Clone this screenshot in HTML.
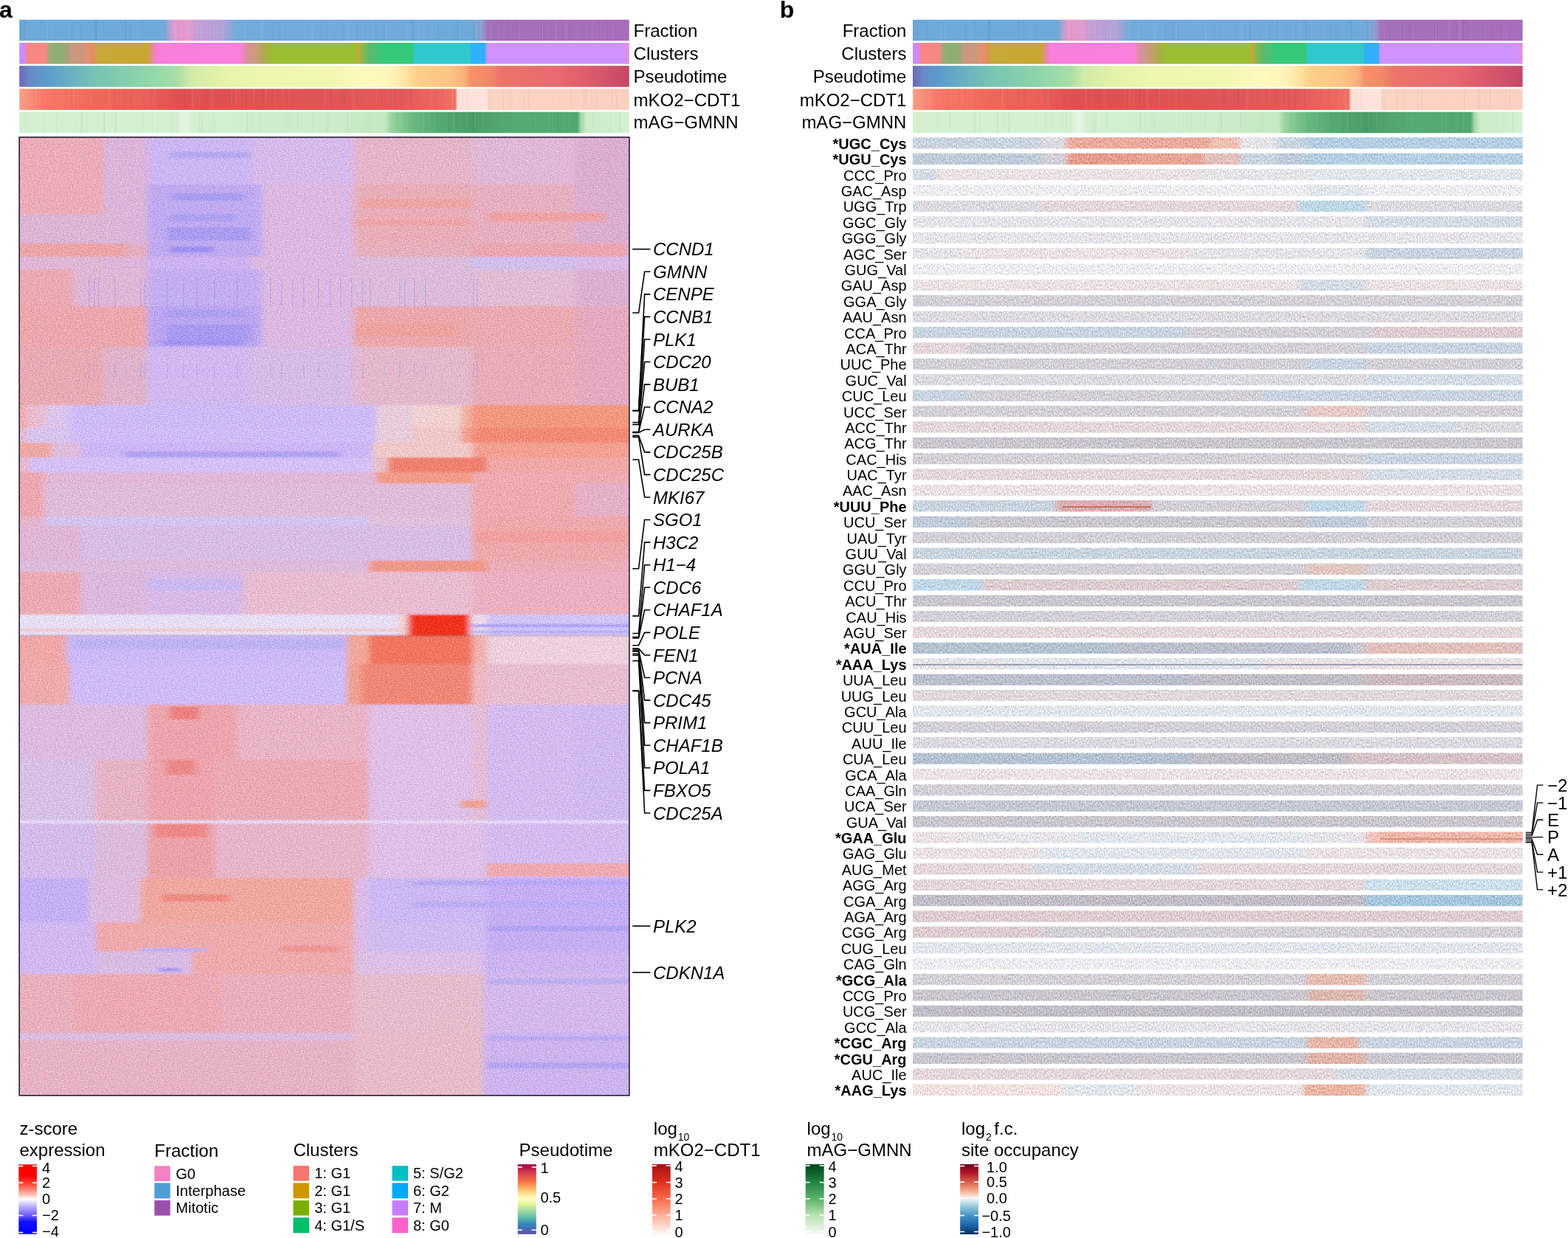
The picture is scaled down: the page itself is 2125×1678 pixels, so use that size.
<!DOCTYPE html><html><head><meta charset="utf-8"><title>Figure</title><style>html,body{margin:0;padding:0;background:#fff;}body{width:2125px;height:1678px;overflow:hidden;}svg{display:block;}</style></head><body><svg width="2125" height="1678" viewBox="0 0 2125 1678" font-family="'Liberation Sans', Arial, Helvetica, sans-serif" fill="#000"><defs><linearGradient id="g1" gradientUnits="userSpaceOnUse" x1="26.20" y1="0" x2="852.70" y2="0"><stop offset="0.0000" stop-color="#6aa2d4"/><stop offset="0.0046" stop-color="#6fa9d9"/><stop offset="0.2393" stop-color="#70aad9"/><stop offset="0.2466" stop-color="#b8a0d6"/><stop offset="0.2538" stop-color="#e29bcc"/><stop offset="0.2805" stop-color="#df9ccd"/><stop offset="0.2901" stop-color="#c4a0d6"/><stop offset="0.3313" stop-color="#b4a2d8"/><stop offset="0.3458" stop-color="#92a6d8"/><stop offset="0.3531" stop-color="#74aada"/><stop offset="0.7426" stop-color="#70aad9"/><stop offset="0.7572" stop-color="#8ea0d2"/><stop offset="0.7693" stop-color="#a470b8"/><stop offset="1.0000" stop-color="#a66db8"/></linearGradient><linearGradient id="g2" gradientUnits="userSpaceOnUse" x1="26.20" y1="0" x2="852.70" y2="0"><stop offset="0.0000" stop-color="#c98cff"/><stop offset="0.0070" stop-color="#c98cff"/><stop offset="0.0143" stop-color="#f98484"/><stop offset="0.0445" stop-color="#f48a80"/><stop offset="0.0482" stop-color="#a0a878"/><stop offset="0.0651" stop-color="#88b070"/><stop offset="0.0796" stop-color="#a8a078"/><stop offset="0.0845" stop-color="#c89880"/><stop offset="0.1074" stop-color="#d09878"/><stop offset="0.1111" stop-color="#e89070"/><stop offset="0.1220" stop-color="#e09060"/><stop offset="0.1280" stop-color="#c8a838"/><stop offset="0.2103" stop-color="#c8a830"/><stop offset="0.2175" stop-color="#e08c98"/><stop offset="0.2272" stop-color="#fa7edc"/><stop offset="0.3627" stop-color="#fa80dc"/><stop offset="0.3724" stop-color="#d8909c"/><stop offset="0.3894" stop-color="#c89c78"/><stop offset="0.4063" stop-color="#a8b040"/><stop offset="0.4184" stop-color="#98c030"/><stop offset="0.5515" stop-color="#98c030"/><stop offset="0.5551" stop-color="#d8a040"/><stop offset="0.5600" stop-color="#98b840"/><stop offset="0.5733" stop-color="#60b868"/><stop offset="0.5902" stop-color="#40c478"/><stop offset="0.5950" stop-color="#34c878"/><stop offset="0.6446" stop-color="#34c878"/><stop offset="0.6471" stop-color="#30c8cc"/><stop offset="0.7390" stop-color="#30c8cc"/><stop offset="0.7414" stop-color="#30b0ff"/><stop offset="0.7632" stop-color="#30b0ff"/><stop offset="0.7668" stop-color="#d092ff"/><stop offset="0.9919" stop-color="#d092ff"/><stop offset="0.9967" stop-color="#e090e0"/><stop offset="1.0000" stop-color="#e090e0"/></linearGradient><linearGradient id="g3" gradientUnits="userSpaceOnUse" x1="26.20" y1="0" x2="852.70" y2="0"><stop offset="0.0000" stop-color="#6e68b8"/><stop offset="0.0167" stop-color="#6a88c8"/><stop offset="0.0433" stop-color="#5a9ccc"/><stop offset="0.0772" stop-color="#68acc4"/><stop offset="0.1256" stop-color="#78c4b4"/><stop offset="0.1800" stop-color="#84d0ac"/><stop offset="0.2284" stop-color="#98daaa"/><stop offset="0.2587" stop-color="#a8dea8"/><stop offset="0.2805" stop-color="#d0eba8"/><stop offset="0.3313" stop-color="#e4f3a8"/><stop offset="0.3918" stop-color="#eef6b0"/><stop offset="0.5007" stop-color="#f2f6b0"/><stop offset="0.5733" stop-color="#fdfac0"/><stop offset="0.6096" stop-color="#fef4b8"/><stop offset="0.6338" stop-color="#fde4a0"/><stop offset="0.6519" stop-color="#fcd088"/><stop offset="0.7064" stop-color="#fcc482"/><stop offset="0.7306" stop-color="#fbb078"/><stop offset="0.7402" stop-color="#f89068"/><stop offset="0.7668" stop-color="#f58a68"/><stop offset="0.7910" stop-color="#ec7468"/><stop offset="0.8878" stop-color="#e86870"/><stop offset="0.9362" stop-color="#dc5a6c"/><stop offset="1.0000" stop-color="#c44868"/></linearGradient><linearGradient id="g4" gradientUnits="userSpaceOnUse" x1="26.20" y1="0" x2="852.70" y2="0"><stop offset="0.0000" stop-color="#fca088"/><stop offset="0.0167" stop-color="#fa8e78"/><stop offset="0.0409" stop-color="#f87868"/><stop offset="0.0893" stop-color="#f47060"/><stop offset="0.1256" stop-color="#f06858"/><stop offset="0.2103" stop-color="#e86058"/><stop offset="0.2587" stop-color="#e05050"/><stop offset="0.3313" stop-color="#e05050"/><stop offset="0.5007" stop-color="#e05555"/><stop offset="0.6217" stop-color="#e45858"/><stop offset="0.6943" stop-color="#ee6860"/><stop offset="0.7148" stop-color="#f07060"/><stop offset="0.7185" stop-color="#fbe0d8"/><stop offset="0.7668" stop-color="#fce4dc"/><stop offset="0.7705" stop-color="#fcd4c4"/><stop offset="1.0000" stop-color="#fcd0c0"/></linearGradient><linearGradient id="g5" gradientUnits="userSpaceOnUse" x1="26.20" y1="0" x2="852.70" y2="0"><stop offset="0.0000" stop-color="#d4efd2"/><stop offset="0.2587" stop-color="#d4efd2"/><stop offset="0.2732" stop-color="#e6f7e6"/><stop offset="0.2853" stop-color="#d4efd2"/><stop offset="0.5007" stop-color="#cceccb"/><stop offset="0.5999" stop-color="#c4e8c4"/><stop offset="0.6096" stop-color="#98d4a0"/><stop offset="0.6277" stop-color="#80c890"/><stop offset="0.6459" stop-color="#68b880"/><stop offset="0.6943" stop-color="#52a872"/><stop offset="0.7426" stop-color="#4a9e6a"/><stop offset="0.8152" stop-color="#54aa74"/><stop offset="0.9145" stop-color="#50a870"/><stop offset="0.9217" stop-color="#a8dcb0"/><stop offset="0.9302" stop-color="#ccecca"/><stop offset="1.0000" stop-color="#d4f0d4"/></linearGradient><linearGradient id="g6" gradientUnits="userSpaceOnUse" x1="1237.00" y1="0" x2="2063.50" y2="0"><stop offset="0.0000" stop-color="#6aa2d4"/><stop offset="0.0046" stop-color="#6fa9d9"/><stop offset="0.2393" stop-color="#70aad9"/><stop offset="0.2466" stop-color="#b8a0d6"/><stop offset="0.2538" stop-color="#e29bcc"/><stop offset="0.2805" stop-color="#df9ccd"/><stop offset="0.2901" stop-color="#c4a0d6"/><stop offset="0.3313" stop-color="#b4a2d8"/><stop offset="0.3458" stop-color="#92a6d8"/><stop offset="0.3531" stop-color="#74aada"/><stop offset="0.7426" stop-color="#70aad9"/><stop offset="0.7572" stop-color="#8ea0d2"/><stop offset="0.7693" stop-color="#a470b8"/><stop offset="1.0000" stop-color="#a66db8"/></linearGradient><linearGradient id="g7" gradientUnits="userSpaceOnUse" x1="1237.00" y1="0" x2="2063.50" y2="0"><stop offset="0.0000" stop-color="#c98cff"/><stop offset="0.0070" stop-color="#c98cff"/><stop offset="0.0143" stop-color="#f98484"/><stop offset="0.0445" stop-color="#f48a80"/><stop offset="0.0482" stop-color="#a0a878"/><stop offset="0.0651" stop-color="#88b070"/><stop offset="0.0796" stop-color="#a8a078"/><stop offset="0.0845" stop-color="#c89880"/><stop offset="0.1074" stop-color="#d09878"/><stop offset="0.1111" stop-color="#e89070"/><stop offset="0.1220" stop-color="#e09060"/><stop offset="0.1280" stop-color="#c8a838"/><stop offset="0.2103" stop-color="#c8a830"/><stop offset="0.2175" stop-color="#e08c98"/><stop offset="0.2272" stop-color="#fa7edc"/><stop offset="0.3627" stop-color="#fa80dc"/><stop offset="0.3724" stop-color="#d8909c"/><stop offset="0.3894" stop-color="#c89c78"/><stop offset="0.4063" stop-color="#a8b040"/><stop offset="0.4184" stop-color="#98c030"/><stop offset="0.5515" stop-color="#98c030"/><stop offset="0.5551" stop-color="#d8a040"/><stop offset="0.5600" stop-color="#98b840"/><stop offset="0.5733" stop-color="#60b868"/><stop offset="0.5902" stop-color="#40c478"/><stop offset="0.5950" stop-color="#34c878"/><stop offset="0.6446" stop-color="#34c878"/><stop offset="0.6471" stop-color="#30c8cc"/><stop offset="0.7390" stop-color="#30c8cc"/><stop offset="0.7414" stop-color="#30b0ff"/><stop offset="0.7632" stop-color="#30b0ff"/><stop offset="0.7668" stop-color="#d092ff"/><stop offset="0.9919" stop-color="#d092ff"/><stop offset="0.9967" stop-color="#e090e0"/><stop offset="1.0000" stop-color="#e090e0"/></linearGradient><linearGradient id="g8" gradientUnits="userSpaceOnUse" x1="1237.00" y1="0" x2="2063.50" y2="0"><stop offset="0.0000" stop-color="#6e68b8"/><stop offset="0.0167" stop-color="#6a88c8"/><stop offset="0.0433" stop-color="#5a9ccc"/><stop offset="0.0772" stop-color="#68acc4"/><stop offset="0.1256" stop-color="#78c4b4"/><stop offset="0.1800" stop-color="#84d0ac"/><stop offset="0.2284" stop-color="#98daaa"/><stop offset="0.2587" stop-color="#a8dea8"/><stop offset="0.2805" stop-color="#d0eba8"/><stop offset="0.3313" stop-color="#e4f3a8"/><stop offset="0.3918" stop-color="#eef6b0"/><stop offset="0.5007" stop-color="#f2f6b0"/><stop offset="0.5733" stop-color="#fdfac0"/><stop offset="0.6096" stop-color="#fef4b8"/><stop offset="0.6338" stop-color="#fde4a0"/><stop offset="0.6519" stop-color="#fcd088"/><stop offset="0.7064" stop-color="#fcc482"/><stop offset="0.7306" stop-color="#fbb078"/><stop offset="0.7402" stop-color="#f89068"/><stop offset="0.7668" stop-color="#f58a68"/><stop offset="0.7910" stop-color="#ec7468"/><stop offset="0.8878" stop-color="#e86870"/><stop offset="0.9362" stop-color="#dc5a6c"/><stop offset="1.0000" stop-color="#c44868"/></linearGradient><linearGradient id="g9" gradientUnits="userSpaceOnUse" x1="1237.00" y1="0" x2="2063.50" y2="0"><stop offset="0.0000" stop-color="#fca088"/><stop offset="0.0167" stop-color="#fa8e78"/><stop offset="0.0409" stop-color="#f87868"/><stop offset="0.0893" stop-color="#f47060"/><stop offset="0.1256" stop-color="#f06858"/><stop offset="0.2103" stop-color="#e86058"/><stop offset="0.2587" stop-color="#e05050"/><stop offset="0.3313" stop-color="#e05050"/><stop offset="0.5007" stop-color="#e05555"/><stop offset="0.6217" stop-color="#e45858"/><stop offset="0.6943" stop-color="#ee6860"/><stop offset="0.7148" stop-color="#f07060"/><stop offset="0.7185" stop-color="#fbe0d8"/><stop offset="0.7668" stop-color="#fce4dc"/><stop offset="0.7705" stop-color="#fcd4c4"/><stop offset="1.0000" stop-color="#fcd0c0"/></linearGradient><linearGradient id="g10" gradientUnits="userSpaceOnUse" x1="1237.00" y1="0" x2="2063.50" y2="0"><stop offset="0.0000" stop-color="#d4efd2"/><stop offset="0.2587" stop-color="#d4efd2"/><stop offset="0.2732" stop-color="#e6f7e6"/><stop offset="0.2853" stop-color="#d4efd2"/><stop offset="0.5007" stop-color="#cceccb"/><stop offset="0.5999" stop-color="#c4e8c4"/><stop offset="0.6096" stop-color="#98d4a0"/><stop offset="0.6277" stop-color="#80c890"/><stop offset="0.6459" stop-color="#68b880"/><stop offset="0.6943" stop-color="#52a872"/><stop offset="0.7426" stop-color="#4a9e6a"/><stop offset="0.8152" stop-color="#54aa74"/><stop offset="0.9145" stop-color="#50a870"/><stop offset="0.9217" stop-color="#a8dcb0"/><stop offset="0.9302" stop-color="#ccecca"/><stop offset="1.0000" stop-color="#d4f0d4"/></linearGradient><clipPath id="hclip"><rect x="26.20" y="186.00" width="826.60" height="1298.80"/></clipPath><filter id="hblur" filterUnits="userSpaceOnUse" x="0" y="170" width="900" height="1340"><feGaussianBlur stdDeviation="4 1.0"/></filter><filter id="hnoise" filterUnits="userSpaceOnUse" x="26.2" y="186.0" width="826.6" height="1298.8" color-interpolation-filters="sRGB"><feTurbulence type="fractalNoise" baseFrequency="0.55 0.9" numOctaves="2" seed="11" result="n"/><feColorMatrix in="n" type="matrix" values="0.6 0.3 0 0 0.05  0.7 0 0 0 0.15  0.6 -0.3 0 0 0.35  0 0 0 0 1" result="c"/><feComposite in="SourceGraphic" in2="c" operator="arithmetic" k1="0" k2="1" k3="0.45" k4="-0.225"/></filter><filter id="bnoise" filterUnits="userSpaceOnUse" x="1237.0" y="186.1" width="826.6" height="1304.8" color-interpolation-filters="sRGB"><feTurbulence type="fractalNoise" baseFrequency="0.8 0.35" numOctaves="2" seed="23" result="n"/><feColorMatrix in="n" type="matrix" values="0.6 0.3 0 0 0.05  0.7 0 0 0 0.15  0.6 -0.3 0 0 0.35  0 0 0 0 1" result="c"/><feComposite in="SourceGraphic" in2="c" operator="arithmetic" k1="0" k2="1" k3="0.65" k4="-0.325"/></filter><clipPath id="bclip"><rect x="1237.00" y="186.10" width="826.60" height="15.60"/><rect x="1237.00" y="207.49" width="826.60" height="15.60"/><rect x="1237.00" y="228.88" width="826.60" height="15.60"/><rect x="1237.00" y="250.27" width="826.60" height="15.60"/><rect x="1237.00" y="271.66" width="826.60" height="15.60"/><rect x="1237.00" y="293.05" width="826.60" height="15.60"/><rect x="1237.00" y="314.44" width="826.60" height="15.60"/><rect x="1237.00" y="335.83" width="826.60" height="15.60"/><rect x="1237.00" y="357.22" width="826.60" height="15.60"/><rect x="1237.00" y="378.61" width="826.60" height="15.60"/><rect x="1237.00" y="400.00" width="826.60" height="15.60"/><rect x="1237.00" y="421.39" width="826.60" height="15.60"/><rect x="1237.00" y="442.78" width="826.60" height="15.60"/><rect x="1237.00" y="464.17" width="826.60" height="15.60"/><rect x="1237.00" y="485.56" width="826.60" height="15.60"/><rect x="1237.00" y="506.95" width="826.60" height="15.60"/><rect x="1237.00" y="528.34" width="826.60" height="15.60"/><rect x="1237.00" y="549.73" width="826.60" height="15.60"/><rect x="1237.00" y="571.12" width="826.60" height="15.60"/><rect x="1237.00" y="592.51" width="826.60" height="15.60"/><rect x="1237.00" y="613.90" width="826.60" height="15.60"/><rect x="1237.00" y="635.29" width="826.60" height="15.60"/><rect x="1237.00" y="656.68" width="826.60" height="15.60"/><rect x="1237.00" y="678.07" width="826.60" height="15.60"/><rect x="1237.00" y="699.46" width="826.60" height="15.60"/><rect x="1237.00" y="720.85" width="826.60" height="15.60"/><rect x="1237.00" y="742.24" width="826.60" height="15.60"/><rect x="1237.00" y="763.63" width="826.60" height="15.60"/><rect x="1237.00" y="785.02" width="826.60" height="15.60"/><rect x="1237.00" y="806.41" width="826.60" height="15.60"/><rect x="1237.00" y="827.80" width="826.60" height="15.60"/><rect x="1237.00" y="849.19" width="826.60" height="15.60"/><rect x="1237.00" y="870.58" width="826.60" height="15.60"/><rect x="1237.00" y="891.97" width="826.60" height="15.60"/><rect x="1237.00" y="913.36" width="826.60" height="15.60"/><rect x="1237.00" y="934.75" width="826.60" height="15.60"/><rect x="1237.00" y="956.14" width="826.60" height="15.60"/><rect x="1237.00" y="977.53" width="826.60" height="15.60"/><rect x="1237.00" y="998.92" width="826.60" height="15.60"/><rect x="1237.00" y="1020.31" width="826.60" height="15.60"/><rect x="1237.00" y="1041.70" width="826.60" height="15.60"/><rect x="1237.00" y="1063.09" width="826.60" height="15.60"/><rect x="1237.00" y="1084.48" width="826.60" height="15.60"/><rect x="1237.00" y="1105.87" width="826.60" height="15.60"/><rect x="1237.00" y="1127.26" width="826.60" height="15.60"/><rect x="1237.00" y="1148.65" width="826.60" height="15.60"/><rect x="1237.00" y="1170.04" width="826.60" height="15.60"/><rect x="1237.00" y="1191.43" width="826.60" height="15.60"/><rect x="1237.00" y="1212.82" width="826.60" height="15.60"/><rect x="1237.00" y="1234.21" width="826.60" height="15.60"/><rect x="1237.00" y="1255.60" width="826.60" height="15.60"/><rect x="1237.00" y="1276.99" width="826.60" height="15.60"/><rect x="1237.00" y="1298.38" width="826.60" height="15.60"/><rect x="1237.00" y="1319.77" width="826.60" height="15.60"/><rect x="1237.00" y="1341.16" width="826.60" height="15.60"/><rect x="1237.00" y="1362.55" width="826.60" height="15.60"/><rect x="1237.00" y="1383.94" width="826.60" height="15.60"/><rect x="1237.00" y="1405.33" width="826.60" height="15.60"/><rect x="1237.00" y="1426.72" width="826.60" height="15.60"/><rect x="1237.00" y="1448.11" width="826.60" height="15.60"/><rect x="1237.00" y="1469.50" width="826.60" height="15.60"/></clipPath><filter id="bblur" filterUnits="userSpaceOnUse" x="1217.0" y="181.1" width="866.6" height="1314.8"><feGaussianBlur stdDeviation="3 0"/></filter><linearGradient id="g11" gradientUnits="userSpaceOnUse" x1="1237.00" y1="0" x2="2063.60" y2="0"><stop offset="0.0018" stop-color="#c9d4df"/><stop offset="0.2087" stop-color="#c9d4df"/><stop offset="0.2123" stop-color="#dcdadf"/><stop offset="0.2510" stop-color="#dcdadf"/><stop offset="0.2547" stop-color="#eeaa9c"/><stop offset="0.4869" stop-color="#eeaa9c"/><stop offset="0.4906" stop-color="#f0c0b4"/><stop offset="0.5353" stop-color="#f0c0b4"/><stop offset="0.5390" stop-color="#e6e4e8"/><stop offset="0.5958" stop-color="#e6e4e8"/><stop offset="0.5994" stop-color="#c9d4df"/><stop offset="0.6442" stop-color="#c9d4df"/><stop offset="0.6478" stop-color="#b3cfe2"/><stop offset="0.9987" stop-color="#b3cfe2"/></linearGradient><linearGradient id="g12" gradientUnits="userSpaceOnUse" x1="1237.00" y1="0" x2="2063.60" y2="0"><stop offset="0.0018" stop-color="#becbd9"/><stop offset="0.2087" stop-color="#becbd9"/><stop offset="0.2123" stop-color="#d3d0d7"/><stop offset="0.2510" stop-color="#d3d0d7"/><stop offset="0.2547" stop-color="#e89c8c"/><stop offset="0.3660" stop-color="#e89c8c"/><stop offset="0.3696" stop-color="#e8a494"/><stop offset="0.4748" stop-color="#e8a494"/><stop offset="0.4785" stop-color="#e4c0bc"/><stop offset="0.5353" stop-color="#e4c0bc"/><stop offset="0.5390" stop-color="#c9d4df"/><stop offset="0.5958" stop-color="#c9d4df"/><stop offset="0.5994" stop-color="#becbd9"/><stop offset="0.6442" stop-color="#becbd9"/><stop offset="0.6478" stop-color="#b3cfe2"/><stop offset="0.9987" stop-color="#b3cfe2"/></linearGradient><linearGradient id="g13" gradientUnits="userSpaceOnUse" x1="1237.00" y1="0" x2="2063.60" y2="0"><stop offset="0.0018" stop-color="#d4dce5"/><stop offset="0.0393" stop-color="#d4dce5"/><stop offset="0.0429" stop-color="#ebe2e3"/><stop offset="0.4748" stop-color="#ebe2e3"/><stop offset="0.4785" stop-color="#e6e4e8"/><stop offset="0.6442" stop-color="#e6e4e8"/><stop offset="0.6478" stop-color="#e0e6ec"/><stop offset="0.9987" stop-color="#e0e6ec"/></linearGradient><linearGradient id="g14" gradientUnits="userSpaceOnUse" x1="1237.00" y1="0" x2="2063.60" y2="0"><stop offset="0.0018" stop-color="#eeedf0"/><stop offset="0.6442" stop-color="#eeedf0"/><stop offset="0.6478" stop-color="#e0e6ec"/><stop offset="0.7410" stop-color="#e0e6ec"/><stop offset="0.7446" stop-color="#eeedf0"/><stop offset="0.9987" stop-color="#eeedf0"/></linearGradient><linearGradient id="g15" gradientUnits="userSpaceOnUse" x1="1237.00" y1="0" x2="2063.60" y2="0"><stop offset="0.0018" stop-color="#dcdadf"/><stop offset="0.2087" stop-color="#dcdadf"/><stop offset="0.2123" stop-color="#e4d7d9"/><stop offset="0.6321" stop-color="#e4d7d9"/><stop offset="0.6357" stop-color="#bfd7e7"/><stop offset="0.7410" stop-color="#bfd7e7"/><stop offset="0.7446" stop-color="#dcdadf"/><stop offset="0.9987" stop-color="#dcdadf"/></linearGradient><linearGradient id="g16" gradientUnits="userSpaceOnUse" x1="1237.00" y1="0" x2="2063.60" y2="0"><stop offset="0.0018" stop-color="#e6e4e8"/><stop offset="0.7410" stop-color="#e6e4e8"/><stop offset="0.7446" stop-color="#d4dce5"/><stop offset="0.9987" stop-color="#d4dce5"/></linearGradient><linearGradient id="g17" gradientUnits="userSpaceOnUse" x1="1237.00" y1="0" x2="2063.60" y2="0"><stop offset="0.0018" stop-color="#e6e4e8"/><stop offset="0.9987" stop-color="#e6e4e8"/></linearGradient><linearGradient id="g18" gradientUnits="userSpaceOnUse" x1="1237.00" y1="0" x2="2063.60" y2="0"><stop offset="0.0018" stop-color="#e6e4e8"/><stop offset="0.0877" stop-color="#e6e4e8"/><stop offset="0.0913" stop-color="#ebe2e3"/><stop offset="0.4506" stop-color="#ebe2e3"/><stop offset="0.4543" stop-color="#e6e4e8"/><stop offset="0.7410" stop-color="#e6e4e8"/><stop offset="0.7446" stop-color="#c9d4df"/><stop offset="0.9987" stop-color="#c9d4df"/></linearGradient><linearGradient id="g19" gradientUnits="userSpaceOnUse" x1="1237.00" y1="0" x2="2063.60" y2="0"><stop offset="0.0018" stop-color="#eeedf0"/><stop offset="0.9987" stop-color="#eeedf0"/></linearGradient><linearGradient id="g20" gradientUnits="userSpaceOnUse" x1="1237.00" y1="0" x2="2063.60" y2="0"><stop offset="0.0018" stop-color="#ebe2e3"/><stop offset="0.6321" stop-color="#ebe2e3"/><stop offset="0.6357" stop-color="#d4dce5"/><stop offset="0.7410" stop-color="#d4dce5"/><stop offset="0.7446" stop-color="#ebe2e3"/><stop offset="0.9987" stop-color="#ebe2e3"/></linearGradient><linearGradient id="g21" gradientUnits="userSpaceOnUse" x1="1237.00" y1="0" x2="2063.60" y2="0"><stop offset="0.0018" stop-color="#d3d0d7"/><stop offset="0.9987" stop-color="#d3d0d7"/></linearGradient><linearGradient id="g22" gradientUnits="userSpaceOnUse" x1="1237.00" y1="0" x2="2063.60" y2="0"><stop offset="0.0018" stop-color="#dcdadf"/><stop offset="0.9987" stop-color="#dcdadf"/></linearGradient><linearGradient id="g23" gradientUnits="userSpaceOnUse" x1="1237.00" y1="0" x2="2063.60" y2="0"><stop offset="0.0018" stop-color="#c9d4df"/><stop offset="0.4506" stop-color="#c9d4df"/><stop offset="0.4543" stop-color="#d3d0d7"/><stop offset="0.7531" stop-color="#d3d0d7"/><stop offset="0.7567" stop-color="#ddcdcf"/><stop offset="0.9987" stop-color="#ddcdcf"/></linearGradient><linearGradient id="g24" gradientUnits="userSpaceOnUse" x1="1237.00" y1="0" x2="2063.60" y2="0"><stop offset="0.0018" stop-color="#e4d7d9"/><stop offset="0.0877" stop-color="#e4d7d9"/><stop offset="0.0913" stop-color="#d3d0d7"/><stop offset="0.7410" stop-color="#d3d0d7"/><stop offset="0.7446" stop-color="#c9d4df"/><stop offset="0.9987" stop-color="#c9d4df"/></linearGradient><linearGradient id="g25" gradientUnits="userSpaceOnUse" x1="1237.00" y1="0" x2="2063.60" y2="0"><stop offset="0.0018" stop-color="#d3d0d7"/><stop offset="0.6442" stop-color="#d3d0d7"/><stop offset="0.6478" stop-color="#c9d4df"/><stop offset="0.7410" stop-color="#c9d4df"/><stop offset="0.7446" stop-color="#d3d0d7"/><stop offset="0.9987" stop-color="#d3d0d7"/></linearGradient><linearGradient id="g26" gradientUnits="userSpaceOnUse" x1="1237.00" y1="0" x2="2063.60" y2="0"><stop offset="0.0018" stop-color="#dcdadf"/><stop offset="0.7410" stop-color="#dcdadf"/><stop offset="0.7446" stop-color="#d4dce5"/><stop offset="0.9987" stop-color="#d4dce5"/></linearGradient><linearGradient id="g27" gradientUnits="userSpaceOnUse" x1="1237.00" y1="0" x2="2063.60" y2="0"><stop offset="0.0018" stop-color="#c9d4df"/><stop offset="0.0877" stop-color="#c9d4df"/><stop offset="0.0913" stop-color="#d3d0d7"/><stop offset="0.5716" stop-color="#d3d0d7"/><stop offset="0.5752" stop-color="#c9d4df"/><stop offset="0.9987" stop-color="#c9d4df"/></linearGradient><linearGradient id="g28" gradientUnits="userSpaceOnUse" x1="1237.00" y1="0" x2="2063.60" y2="0"><stop offset="0.0018" stop-color="#d3d0d7"/><stop offset="0.6442" stop-color="#d3d0d7"/><stop offset="0.6478" stop-color="#e4cac4"/><stop offset="0.7410" stop-color="#e4cac4"/><stop offset="0.7446" stop-color="#d3d0d7"/><stop offset="0.9987" stop-color="#d3d0d7"/></linearGradient><linearGradient id="g29" gradientUnits="userSpaceOnUse" x1="1237.00" y1="0" x2="2063.60" y2="0"><stop offset="0.0018" stop-color="#e4d7d9"/><stop offset="0.7410" stop-color="#e4d7d9"/><stop offset="0.7446" stop-color="#d4dce5"/><stop offset="0.8862" stop-color="#d4dce5"/><stop offset="0.8898" stop-color="#dcdadf"/><stop offset="0.9987" stop-color="#dcdadf"/></linearGradient><linearGradient id="g30" gradientUnits="userSpaceOnUse" x1="1237.00" y1="0" x2="2063.60" y2="0"><stop offset="0.0018" stop-color="#cac7cf"/><stop offset="0.9987" stop-color="#cac7cf"/></linearGradient><linearGradient id="g31" gradientUnits="userSpaceOnUse" x1="1237.00" y1="0" x2="2063.60" y2="0"><stop offset="0.0018" stop-color="#d3d0d7"/><stop offset="0.7410" stop-color="#d3d0d7"/><stop offset="0.7446" stop-color="#c9d4df"/><stop offset="0.9987" stop-color="#c9d4df"/></linearGradient><linearGradient id="g32" gradientUnits="userSpaceOnUse" x1="1237.00" y1="0" x2="2063.60" y2="0"><stop offset="0.0018" stop-color="#e4d7d9"/><stop offset="0.7410" stop-color="#e4d7d9"/><stop offset="0.7446" stop-color="#d4dce5"/><stop offset="0.9987" stop-color="#d4dce5"/></linearGradient><linearGradient id="g33" gradientUnits="userSpaceOnUse" x1="1237.00" y1="0" x2="2063.60" y2="0"><stop offset="0.0018" stop-color="#ebe2e3"/><stop offset="0.9987" stop-color="#ebe2e3"/></linearGradient><linearGradient id="g34" gradientUnits="userSpaceOnUse" x1="1237.00" y1="0" x2="2063.60" y2="0"><stop offset="0.0018" stop-color="#c9d4df"/><stop offset="0.2329" stop-color="#c9d4df"/><stop offset="0.2365" stop-color="#d8b0b0"/><stop offset="0.3902" stop-color="#d8b0b0"/><stop offset="0.3938" stop-color="#d3d0d7"/><stop offset="0.6442" stop-color="#d3d0d7"/><stop offset="0.6478" stop-color="#bfd7e7"/><stop offset="0.7410" stop-color="#bfd7e7"/><stop offset="0.7446" stop-color="#e4d7d9"/><stop offset="0.9987" stop-color="#e4d7d9"/></linearGradient><linearGradient id="g35" gradientUnits="userSpaceOnUse" x1="1237.00" y1="0" x2="2063.60" y2="0"><stop offset="0.0018" stop-color="#becbd9"/><stop offset="0.0877" stop-color="#becbd9"/><stop offset="0.0913" stop-color="#cac7cf"/><stop offset="0.6442" stop-color="#cac7cf"/><stop offset="0.6478" stop-color="#becbd9"/><stop offset="0.7410" stop-color="#becbd9"/><stop offset="0.7446" stop-color="#d3d0d7"/><stop offset="0.9987" stop-color="#d3d0d7"/></linearGradient><linearGradient id="g36" gradientUnits="userSpaceOnUse" x1="1237.00" y1="0" x2="2063.60" y2="0"><stop offset="0.0018" stop-color="#d3d0d7"/><stop offset="0.9987" stop-color="#d3d0d7"/></linearGradient><linearGradient id="g37" gradientUnits="userSpaceOnUse" x1="1237.00" y1="0" x2="2063.60" y2="0"><stop offset="0.0018" stop-color="#c9d4df"/><stop offset="0.9987" stop-color="#c9d4df"/></linearGradient><linearGradient id="g38" gradientUnits="userSpaceOnUse" x1="1237.00" y1="0" x2="2063.60" y2="0"><stop offset="0.0018" stop-color="#d3d0d7"/><stop offset="0.6442" stop-color="#d3d0d7"/><stop offset="0.6478" stop-color="#e2c8c2"/><stop offset="0.7410" stop-color="#e2c8c2"/><stop offset="0.7446" stop-color="#d3d0d7"/><stop offset="0.9987" stop-color="#d3d0d7"/></linearGradient><linearGradient id="g39" gradientUnits="userSpaceOnUse" x1="1237.00" y1="0" x2="2063.60" y2="0"><stop offset="0.0018" stop-color="#bfd7e7"/><stop offset="0.1119" stop-color="#bfd7e7"/><stop offset="0.1155" stop-color="#ddcdcf"/><stop offset="0.6321" stop-color="#ddcdcf"/><stop offset="0.6357" stop-color="#bfd7e7"/><stop offset="0.7410" stop-color="#bfd7e7"/><stop offset="0.7446" stop-color="#ddcdcf"/><stop offset="0.9987" stop-color="#ddcdcf"/></linearGradient><linearGradient id="g40" gradientUnits="userSpaceOnUse" x1="1237.00" y1="0" x2="2063.60" y2="0"><stop offset="0.0018" stop-color="#cac7cf"/><stop offset="0.9987" stop-color="#cac7cf"/></linearGradient><linearGradient id="g41" gradientUnits="userSpaceOnUse" x1="1237.00" y1="0" x2="2063.60" y2="0"><stop offset="0.0018" stop-color="#d3d0d7"/><stop offset="0.9987" stop-color="#d3d0d7"/></linearGradient><linearGradient id="g42" gradientUnits="userSpaceOnUse" x1="1237.00" y1="0" x2="2063.60" y2="0"><stop offset="0.0018" stop-color="#e4d7d9"/><stop offset="0.9987" stop-color="#e4d7d9"/></linearGradient><linearGradient id="g43" gradientUnits="userSpaceOnUse" x1="1237.00" y1="0" x2="2063.60" y2="0"><stop offset="0.0018" stop-color="#b4c3d2"/><stop offset="0.3297" stop-color="#b4c3d2"/><stop offset="0.3333" stop-color="#bac0cd"/><stop offset="0.7168" stop-color="#bac0cd"/><stop offset="0.7204" stop-color="#cac7cf"/><stop offset="0.7410" stop-color="#cac7cf"/><stop offset="0.7446" stop-color="#e2bfbc"/><stop offset="0.9987" stop-color="#e2bfbc"/></linearGradient><linearGradient id="g44" gradientUnits="userSpaceOnUse" x1="1237.00" y1="0" x2="2063.60" y2="0"><stop offset="0.0018" stop-color="#e6e4e8"/><stop offset="0.1482" stop-color="#e6e4e8"/><stop offset="0.1518" stop-color="#e0e6ec"/><stop offset="0.5716" stop-color="#e0e6ec"/><stop offset="0.5752" stop-color="#ebe2e3"/><stop offset="0.9987" stop-color="#ebe2e3"/></linearGradient><linearGradient id="g45" gradientUnits="userSpaceOnUse" x1="1237.00" y1="0" x2="2063.60" y2="0"><stop offset="0.0018" stop-color="#bac0cd"/><stop offset="0.4506" stop-color="#bac0cd"/><stop offset="0.4543" stop-color="#c1bec7"/><stop offset="0.7410" stop-color="#c1bec7"/><stop offset="0.7446" stop-color="#cbbabf"/><stop offset="0.9987" stop-color="#cbbabf"/></linearGradient><linearGradient id="g46" gradientUnits="userSpaceOnUse" x1="1237.00" y1="0" x2="2063.60" y2="0"><stop offset="0.0018" stop-color="#e0d8dc"/><stop offset="0.9987" stop-color="#e0d8dc"/></linearGradient><linearGradient id="g47" gradientUnits="userSpaceOnUse" x1="1237.00" y1="0" x2="2063.60" y2="0"><stop offset="0.0018" stop-color="#e0e6ec"/><stop offset="0.9987" stop-color="#e0e6ec"/></linearGradient><linearGradient id="g48" gradientUnits="userSpaceOnUse" x1="1237.00" y1="0" x2="2063.60" y2="0"><stop offset="0.0018" stop-color="#d3d0d7"/><stop offset="0.9987" stop-color="#d3d0d7"/></linearGradient><linearGradient id="g49" gradientUnits="userSpaceOnUse" x1="1237.00" y1="0" x2="2063.60" y2="0"><stop offset="0.0018" stop-color="#dcdadf"/><stop offset="0.9987" stop-color="#dcdadf"/></linearGradient><linearGradient id="g50" gradientUnits="userSpaceOnUse" x1="1237.00" y1="0" x2="2063.60" y2="0"><stop offset="0.0018" stop-color="#b4c3d2"/><stop offset="0.4506" stop-color="#b4c3d2"/><stop offset="0.4543" stop-color="#c1bec7"/><stop offset="0.7168" stop-color="#c1bec7"/><stop offset="0.7204" stop-color="#d6c3c6"/><stop offset="0.9987" stop-color="#d6c3c6"/></linearGradient><linearGradient id="g51" gradientUnits="userSpaceOnUse" x1="1237.00" y1="0" x2="2063.60" y2="0"><stop offset="0.0018" stop-color="#ebe2e3"/><stop offset="0.9987" stop-color="#ebe2e3"/></linearGradient><linearGradient id="g52" gradientUnits="userSpaceOnUse" x1="1237.00" y1="0" x2="2063.60" y2="0"><stop offset="0.0018" stop-color="#d3d0d7"/><stop offset="0.9987" stop-color="#d3d0d7"/></linearGradient><linearGradient id="g53" gradientUnits="userSpaceOnUse" x1="1237.00" y1="0" x2="2063.60" y2="0"><stop offset="0.0018" stop-color="#c4c9d4"/><stop offset="0.9987" stop-color="#c4c9d4"/></linearGradient><linearGradient id="g54" gradientUnits="userSpaceOnUse" x1="1237.00" y1="0" x2="2063.60" y2="0"><stop offset="0.0018" stop-color="#cac7cf"/><stop offset="0.9987" stop-color="#cac7cf"/></linearGradient><linearGradient id="g55" gradientUnits="userSpaceOnUse" x1="1237.00" y1="0" x2="2063.60" y2="0"><stop offset="0.0018" stop-color="#ebe2e3"/><stop offset="0.0877" stop-color="#ebe2e3"/><stop offset="0.0913" stop-color="#e6e4e8"/><stop offset="0.2692" stop-color="#e6e4e8"/><stop offset="0.2728" stop-color="#e0e6ec"/><stop offset="0.6442" stop-color="#e0e6ec"/><stop offset="0.6478" stop-color="#e6e4e8"/><stop offset="0.7410" stop-color="#e6e4e8"/><stop offset="0.7446" stop-color="#f0c4bc"/><stop offset="0.7652" stop-color="#f0c4bc"/><stop offset="0.7688" stop-color="#eeb8ac"/><stop offset="0.9987" stop-color="#eeb8ac"/></linearGradient><linearGradient id="g56" gradientUnits="userSpaceOnUse" x1="1237.00" y1="0" x2="2063.60" y2="0"><stop offset="0.0018" stop-color="#ebe2e3"/><stop offset="0.2087" stop-color="#ebe2e3"/><stop offset="0.2123" stop-color="#e0e6ec"/><stop offset="0.6442" stop-color="#e0e6ec"/><stop offset="0.6478" stop-color="#ebe2e3"/><stop offset="0.9987" stop-color="#ebe2e3"/></linearGradient><linearGradient id="g57" gradientUnits="userSpaceOnUse" x1="1237.00" y1="0" x2="2063.60" y2="0"><stop offset="0.0018" stop-color="#e4d7d9"/><stop offset="0.1966" stop-color="#e4d7d9"/><stop offset="0.2002" stop-color="#d4dce5"/><stop offset="0.4627" stop-color="#d4dce5"/><stop offset="0.4664" stop-color="#e4d7d9"/><stop offset="0.9987" stop-color="#e4d7d9"/></linearGradient><linearGradient id="g58" gradientUnits="userSpaceOnUse" x1="1237.00" y1="0" x2="2063.60" y2="0"><stop offset="0.0018" stop-color="#e4d7d9"/><stop offset="0.7410" stop-color="#e4d7d9"/><stop offset="0.7446" stop-color="#ccdfec"/><stop offset="0.9987" stop-color="#ccdfec"/></linearGradient><linearGradient id="g59" gradientUnits="userSpaceOnUse" x1="1237.00" y1="0" x2="2063.60" y2="0"><stop offset="0.0018" stop-color="#c1bec7"/><stop offset="0.4506" stop-color="#c1bec7"/><stop offset="0.4543" stop-color="#c1bec7"/><stop offset="0.7410" stop-color="#c1bec7"/><stop offset="0.7446" stop-color="#a6c7dd"/><stop offset="0.9987" stop-color="#a6c7dd"/></linearGradient><linearGradient id="g60" gradientUnits="userSpaceOnUse" x1="1237.00" y1="0" x2="2063.60" y2="0"><stop offset="0.0018" stop-color="#ddcdcf"/><stop offset="0.9987" stop-color="#ddcdcf"/></linearGradient><linearGradient id="g61" gradientUnits="userSpaceOnUse" x1="1237.00" y1="0" x2="2063.60" y2="0"><stop offset="0.0018" stop-color="#ddcdcf"/><stop offset="0.2087" stop-color="#ddcdcf"/><stop offset="0.2123" stop-color="#d3d0d7"/><stop offset="0.9987" stop-color="#d3d0d7"/></linearGradient><linearGradient id="g62" gradientUnits="userSpaceOnUse" x1="1237.00" y1="0" x2="2063.60" y2="0"><stop offset="0.0018" stop-color="#e0e6ec"/><stop offset="0.9987" stop-color="#e0e6ec"/></linearGradient><linearGradient id="g63" gradientUnits="userSpaceOnUse" x1="1237.00" y1="0" x2="2063.60" y2="0"><stop offset="0.0018" stop-color="#eeedf0"/><stop offset="0.9987" stop-color="#eeedf0"/></linearGradient><linearGradient id="g64" gradientUnits="userSpaceOnUse" x1="1237.00" y1="0" x2="2063.60" y2="0"><stop offset="0.0018" stop-color="#d3d0d7"/><stop offset="0.6442" stop-color="#d3d0d7"/><stop offset="0.6478" stop-color="#e6bcb0"/><stop offset="0.7410" stop-color="#e6bcb0"/><stop offset="0.7446" stop-color="#d3d0d7"/><stop offset="0.9987" stop-color="#d3d0d7"/></linearGradient><linearGradient id="g65" gradientUnits="userSpaceOnUse" x1="1237.00" y1="0" x2="2063.60" y2="0"><stop offset="0.0018" stop-color="#cac7cf"/><stop offset="0.6442" stop-color="#cac7cf"/><stop offset="0.6478" stop-color="#dcb8b0"/><stop offset="0.7410" stop-color="#dcb8b0"/><stop offset="0.7446" stop-color="#cac7cf"/><stop offset="0.9987" stop-color="#cac7cf"/></linearGradient><linearGradient id="g66" gradientUnits="userSpaceOnUse" x1="1237.00" y1="0" x2="2063.60" y2="0"><stop offset="0.0018" stop-color="#c1bec7"/><stop offset="0.9987" stop-color="#c1bec7"/></linearGradient><linearGradient id="g67" gradientUnits="userSpaceOnUse" x1="1237.00" y1="0" x2="2063.60" y2="0"><stop offset="0.0018" stop-color="#e6e4e8"/><stop offset="0.9987" stop-color="#e6e4e8"/></linearGradient><linearGradient id="g68" gradientUnits="userSpaceOnUse" x1="1237.00" y1="0" x2="2063.60" y2="0"><stop offset="0.0018" stop-color="#c9d4df"/><stop offset="0.6442" stop-color="#c9d4df"/><stop offset="0.6478" stop-color="#e6b6a8"/><stop offset="0.7289" stop-color="#e6b6a8"/><stop offset="0.7325" stop-color="#c9d4df"/><stop offset="0.9987" stop-color="#c9d4df"/></linearGradient><linearGradient id="g69" gradientUnits="userSpaceOnUse" x1="1237.00" y1="0" x2="2063.60" y2="0"><stop offset="0.0018" stop-color="#cac7cf"/><stop offset="0.6442" stop-color="#cac7cf"/><stop offset="0.6478" stop-color="#e0b4a8"/><stop offset="0.7410" stop-color="#e0b4a8"/><stop offset="0.7446" stop-color="#cac7cf"/><stop offset="0.9987" stop-color="#cac7cf"/></linearGradient><linearGradient id="g70" gradientUnits="userSpaceOnUse" x1="1237.00" y1="0" x2="2063.60" y2="0"><stop offset="0.0018" stop-color="#e4d7d9"/><stop offset="0.6926" stop-color="#e4d7d9"/><stop offset="0.6962" stop-color="#d4dce5"/><stop offset="0.9987" stop-color="#d4dce5"/></linearGradient><linearGradient id="g71" gradientUnits="userSpaceOnUse" x1="1237.00" y1="0" x2="2063.60" y2="0"><stop offset="0.0018" stop-color="#f1e0df"/><stop offset="0.2450" stop-color="#f1e0df"/><stop offset="0.2486" stop-color="#e0e6ec"/><stop offset="0.3660" stop-color="#e0e6ec"/><stop offset="0.3696" stop-color="#ebe2e3"/><stop offset="0.6394" stop-color="#ebe2e3"/><stop offset="0.6430" stop-color="#eab4a4"/><stop offset="0.7410" stop-color="#eab4a4"/><stop offset="0.7446" stop-color="#e0e6ec"/><stop offset="0.9987" stop-color="#e0e6ec"/></linearGradient><linearGradient id="g72" gradientUnits="userSpaceOnUse" x1="0" y1="1578.30" x2="0" y2="1672.70"><stop offset="0.0000" stop-color="#ff0000"/><stop offset="0.1557" stop-color="#ff0000"/><stop offset="0.2617" stop-color="#ff3a28"/><stop offset="0.3782" stop-color="#ff9080"/><stop offset="0.5000" stop-color="#ffffff"/><stop offset="0.6112" stop-color="#b8a8ff"/><stop offset="0.7331" stop-color="#6a58ff"/><stop offset="0.8231" stop-color="#1010ff"/><stop offset="1.0000" stop-color="#0000ff"/></linearGradient><linearGradient id="g73" gradientUnits="userSpaceOnUse" x1="0" y1="1578.10" x2="0" y2="1672.80"><stop offset="0.0000" stop-color="#9e0142"/><stop offset="0.1257" stop-color="#d53e4f"/><stop offset="0.2313" stop-color="#f46d43"/><stop offset="0.3369" stop-color="#fdae61"/><stop offset="0.4108" stop-color="#fee08b"/><stop offset="0.4900" stop-color="#ffffbf"/><stop offset="0.5692" stop-color="#e6f598"/><stop offset="0.6536" stop-color="#abdda4"/><stop offset="0.7487" stop-color="#66c2a5"/><stop offset="0.8543" stop-color="#3288bd"/><stop offset="1.0000" stop-color="#5e4fa2"/></linearGradient><linearGradient id="g74" gradientUnits="userSpaceOnUse" x1="0" y1="1578.00" x2="0" y2="1673.00"><stop offset="0.0000" stop-color="#a50f15"/><stop offset="0.2589" stop-color="#e0301e"/><stop offset="0.4926" stop-color="#fb6a4a"/><stop offset="0.7253" stop-color="#fcb09a"/><stop offset="1.0000" stop-color="#fff8f4"/></linearGradient><linearGradient id="g75" gradientUnits="userSpaceOnUse" x1="0" y1="1578.00" x2="0" y2="1673.00"><stop offset="0.0000" stop-color="#00441b"/><stop offset="0.2589" stop-color="#1f8440"/><stop offset="0.4926" stop-color="#5cb46a"/><stop offset="0.7253" stop-color="#b6e0b0"/><stop offset="1.0000" stop-color="#f8fcf6"/></linearGradient><linearGradient id="g76" gradientUnits="userSpaceOnUse" x1="0" y1="1578.00" x2="0" y2="1673.00"><stop offset="0.0000" stop-color="#67001f"/><stop offset="0.1263" stop-color="#b2182b"/><stop offset="0.2547" stop-color="#d6604d"/><stop offset="0.3684" stop-color="#f4a582"/><stop offset="0.4842" stop-color="#f7f7f7"/><stop offset="0.6105" stop-color="#92c5de"/><stop offset="0.7305" stop-color="#4393c3"/><stop offset="0.8632" stop-color="#2166ac"/><stop offset="1.0000" stop-color="#053061"/></linearGradient></defs><text x="-1.00" y="24.20" font-size="32" font-weight="bold">a</text><text x="1056.80" y="24.20" font-size="32" font-weight="bold">b</text><rect x="26.20" y="26.70" width="826.50" height="28.60" fill="url(#g1)"/><rect x="26.20" y="58.00" width="826.50" height="28.60" fill="url(#g2)"/><rect x="26.20" y="89.20" width="826.50" height="28.60" fill="url(#g3)"/><rect x="26.20" y="120.40" width="826.50" height="28.60" fill="url(#g4)"/><rect x="26.20" y="151.70" width="826.50" height="28.60" fill="url(#g5)"/><rect x="223.93" y="26.70" width="1.25" height="28.60" fill="#ffffff" fill-opacity="0.060"/><rect x="542.85" y="26.70" width="0.68" height="28.60" fill="#ffffff" fill-opacity="0.072"/><rect x="241.52" y="26.70" width="0.88" height="28.60" fill="#000000" fill-opacity="0.034"/><rect x="716.19" y="26.70" width="1.17" height="28.60" fill="#000000" fill-opacity="0.025"/><rect x="550.37" y="26.70" width="1.64" height="28.60" fill="#ffffff" fill-opacity="0.067"/><rect x="580.44" y="26.70" width="0.68" height="28.60" fill="#000000" fill-opacity="0.038"/><rect x="275.99" y="26.70" width="0.64" height="28.60" fill="#000000" fill-opacity="0.034"/><rect x="619.43" y="26.70" width="1.65" height="28.60" fill="#000000" fill-opacity="0.048"/><rect x="353.06" y="26.70" width="1.56" height="28.60" fill="#ffffff" fill-opacity="0.077"/><rect x="751.07" y="26.70" width="0.72" height="28.60" fill="#ffffff" fill-opacity="0.041"/><rect x="822.31" y="26.70" width="1.12" height="28.60" fill="#000000" fill-opacity="0.029"/><rect x="445.41" y="26.70" width="1.06" height="28.60" fill="#ffffff" fill-opacity="0.059"/><rect x="508.75" y="26.70" width="1.69" height="28.60" fill="#000000" fill-opacity="0.048"/><rect x="732.59" y="26.70" width="1.79" height="28.60" fill="#000000" fill-opacity="0.025"/><rect x="736.07" y="26.70" width="1.76" height="28.60" fill="#000000" fill-opacity="0.037"/><rect x="615.31" y="26.70" width="0.85" height="28.60" fill="#000000" fill-opacity="0.037"/><rect x="262.58" y="26.70" width="0.68" height="28.60" fill="#000000" fill-opacity="0.050"/><rect x="101.01" y="26.70" width="1.56" height="28.60" fill="#ffffff" fill-opacity="0.038"/><rect x="269.93" y="26.70" width="1.52" height="28.60" fill="#000000" fill-opacity="0.021"/><rect x="533.65" y="26.70" width="0.65" height="28.60" fill="#000000" fill-opacity="0.030"/><rect x="752.74" y="26.70" width="1.78" height="28.60" fill="#ffffff" fill-opacity="0.080"/><rect x="282.90" y="26.70" width="0.69" height="28.60" fill="#000000" fill-opacity="0.021"/><rect x="190.55" y="26.70" width="1.09" height="28.60" fill="#000000" fill-opacity="0.025"/><rect x="63.10" y="26.70" width="1.64" height="28.60" fill="#ffffff" fill-opacity="0.078"/><rect x="765.70" y="26.70" width="1.05" height="28.60" fill="#ffffff" fill-opacity="0.056"/><rect x="557.80" y="26.70" width="1.31" height="28.60" fill="#000000" fill-opacity="0.039"/><rect x="801.86" y="26.70" width="1.21" height="28.60" fill="#ffffff" fill-opacity="0.066"/><rect x="223.66" y="26.70" width="0.96" height="28.60" fill="#000000" fill-opacity="0.036"/><rect x="479.28" y="26.70" width="0.61" height="28.60" fill="#ffffff" fill-opacity="0.059"/><rect x="44.69" y="26.70" width="1.34" height="28.60" fill="#000000" fill-opacity="0.022"/><rect x="544.19" y="26.70" width="1.16" height="28.60" fill="#000000" fill-opacity="0.031"/><rect x="609.67" y="26.70" width="1.49" height="28.60" fill="#ffffff" fill-opacity="0.033"/><rect x="584.23" y="26.70" width="1.76" height="28.60" fill="#ffffff" fill-opacity="0.053"/><rect x="515.67" y="26.70" width="0.98" height="28.60" fill="#ffffff" fill-opacity="0.046"/><rect x="331.83" y="26.70" width="1.31" height="28.60" fill="#ffffff" fill-opacity="0.049"/><rect x="663.39" y="26.70" width="0.63" height="28.60" fill="#000000" fill-opacity="0.042"/><rect x="283.19" y="26.70" width="0.87" height="28.60" fill="#000000" fill-opacity="0.027"/><rect x="182.33" y="26.70" width="1.12" height="28.60" fill="#000000" fill-opacity="0.023"/><rect x="293.02" y="26.70" width="1.00" height="28.60" fill="#000000" fill-opacity="0.033"/><rect x="731.88" y="26.70" width="0.80" height="28.60" fill="#ffffff" fill-opacity="0.063"/><rect x="756.03" y="26.70" width="1.14" height="28.60" fill="#ffffff" fill-opacity="0.036"/><rect x="463.82" y="26.70" width="0.83" height="28.60" fill="#000000" fill-opacity="0.045"/><rect x="179.20" y="26.70" width="0.93" height="28.60" fill="#000000" fill-opacity="0.039"/><rect x="691.35" y="26.70" width="1.01" height="28.60" fill="#ffffff" fill-opacity="0.045"/><rect x="681.15" y="26.70" width="0.93" height="28.60" fill="#ffffff" fill-opacity="0.051"/><rect x="373.46" y="26.70" width="1.09" height="28.60" fill="#000000" fill-opacity="0.025"/><rect x="32.03" y="26.70" width="1.73" height="28.60" fill="#000000" fill-opacity="0.050"/><rect x="385.45" y="26.70" width="1.74" height="28.60" fill="#000000" fill-opacity="0.027"/><rect x="641.39" y="26.70" width="1.60" height="28.60" fill="#000000" fill-opacity="0.036"/><rect x="265.94" y="26.70" width="1.01" height="28.60" fill="#ffffff" fill-opacity="0.033"/><rect x="512.39" y="26.70" width="0.94" height="28.60" fill="#000000" fill-opacity="0.021"/><rect x="771.42" y="26.70" width="1.43" height="28.60" fill="#000000" fill-opacity="0.047"/><rect x="768.18" y="26.70" width="1.29" height="28.60" fill="#ffffff" fill-opacity="0.067"/><rect x="169.52" y="26.70" width="0.96" height="28.60" fill="#000000" fill-opacity="0.036"/><rect x="368.51" y="26.70" width="1.73" height="28.60" fill="#000000" fill-opacity="0.030"/><rect x="235.86" y="26.70" width="1.63" height="28.60" fill="#ffffff" fill-opacity="0.069"/><rect x="317.59" y="26.70" width="0.84" height="28.60" fill="#ffffff" fill-opacity="0.071"/><rect x="169.10" y="26.70" width="1.55" height="28.60" fill="#000000" fill-opacity="0.044"/><rect x="705.53" y="26.70" width="0.61" height="28.60" fill="#000000" fill-opacity="0.046"/><rect x="69.27" y="26.70" width="0.93" height="28.60" fill="#ffffff" fill-opacity="0.056"/><rect x="376.10" y="26.70" width="1.17" height="28.60" fill="#000000" fill-opacity="0.020"/><rect x="73.30" y="26.70" width="0.75" height="28.60" fill="#ffffff" fill-opacity="0.033"/><rect x="829.88" y="26.70" width="1.63" height="28.60" fill="#ffffff" fill-opacity="0.055"/><rect x="288.02" y="26.70" width="0.98" height="28.60" fill="#ffffff" fill-opacity="0.062"/><rect x="510.69" y="26.70" width="1.03" height="28.60" fill="#ffffff" fill-opacity="0.046"/><rect x="129.99" y="26.70" width="1.27" height="28.60" fill="#000000" fill-opacity="0.031"/><rect x="93.92" y="26.70" width="0.81" height="28.60" fill="#ffffff" fill-opacity="0.060"/><rect x="671.91" y="26.70" width="1.06" height="28.60" fill="#000000" fill-opacity="0.039"/><rect x="383.19" y="26.70" width="1.05" height="28.60" fill="#ffffff" fill-opacity="0.065"/><rect x="374.07" y="26.70" width="1.43" height="28.60" fill="#ffffff" fill-opacity="0.042"/><rect x="468.93" y="26.70" width="1.43" height="28.60" fill="#ffffff" fill-opacity="0.051"/><rect x="378.47" y="26.70" width="1.66" height="28.60" fill="#000000" fill-opacity="0.031"/><rect x="766.69" y="26.70" width="1.55" height="28.60" fill="#ffffff" fill-opacity="0.053"/><rect x="129.49" y="26.70" width="1.58" height="28.60" fill="#000000" fill-opacity="0.047"/><rect x="680.01" y="26.70" width="1.40" height="28.60" fill="#000000" fill-opacity="0.037"/><rect x="113.03" y="26.70" width="1.31" height="28.60" fill="#ffffff" fill-opacity="0.037"/><rect x="665.07" y="26.70" width="0.65" height="28.60" fill="#ffffff" fill-opacity="0.035"/><rect x="752.38" y="26.70" width="0.81" height="28.60" fill="#ffffff" fill-opacity="0.072"/><rect x="127.96" y="26.70" width="1.61" height="28.60" fill="#000000" fill-opacity="0.045"/><rect x="811.56" y="26.70" width="1.29" height="28.60" fill="#000000" fill-opacity="0.021"/><rect x="659.40" y="26.70" width="1.21" height="28.60" fill="#000000" fill-opacity="0.023"/><rect x="644.22" y="26.70" width="1.72" height="28.60" fill="#ffffff" fill-opacity="0.046"/><rect x="492.07" y="26.70" width="1.59" height="28.60" fill="#ffffff" fill-opacity="0.039"/><rect x="233.80" y="26.70" width="1.34" height="28.60" fill="#000000" fill-opacity="0.032"/><rect x="330.45" y="26.70" width="1.08" height="28.60" fill="#ffffff" fill-opacity="0.051"/><rect x="96.68" y="26.70" width="1.20" height="28.60" fill="#000000" fill-opacity="0.032"/><rect x="642.94" y="26.70" width="0.79" height="28.60" fill="#000000" fill-opacity="0.043"/><rect x="582.45" y="26.70" width="1.22" height="28.60" fill="#ffffff" fill-opacity="0.062"/><rect x="766.31" y="26.70" width="0.78" height="28.60" fill="#ffffff" fill-opacity="0.067"/><rect x="782.12" y="26.70" width="1.22" height="28.60" fill="#ffffff" fill-opacity="0.066"/><rect x="181.28" y="26.70" width="0.92" height="28.60" fill="#ffffff" fill-opacity="0.059"/><rect x="287.16" y="26.70" width="0.88" height="28.60" fill="#000000" fill-opacity="0.049"/><rect x="271.55" y="26.70" width="1.45" height="28.60" fill="#ffffff" fill-opacity="0.073"/><rect x="509.07" y="26.70" width="0.92" height="28.60" fill="#ffffff" fill-opacity="0.031"/><rect x="422.58" y="26.70" width="1.06" height="28.60" fill="#ffffff" fill-opacity="0.048"/><rect x="293.08" y="26.70" width="1.53" height="28.60" fill="#ffffff" fill-opacity="0.080"/><rect x="422.66" y="26.70" width="1.32" height="28.60" fill="#ffffff" fill-opacity="0.072"/><rect x="703.98" y="26.70" width="1.27" height="28.60" fill="#ffffff" fill-opacity="0.066"/><rect x="732.79" y="26.70" width="1.08" height="28.60" fill="#000000" fill-opacity="0.049"/><rect x="412.63" y="26.70" width="0.88" height="28.60" fill="#ffffff" fill-opacity="0.066"/><rect x="583.68" y="26.70" width="1.75" height="28.60" fill="#000000" fill-opacity="0.027"/><rect x="184.17" y="26.70" width="0.91" height="28.60" fill="#ffffff" fill-opacity="0.065"/><rect x="734.39" y="26.70" width="1.68" height="28.60" fill="#ffffff" fill-opacity="0.073"/><rect x="285.99" y="26.70" width="1.11" height="28.60" fill="#000000" fill-opacity="0.023"/><rect x="104.40" y="26.70" width="1.60" height="28.60" fill="#ffffff" fill-opacity="0.048"/><rect x="505.50" y="26.70" width="1.41" height="28.60" fill="#ffffff" fill-opacity="0.047"/><rect x="386.99" y="26.70" width="1.18" height="28.60" fill="#ffffff" fill-opacity="0.059"/><rect x="813.96" y="26.70" width="1.07" height="28.60" fill="#ffffff" fill-opacity="0.036"/><rect x="254.19" y="26.70" width="1.40" height="28.60" fill="#ffffff" fill-opacity="0.074"/><rect x="775.66" y="26.70" width="0.72" height="28.60" fill="#000000" fill-opacity="0.031"/><rect x="663.51" y="26.70" width="1.51" height="28.60" fill="#ffffff" fill-opacity="0.064"/><rect x="566.18" y="26.70" width="1.57" height="28.60" fill="#ffffff" fill-opacity="0.068"/><rect x="818.89" y="26.70" width="1.41" height="28.60" fill="#ffffff" fill-opacity="0.036"/><rect x="434.42" y="26.70" width="1.02" height="28.60" fill="#000000" fill-opacity="0.040"/><rect x="494.06" y="26.70" width="0.82" height="28.60" fill="#000000" fill-opacity="0.039"/><rect x="175.51" y="26.70" width="1.67" height="28.60" fill="#000000" fill-opacity="0.024"/><rect x="794.64" y="26.70" width="0.77" height="28.60" fill="#ffffff" fill-opacity="0.066"/><rect x="519.59" y="26.70" width="1.27" height="28.60" fill="#000000" fill-opacity="0.034"/><rect x="285.18" y="26.70" width="0.81" height="28.60" fill="#ffffff" fill-opacity="0.066"/><rect x="648.76" y="26.70" width="1.25" height="28.60" fill="#000000" fill-opacity="0.031"/><rect x="246.86" y="26.70" width="1.06" height="28.60" fill="#000000" fill-opacity="0.021"/><rect x="443.33" y="26.70" width="0.90" height="28.60" fill="#000000" fill-opacity="0.031"/><rect x="301.98" y="26.70" width="1.08" height="28.60" fill="#ffffff" fill-opacity="0.069"/><rect x="318.45" y="26.70" width="1.62" height="28.60" fill="#ffffff" fill-opacity="0.044"/><rect x="110.16" y="26.70" width="0.74" height="28.60" fill="#000000" fill-opacity="0.042"/><rect x="180.24" y="26.70" width="0.83" height="28.60" fill="#ffffff" fill-opacity="0.067"/><rect x="699.15" y="26.70" width="1.50" height="28.60" fill="#000000" fill-opacity="0.024"/><rect x="355.90" y="26.70" width="0.83" height="28.60" fill="#ffffff" fill-opacity="0.058"/><rect x="194.41" y="26.70" width="0.90" height="28.60" fill="#000000" fill-opacity="0.021"/><rect x="688.80" y="26.70" width="1.67" height="28.60" fill="#000000" fill-opacity="0.031"/><rect x="482.72" y="26.70" width="1.30" height="28.60" fill="#000000" fill-opacity="0.049"/><rect x="592.95" y="26.70" width="0.96" height="28.60" fill="#000000" fill-opacity="0.035"/><rect x="522.82" y="26.70" width="1.47" height="28.60" fill="#ffffff" fill-opacity="0.069"/><rect x="572.64" y="26.70" width="1.19" height="28.60" fill="#ffffff" fill-opacity="0.053"/><rect x="187.30" y="26.70" width="1.24" height="28.60" fill="#ffffff" fill-opacity="0.055"/><rect x="559.50" y="26.70" width="1.13" height="28.60" fill="#000000" fill-opacity="0.049"/><rect x="761.91" y="26.70" width="0.76" height="28.60" fill="#000000" fill-opacity="0.039"/><rect x="69.82" y="26.70" width="1.03" height="28.60" fill="#ffffff" fill-opacity="0.034"/><rect x="471.43" y="26.70" width="1.72" height="28.60" fill="#ffffff" fill-opacity="0.074"/><rect x="599.56" y="26.70" width="0.76" height="28.60" fill="#000000" fill-opacity="0.038"/><rect x="790.64" y="120.40" width="1.46" height="28.60" fill="#000000" fill-opacity="0.030"/><rect x="691.69" y="120.40" width="1.72" height="28.60" fill="#000000" fill-opacity="0.033"/><rect x="650.71" y="120.40" width="1.18" height="28.60" fill="#ffffff" fill-opacity="0.032"/><rect x="92.31" y="120.40" width="0.84" height="28.60" fill="#ffffff" fill-opacity="0.055"/><rect x="603.36" y="120.40" width="1.24" height="28.60" fill="#ffffff" fill-opacity="0.062"/><rect x="278.77" y="120.40" width="1.16" height="28.60" fill="#000000" fill-opacity="0.032"/><rect x="176.73" y="120.40" width="1.68" height="28.60" fill="#000000" fill-opacity="0.031"/><rect x="333.33" y="120.40" width="1.24" height="28.60" fill="#000000" fill-opacity="0.027"/><rect x="30.42" y="120.40" width="0.85" height="28.60" fill="#000000" fill-opacity="0.024"/><rect x="406.54" y="120.40" width="0.83" height="28.60" fill="#ffffff" fill-opacity="0.039"/><rect x="360.28" y="120.40" width="0.80" height="28.60" fill="#ffffff" fill-opacity="0.036"/><rect x="166.57" y="120.40" width="1.19" height="28.60" fill="#ffffff" fill-opacity="0.031"/><rect x="396.70" y="120.40" width="1.09" height="28.60" fill="#000000" fill-opacity="0.022"/><rect x="359.92" y="120.40" width="1.08" height="28.60" fill="#ffffff" fill-opacity="0.078"/><rect x="208.25" y="120.40" width="0.71" height="28.60" fill="#ffffff" fill-opacity="0.038"/><rect x="540.17" y="120.40" width="1.02" height="28.60" fill="#ffffff" fill-opacity="0.033"/><rect x="626.71" y="120.40" width="0.93" height="28.60" fill="#000000" fill-opacity="0.034"/><rect x="795.53" y="120.40" width="0.96" height="28.60" fill="#ffffff" fill-opacity="0.043"/><rect x="698.27" y="120.40" width="1.35" height="28.60" fill="#ffffff" fill-opacity="0.035"/><rect x="589.47" y="120.40" width="1.76" height="28.60" fill="#000000" fill-opacity="0.020"/><rect x="53.12" y="120.40" width="0.71" height="28.60" fill="#ffffff" fill-opacity="0.032"/><rect x="72.57" y="120.40" width="1.39" height="28.60" fill="#000000" fill-opacity="0.026"/><rect x="829.19" y="120.40" width="1.17" height="28.60" fill="#000000" fill-opacity="0.048"/><rect x="801.42" y="120.40" width="0.64" height="28.60" fill="#ffffff" fill-opacity="0.060"/><rect x="806.73" y="120.40" width="0.71" height="28.60" fill="#ffffff" fill-opacity="0.072"/><rect x="122.52" y="120.40" width="1.07" height="28.60" fill="#ffffff" fill-opacity="0.064"/><rect x="791.91" y="120.40" width="0.81" height="28.60" fill="#000000" fill-opacity="0.042"/><rect x="715.53" y="120.40" width="1.26" height="28.60" fill="#000000" fill-opacity="0.031"/><rect x="369.31" y="120.40" width="0.88" height="28.60" fill="#000000" fill-opacity="0.034"/><rect x="249.83" y="120.40" width="0.80" height="28.60" fill="#000000" fill-opacity="0.038"/><rect x="612.69" y="120.40" width="1.06" height="28.60" fill="#ffffff" fill-opacity="0.038"/><rect x="612.75" y="120.40" width="0.63" height="28.60" fill="#ffffff" fill-opacity="0.068"/><rect x="585.30" y="120.40" width="0.72" height="28.60" fill="#ffffff" fill-opacity="0.072"/><rect x="556.56" y="120.40" width="1.65" height="28.60" fill="#000000" fill-opacity="0.033"/><rect x="765.90" y="120.40" width="1.48" height="28.60" fill="#ffffff" fill-opacity="0.049"/><rect x="87.47" y="120.40" width="1.08" height="28.60" fill="#000000" fill-opacity="0.023"/><rect x="496.12" y="120.40" width="0.73" height="28.60" fill="#ffffff" fill-opacity="0.062"/><rect x="226.17" y="120.40" width="0.66" height="28.60" fill="#ffffff" fill-opacity="0.062"/><rect x="509.82" y="120.40" width="0.61" height="28.60" fill="#ffffff" fill-opacity="0.078"/><rect x="209.22" y="120.40" width="1.27" height="28.60" fill="#ffffff" fill-opacity="0.069"/><rect x="525.28" y="120.40" width="1.55" height="28.60" fill="#ffffff" fill-opacity="0.039"/><rect x="174.28" y="120.40" width="0.69" height="28.60" fill="#000000" fill-opacity="0.023"/><rect x="47.94" y="120.40" width="1.76" height="28.60" fill="#ffffff" fill-opacity="0.075"/><rect x="98.75" y="120.40" width="1.16" height="28.60" fill="#ffffff" fill-opacity="0.071"/><rect x="534.38" y="120.40" width="1.37" height="28.60" fill="#000000" fill-opacity="0.046"/><rect x="312.82" y="120.40" width="1.32" height="28.60" fill="#ffffff" fill-opacity="0.036"/><rect x="715.30" y="120.40" width="1.31" height="28.60" fill="#000000" fill-opacity="0.026"/><rect x="471.68" y="120.40" width="1.16" height="28.60" fill="#000000" fill-opacity="0.022"/><rect x="312.91" y="120.40" width="1.18" height="28.60" fill="#ffffff" fill-opacity="0.058"/><rect x="633.00" y="120.40" width="1.11" height="28.60" fill="#000000" fill-opacity="0.038"/><rect x="204.35" y="120.40" width="1.02" height="28.60" fill="#000000" fill-opacity="0.030"/><rect x="382.56" y="120.40" width="0.70" height="28.60" fill="#ffffff" fill-opacity="0.038"/><rect x="793.89" y="120.40" width="1.47" height="28.60" fill="#000000" fill-opacity="0.050"/><rect x="531.69" y="120.40" width="1.72" height="28.60" fill="#ffffff" fill-opacity="0.051"/><rect x="807.97" y="120.40" width="1.68" height="28.60" fill="#000000" fill-opacity="0.035"/><rect x="664.37" y="120.40" width="1.09" height="28.60" fill="#000000" fill-opacity="0.048"/><rect x="268.41" y="120.40" width="1.72" height="28.60" fill="#ffffff" fill-opacity="0.035"/><rect x="622.34" y="120.40" width="0.95" height="28.60" fill="#ffffff" fill-opacity="0.062"/><rect x="61.56" y="120.40" width="1.49" height="28.60" fill="#ffffff" fill-opacity="0.052"/><rect x="311.79" y="120.40" width="1.49" height="28.60" fill="#000000" fill-opacity="0.029"/><rect x="113.21" y="120.40" width="0.96" height="28.60" fill="#ffffff" fill-opacity="0.034"/><rect x="154.22" y="120.40" width="1.52" height="28.60" fill="#000000" fill-opacity="0.049"/><rect x="833.96" y="120.40" width="1.65" height="28.60" fill="#ffffff" fill-opacity="0.038"/><rect x="284.77" y="120.40" width="1.16" height="28.60" fill="#ffffff" fill-opacity="0.057"/><rect x="324.06" y="120.40" width="1.62" height="28.60" fill="#ffffff" fill-opacity="0.053"/><rect x="757.60" y="120.40" width="1.57" height="28.60" fill="#ffffff" fill-opacity="0.042"/><rect x="691.69" y="120.40" width="0.61" height="28.60" fill="#ffffff" fill-opacity="0.057"/><rect x="468.93" y="120.40" width="0.80" height="28.60" fill="#ffffff" fill-opacity="0.040"/><rect x="661.52" y="120.40" width="1.16" height="28.60" fill="#000000" fill-opacity="0.044"/><rect x="833.62" y="120.40" width="0.64" height="28.60" fill="#ffffff" fill-opacity="0.031"/><rect x="383.81" y="120.40" width="1.01" height="28.60" fill="#ffffff" fill-opacity="0.057"/><rect x="105.37" y="120.40" width="0.97" height="28.60" fill="#ffffff" fill-opacity="0.070"/><rect x="372.18" y="120.40" width="0.91" height="28.60" fill="#ffffff" fill-opacity="0.051"/><rect x="544.31" y="120.40" width="1.41" height="28.60" fill="#000000" fill-opacity="0.044"/><rect x="231.66" y="120.40" width="0.76" height="28.60" fill="#000000" fill-opacity="0.044"/><rect x="446.71" y="120.40" width="1.60" height="28.60" fill="#000000" fill-opacity="0.028"/><rect x="166.99" y="120.40" width="0.62" height="28.60" fill="#000000" fill-opacity="0.047"/><rect x="773.52" y="120.40" width="1.16" height="28.60" fill="#000000" fill-opacity="0.048"/><rect x="697.72" y="120.40" width="1.32" height="28.60" fill="#ffffff" fill-opacity="0.056"/><rect x="168.68" y="120.40" width="0.82" height="28.60" fill="#000000" fill-opacity="0.050"/><rect x="478.16" y="120.40" width="1.09" height="28.60" fill="#ffffff" fill-opacity="0.053"/><rect x="688.62" y="120.40" width="1.14" height="28.60" fill="#000000" fill-opacity="0.025"/><rect x="287.21" y="120.40" width="1.23" height="28.60" fill="#ffffff" fill-opacity="0.073"/><rect x="708.90" y="120.40" width="1.72" height="28.60" fill="#000000" fill-opacity="0.021"/><rect x="500.73" y="120.40" width="1.26" height="28.60" fill="#ffffff" fill-opacity="0.044"/><rect x="611.68" y="120.40" width="1.69" height="28.60" fill="#ffffff" fill-opacity="0.063"/><rect x="333.60" y="120.40" width="1.22" height="28.60" fill="#000000" fill-opacity="0.049"/><rect x="557.52" y="120.40" width="0.83" height="28.60" fill="#000000" fill-opacity="0.025"/><rect x="343.47" y="120.40" width="1.59" height="28.60" fill="#ffffff" fill-opacity="0.044"/><rect x="809.50" y="120.40" width="1.73" height="28.60" fill="#ffffff" fill-opacity="0.050"/><rect x="260.10" y="120.40" width="0.76" height="28.60" fill="#ffffff" fill-opacity="0.079"/><rect x="93.39" y="120.40" width="0.88" height="28.60" fill="#ffffff" fill-opacity="0.034"/><rect x="461.04" y="120.40" width="1.49" height="28.60" fill="#000000" fill-opacity="0.039"/><rect x="700.85" y="120.40" width="0.61" height="28.60" fill="#ffffff" fill-opacity="0.078"/><rect x="85.26" y="120.40" width="0.92" height="28.60" fill="#ffffff" fill-opacity="0.043"/><rect x="477.39" y="120.40" width="0.66" height="28.60" fill="#ffffff" fill-opacity="0.078"/><rect x="146.82" y="120.40" width="1.69" height="28.60" fill="#ffffff" fill-opacity="0.080"/><rect x="583.06" y="120.40" width="1.38" height="28.60" fill="#ffffff" fill-opacity="0.033"/><rect x="652.86" y="120.40" width="0.81" height="28.60" fill="#ffffff" fill-opacity="0.071"/><rect x="747.74" y="120.40" width="0.66" height="28.60" fill="#000000" fill-opacity="0.036"/><rect x="342.71" y="120.40" width="0.73" height="28.60" fill="#ffffff" fill-opacity="0.079"/><rect x="259.13" y="120.40" width="0.76" height="28.60" fill="#ffffff" fill-opacity="0.036"/><rect x="318.06" y="120.40" width="1.70" height="28.60" fill="#ffffff" fill-opacity="0.040"/><rect x="800.78" y="120.40" width="1.80" height="28.60" fill="#000000" fill-opacity="0.027"/><rect x="319.67" y="120.40" width="1.74" height="28.60" fill="#ffffff" fill-opacity="0.065"/><rect x="285.87" y="120.40" width="0.63" height="28.60" fill="#ffffff" fill-opacity="0.067"/><rect x="671.34" y="120.40" width="1.28" height="28.60" fill="#ffffff" fill-opacity="0.057"/><rect x="391.98" y="120.40" width="1.24" height="28.60" fill="#000000" fill-opacity="0.026"/><rect x="517.02" y="120.40" width="1.72" height="28.60" fill="#000000" fill-opacity="0.025"/><rect x="820.64" y="120.40" width="1.61" height="28.60" fill="#ffffff" fill-opacity="0.043"/><rect x="194.64" y="120.40" width="0.66" height="28.60" fill="#000000" fill-opacity="0.032"/><rect x="745.98" y="120.40" width="0.74" height="28.60" fill="#ffffff" fill-opacity="0.073"/><rect x="681.27" y="120.40" width="1.79" height="28.60" fill="#000000" fill-opacity="0.036"/><rect x="658.27" y="120.40" width="0.71" height="28.60" fill="#ffffff" fill-opacity="0.052"/><rect x="148.56" y="120.40" width="1.32" height="28.60" fill="#ffffff" fill-opacity="0.055"/><rect x="335.41" y="120.40" width="0.98" height="28.60" fill="#ffffff" fill-opacity="0.060"/><rect x="834.66" y="120.40" width="1.72" height="28.60" fill="#000000" fill-opacity="0.045"/><rect x="264.09" y="120.40" width="1.77" height="28.60" fill="#ffffff" fill-opacity="0.036"/><rect x="440.11" y="120.40" width="1.48" height="28.60" fill="#ffffff" fill-opacity="0.062"/><rect x="260.47" y="120.40" width="1.76" height="28.60" fill="#ffffff" fill-opacity="0.054"/><rect x="465.30" y="120.40" width="1.65" height="28.60" fill="#000000" fill-opacity="0.036"/><rect x="391.38" y="120.40" width="1.34" height="28.60" fill="#ffffff" fill-opacity="0.051"/><rect x="725.25" y="120.40" width="1.53" height="28.60" fill="#ffffff" fill-opacity="0.073"/><rect x="344.06" y="120.40" width="1.78" height="28.60" fill="#ffffff" fill-opacity="0.041"/><rect x="479.51" y="120.40" width="1.66" height="28.60" fill="#ffffff" fill-opacity="0.073"/><rect x="613.30" y="120.40" width="1.03" height="28.60" fill="#ffffff" fill-opacity="0.055"/><rect x="356.39" y="120.40" width="1.05" height="28.60" fill="#000000" fill-opacity="0.046"/><rect x="508.88" y="120.40" width="0.78" height="28.60" fill="#ffffff" fill-opacity="0.049"/><rect x="533.78" y="120.40" width="0.77" height="28.60" fill="#ffffff" fill-opacity="0.046"/><rect x="260.95" y="120.40" width="0.64" height="28.60" fill="#ffffff" fill-opacity="0.076"/><rect x="467.71" y="120.40" width="1.48" height="28.60" fill="#000000" fill-opacity="0.045"/><rect x="779.18" y="120.40" width="1.13" height="28.60" fill="#000000" fill-opacity="0.024"/><rect x="751.98" y="120.40" width="1.05" height="28.60" fill="#ffffff" fill-opacity="0.075"/><rect x="264.06" y="120.40" width="0.83" height="28.60" fill="#000000" fill-opacity="0.038"/><rect x="97.98" y="120.40" width="0.63" height="28.60" fill="#ffffff" fill-opacity="0.030"/><rect x="712.87" y="120.40" width="0.82" height="28.60" fill="#ffffff" fill-opacity="0.049"/><rect x="449.09" y="120.40" width="1.12" height="28.60" fill="#000000" fill-opacity="0.040"/><rect x="386.98" y="120.40" width="0.72" height="28.60" fill="#000000" fill-opacity="0.041"/><rect x="96.91" y="120.40" width="1.13" height="28.60" fill="#000000" fill-opacity="0.050"/><rect x="82.49" y="120.40" width="0.61" height="28.60" fill="#ffffff" fill-opacity="0.051"/><rect x="763.85" y="151.70" width="1.59" height="28.60" fill="#ffffff" fill-opacity="0.051"/><rect x="507.60" y="151.70" width="1.66" height="28.60" fill="#ffffff" fill-opacity="0.050"/><rect x="100.96" y="151.70" width="1.37" height="28.60" fill="#ffffff" fill-opacity="0.077"/><rect x="458.96" y="151.70" width="1.29" height="28.60" fill="#ffffff" fill-opacity="0.042"/><rect x="413.77" y="151.70" width="1.63" height="28.60" fill="#ffffff" fill-opacity="0.044"/><rect x="835.96" y="151.70" width="1.39" height="28.60" fill="#ffffff" fill-opacity="0.040"/><rect x="273.76" y="151.70" width="1.68" height="28.60" fill="#ffffff" fill-opacity="0.057"/><rect x="538.12" y="151.70" width="1.03" height="28.60" fill="#000000" fill-opacity="0.047"/><rect x="733.53" y="151.70" width="1.49" height="28.60" fill="#ffffff" fill-opacity="0.033"/><rect x="384.20" y="151.70" width="0.97" height="28.60" fill="#ffffff" fill-opacity="0.074"/><rect x="205.92" y="151.70" width="1.59" height="28.60" fill="#000000" fill-opacity="0.024"/><rect x="779.62" y="151.70" width="1.08" height="28.60" fill="#ffffff" fill-opacity="0.039"/><rect x="59.22" y="151.70" width="1.20" height="28.60" fill="#ffffff" fill-opacity="0.073"/><rect x="713.35" y="151.70" width="0.67" height="28.60" fill="#ffffff" fill-opacity="0.049"/><rect x="174.30" y="151.70" width="0.90" height="28.60" fill="#ffffff" fill-opacity="0.065"/><rect x="308.02" y="151.70" width="0.73" height="28.60" fill="#ffffff" fill-opacity="0.052"/><rect x="492.78" y="151.70" width="0.89" height="28.60" fill="#000000" fill-opacity="0.026"/><rect x="579.94" y="151.70" width="1.33" height="28.60" fill="#ffffff" fill-opacity="0.068"/><rect x="352.46" y="151.70" width="1.25" height="28.60" fill="#000000" fill-opacity="0.039"/><rect x="392.03" y="151.70" width="0.67" height="28.60" fill="#000000" fill-opacity="0.046"/><rect x="431.36" y="151.70" width="1.29" height="28.60" fill="#ffffff" fill-opacity="0.075"/><rect x="592.16" y="151.70" width="0.87" height="28.60" fill="#000000" fill-opacity="0.050"/><rect x="312.75" y="151.70" width="1.79" height="28.60" fill="#ffffff" fill-opacity="0.039"/><rect x="617.83" y="151.70" width="1.01" height="28.60" fill="#000000" fill-opacity="0.038"/><rect x="116.74" y="151.70" width="1.23" height="28.60" fill="#000000" fill-opacity="0.034"/><rect x="471.79" y="151.70" width="1.64" height="28.60" fill="#ffffff" fill-opacity="0.055"/><rect x="507.56" y="151.70" width="1.59" height="28.60" fill="#ffffff" fill-opacity="0.035"/><rect x="654.28" y="151.70" width="1.26" height="28.60" fill="#ffffff" fill-opacity="0.075"/><rect x="755.79" y="151.70" width="1.25" height="28.60" fill="#000000" fill-opacity="0.045"/><rect x="643.47" y="151.70" width="0.95" height="28.60" fill="#ffffff" fill-opacity="0.064"/><rect x="632.83" y="151.70" width="1.02" height="28.60" fill="#ffffff" fill-opacity="0.058"/><rect x="233.69" y="151.70" width="1.44" height="28.60" fill="#000000" fill-opacity="0.032"/><rect x="118.35" y="151.70" width="1.26" height="28.60" fill="#ffffff" fill-opacity="0.066"/><rect x="170.11" y="151.70" width="1.07" height="28.60" fill="#ffffff" fill-opacity="0.050"/><rect x="502.27" y="151.70" width="0.73" height="28.60" fill="#ffffff" fill-opacity="0.054"/><rect x="193.97" y="151.70" width="1.21" height="28.60" fill="#ffffff" fill-opacity="0.035"/><rect x="470.31" y="151.70" width="1.71" height="28.60" fill="#000000" fill-opacity="0.035"/><rect x="354.99" y="151.70" width="0.68" height="28.60" fill="#ffffff" fill-opacity="0.046"/><rect x="802.62" y="151.70" width="0.74" height="28.60" fill="#000000" fill-opacity="0.034"/><rect x="385.20" y="151.70" width="0.91" height="28.60" fill="#000000" fill-opacity="0.026"/><rect x="498.13" y="151.70" width="1.21" height="28.60" fill="#ffffff" fill-opacity="0.041"/><rect x="838.71" y="151.70" width="1.55" height="28.60" fill="#000000" fill-opacity="0.047"/><rect x="109.26" y="151.70" width="1.44" height="28.60" fill="#000000" fill-opacity="0.027"/><rect x="404.13" y="151.70" width="1.77" height="28.60" fill="#ffffff" fill-opacity="0.068"/><rect x="164.14" y="151.70" width="1.40" height="28.60" fill="#ffffff" fill-opacity="0.055"/><rect x="334.48" y="151.70" width="1.64" height="28.60" fill="#000000" fill-opacity="0.035"/><rect x="593.45" y="151.70" width="1.11" height="28.60" fill="#000000" fill-opacity="0.028"/><rect x="475.76" y="151.70" width="1.30" height="28.60" fill="#ffffff" fill-opacity="0.032"/><rect x="167.99" y="151.70" width="1.37" height="28.60" fill="#ffffff" fill-opacity="0.068"/><rect x="443.48" y="151.70" width="1.74" height="28.60" fill="#000000" fill-opacity="0.042"/><rect x="334.59" y="151.70" width="0.65" height="28.60" fill="#000000" fill-opacity="0.042"/><rect x="785.78" y="151.70" width="0.84" height="28.60" fill="#ffffff" fill-opacity="0.079"/><rect x="636.40" y="151.70" width="1.18" height="28.60" fill="#000000" fill-opacity="0.024"/><rect x="475.68" y="151.70" width="1.40" height="28.60" fill="#000000" fill-opacity="0.025"/><rect x="140.71" y="151.70" width="1.35" height="28.60" fill="#000000" fill-opacity="0.024"/><rect x="34.04" y="151.70" width="0.70" height="28.60" fill="#000000" fill-opacity="0.032"/><rect x="403.08" y="151.70" width="1.79" height="28.60" fill="#000000" fill-opacity="0.028"/><rect x="604.74" y="151.70" width="0.60" height="28.60" fill="#ffffff" fill-opacity="0.065"/><rect x="168.71" y="151.70" width="0.64" height="28.60" fill="#ffffff" fill-opacity="0.046"/><rect x="827.01" y="151.70" width="0.72" height="28.60" fill="#000000" fill-opacity="0.032"/><rect x="690.66" y="151.70" width="1.13" height="28.60" fill="#000000" fill-opacity="0.030"/><rect x="212.92" y="151.70" width="1.14" height="28.60" fill="#000000" fill-opacity="0.030"/><rect x="217.29" y="151.70" width="1.10" height="28.60" fill="#ffffff" fill-opacity="0.046"/><rect x="499.36" y="151.70" width="1.25" height="28.60" fill="#000000" fill-opacity="0.029"/><rect x="48.59" y="151.70" width="0.63" height="28.60" fill="#ffffff" fill-opacity="0.040"/><rect x="496.18" y="151.70" width="0.92" height="28.60" fill="#000000" fill-opacity="0.038"/><rect x="572.97" y="151.70" width="1.48" height="28.60" fill="#ffffff" fill-opacity="0.051"/><rect x="281.88" y="151.70" width="0.68" height="28.60" fill="#000000" fill-opacity="0.035"/><rect x="110.22" y="151.70" width="1.71" height="28.60" fill="#000000" fill-opacity="0.039"/><rect x="388.99" y="151.70" width="0.75" height="28.60" fill="#000000" fill-opacity="0.025"/><rect x="329.44" y="151.70" width="1.80" height="28.60" fill="#ffffff" fill-opacity="0.055"/><rect x="422.72" y="151.70" width="0.90" height="28.60" fill="#000000" fill-opacity="0.032"/><rect x="37.73" y="151.70" width="1.17" height="28.60" fill="#ffffff" fill-opacity="0.065"/><rect x="742.98" y="151.70" width="1.69" height="28.60" fill="#ffffff" fill-opacity="0.064"/><rect x="278.84" y="151.70" width="1.17" height="28.60" fill="#ffffff" fill-opacity="0.045"/><rect x="137.38" y="151.70" width="1.35" height="28.60" fill="#ffffff" fill-opacity="0.078"/><rect x="64.25" y="151.70" width="1.76" height="28.60" fill="#ffffff" fill-opacity="0.034"/><rect x="640.80" y="151.70" width="1.24" height="28.60" fill="#000000" fill-opacity="0.035"/><rect x="546.82" y="151.70" width="0.70" height="28.60" fill="#000000" fill-opacity="0.035"/><rect x="819.63" y="151.70" width="0.61" height="28.60" fill="#ffffff" fill-opacity="0.064"/><rect x="789.97" y="151.70" width="1.11" height="28.60" fill="#000000" fill-opacity="0.037"/><rect x="349.72" y="151.70" width="1.16" height="28.60" fill="#000000" fill-opacity="0.021"/><rect x="279.57" y="151.70" width="1.49" height="28.60" fill="#ffffff" fill-opacity="0.054"/><rect x="239.36" y="151.70" width="1.03" height="28.60" fill="#000000" fill-opacity="0.042"/><rect x="815.19" y="151.70" width="1.17" height="28.60" fill="#ffffff" fill-opacity="0.047"/><rect x="76.31" y="151.70" width="0.89" height="28.60" fill="#000000" fill-opacity="0.038"/><rect x="226.82" y="151.70" width="0.82" height="28.60" fill="#ffffff" fill-opacity="0.039"/><rect x="440.61" y="151.70" width="0.91" height="28.60" fill="#000000" fill-opacity="0.037"/><rect x="307.99" y="151.70" width="1.12" height="28.60" fill="#ffffff" fill-opacity="0.067"/><rect x="645.97" y="151.70" width="1.04" height="28.60" fill="#000000" fill-opacity="0.028"/><rect x="208.74" y="151.70" width="0.87" height="28.60" fill="#ffffff" fill-opacity="0.060"/><rect x="556.34" y="151.70" width="1.47" height="28.60" fill="#ffffff" fill-opacity="0.068"/><rect x="421.58" y="151.70" width="1.05" height="28.60" fill="#ffffff" fill-opacity="0.052"/><rect x="192.77" y="151.70" width="1.07" height="28.60" fill="#000000" fill-opacity="0.041"/><rect x="780.80" y="151.70" width="0.83" height="28.60" fill="#000000" fill-opacity="0.044"/><rect x="614.62" y="151.70" width="1.78" height="28.60" fill="#ffffff" fill-opacity="0.069"/><rect x="767.96" y="151.70" width="0.75" height="28.60" fill="#000000" fill-opacity="0.048"/><rect x="269.21" y="151.70" width="1.63" height="28.60" fill="#000000" fill-opacity="0.033"/><rect x="147.62" y="151.70" width="0.86" height="28.60" fill="#000000" fill-opacity="0.033"/><rect x="287.84" y="151.70" width="1.13" height="28.60" fill="#000000" fill-opacity="0.028"/><rect x="43.24" y="151.70" width="1.74" height="28.60" fill="#ffffff" fill-opacity="0.049"/><rect x="830.85" y="151.70" width="0.94" height="28.60" fill="#ffffff" fill-opacity="0.074"/><rect x="228.78" y="151.70" width="0.87" height="28.60" fill="#000000" fill-opacity="0.027"/><rect x="769.38" y="151.70" width="1.00" height="28.60" fill="#ffffff" fill-opacity="0.041"/><rect x="474.25" y="151.70" width="1.27" height="28.60" fill="#ffffff" fill-opacity="0.055"/><rect x="273.39" y="151.70" width="1.61" height="28.60" fill="#000000" fill-opacity="0.043"/><rect x="702.46" y="151.70" width="0.68" height="28.60" fill="#ffffff" fill-opacity="0.040"/><rect x="155.55" y="151.70" width="1.76" height="28.60" fill="#000000" fill-opacity="0.047"/><rect x="487.02" y="151.70" width="0.74" height="28.60" fill="#ffffff" fill-opacity="0.033"/><rect x="772.27" y="151.70" width="0.92" height="28.60" fill="#ffffff" fill-opacity="0.077"/><rect x="193.12" y="151.70" width="1.71" height="28.60" fill="#ffffff" fill-opacity="0.063"/><rect x="115.96" y="151.70" width="1.68" height="28.60" fill="#ffffff" fill-opacity="0.047"/><rect x="566.42" y="151.70" width="1.31" height="28.60" fill="#ffffff" fill-opacity="0.036"/><rect x="501.53" y="151.70" width="0.63" height="28.60" fill="#000000" fill-opacity="0.030"/><rect x="167.69" y="151.70" width="0.99" height="28.60" fill="#ffffff" fill-opacity="0.046"/><rect x="475.00" y="151.70" width="1.09" height="28.60" fill="#ffffff" fill-opacity="0.045"/><rect x="428.35" y="151.70" width="1.53" height="28.60" fill="#ffffff" fill-opacity="0.068"/><rect x="425.20" y="151.70" width="0.74" height="28.60" fill="#ffffff" fill-opacity="0.072"/><rect x="422.42" y="151.70" width="1.06" height="28.60" fill="#ffffff" fill-opacity="0.072"/><rect x="336.91" y="151.70" width="1.03" height="28.60" fill="#ffffff" fill-opacity="0.031"/><rect x="476.33" y="151.70" width="1.17" height="28.60" fill="#ffffff" fill-opacity="0.053"/><rect x="416.80" y="151.70" width="1.46" height="28.60" fill="#ffffff" fill-opacity="0.079"/><rect x="122.51" y="151.70" width="1.64" height="28.60" fill="#ffffff" fill-opacity="0.070"/><rect x="242.48" y="151.70" width="0.69" height="28.60" fill="#ffffff" fill-opacity="0.072"/><rect x="723.61" y="151.70" width="1.65" height="28.60" fill="#000000" fill-opacity="0.022"/><rect x="339.96" y="151.70" width="0.73" height="28.60" fill="#000000" fill-opacity="0.034"/><rect x="640.20" y="151.70" width="1.55" height="28.60" fill="#000000" fill-opacity="0.040"/><rect x="748.06" y="151.70" width="1.26" height="28.60" fill="#ffffff" fill-opacity="0.075"/><rect x="103.10" y="151.70" width="0.70" height="28.60" fill="#000000" fill-opacity="0.028"/><rect x="573.02" y="151.70" width="0.63" height="28.60" fill="#ffffff" fill-opacity="0.066"/><rect x="59.17" y="151.70" width="1.21" height="28.60" fill="#000000" fill-opacity="0.026"/><rect x="607.88" y="151.70" width="1.49" height="28.60" fill="#000000" fill-opacity="0.043"/><rect x="602.45" y="151.70" width="0.62" height="28.60" fill="#ffffff" fill-opacity="0.057"/><rect x="825.91" y="151.70" width="0.86" height="28.60" fill="#000000" fill-opacity="0.024"/><rect x="724.72" y="151.70" width="1.13" height="28.60" fill="#ffffff" fill-opacity="0.063"/><rect x="140.49" y="151.70" width="1.47" height="28.60" fill="#000000" fill-opacity="0.046"/><rect x="259.67" y="151.70" width="0.88" height="28.60" fill="#ffffff" fill-opacity="0.075"/><rect x="388.48" y="151.70" width="1.07" height="28.60" fill="#ffffff" fill-opacity="0.065"/><rect x="289.82" y="151.70" width="1.00" height="28.60" fill="#000000" fill-opacity="0.043"/><rect x="271.63" y="151.70" width="0.69" height="28.60" fill="#000000" fill-opacity="0.042"/><text x="858.60" y="50.00" font-size="24">Fraction</text><text x="858.60" y="81.00" font-size="24">Clusters</text><text x="858.60" y="112.20" font-size="24">Pseudotime</text><text x="858.60" y="143.60" font-size="24">mKO2−CDT1</text><text x="858.60" y="174.40" font-size="24">mAG−GMNN</text><rect x="1237.00" y="26.70" width="826.50" height="28.60" fill="url(#g6)"/><rect x="1237.00" y="58.00" width="826.50" height="28.60" fill="url(#g7)"/><rect x="1237.00" y="89.20" width="826.50" height="28.60" fill="url(#g8)"/><rect x="1237.00" y="120.40" width="826.50" height="28.60" fill="url(#g9)"/><rect x="1237.00" y="151.70" width="826.50" height="28.60" fill="url(#g10)"/><rect x="1434.73" y="26.70" width="1.25" height="28.60" fill="#ffffff" fill-opacity="0.060"/><rect x="1753.65" y="26.70" width="0.68" height="28.60" fill="#ffffff" fill-opacity="0.072"/><rect x="1452.32" y="26.70" width="0.88" height="28.60" fill="#000000" fill-opacity="0.034"/><rect x="1926.99" y="26.70" width="1.17" height="28.60" fill="#000000" fill-opacity="0.025"/><rect x="1761.17" y="26.70" width="1.64" height="28.60" fill="#ffffff" fill-opacity="0.067"/><rect x="1791.24" y="26.70" width="0.68" height="28.60" fill="#000000" fill-opacity="0.038"/><rect x="1486.79" y="26.70" width="0.64" height="28.60" fill="#000000" fill-opacity="0.034"/><rect x="1830.23" y="26.70" width="1.65" height="28.60" fill="#000000" fill-opacity="0.048"/><rect x="1563.86" y="26.70" width="1.56" height="28.60" fill="#ffffff" fill-opacity="0.077"/><rect x="1961.87" y="26.70" width="0.72" height="28.60" fill="#ffffff" fill-opacity="0.041"/><rect x="2033.11" y="26.70" width="1.12" height="28.60" fill="#000000" fill-opacity="0.029"/><rect x="1656.21" y="26.70" width="1.06" height="28.60" fill="#ffffff" fill-opacity="0.059"/><rect x="1719.55" y="26.70" width="1.69" height="28.60" fill="#000000" fill-opacity="0.048"/><rect x="1943.39" y="26.70" width="1.79" height="28.60" fill="#000000" fill-opacity="0.025"/><rect x="1946.87" y="26.70" width="1.76" height="28.60" fill="#000000" fill-opacity="0.037"/><rect x="1826.11" y="26.70" width="0.85" height="28.60" fill="#000000" fill-opacity="0.037"/><rect x="1473.38" y="26.70" width="0.68" height="28.60" fill="#000000" fill-opacity="0.050"/><rect x="1311.81" y="26.70" width="1.56" height="28.60" fill="#ffffff" fill-opacity="0.038"/><rect x="1480.73" y="26.70" width="1.52" height="28.60" fill="#000000" fill-opacity="0.021"/><rect x="1744.45" y="26.70" width="0.65" height="28.60" fill="#000000" fill-opacity="0.030"/><rect x="1963.54" y="26.70" width="1.78" height="28.60" fill="#ffffff" fill-opacity="0.080"/><rect x="1493.70" y="26.70" width="0.69" height="28.60" fill="#000000" fill-opacity="0.021"/><rect x="1401.35" y="26.70" width="1.09" height="28.60" fill="#000000" fill-opacity="0.025"/><rect x="1273.90" y="26.70" width="1.64" height="28.60" fill="#ffffff" fill-opacity="0.078"/><rect x="1976.50" y="26.70" width="1.05" height="28.60" fill="#ffffff" fill-opacity="0.056"/><rect x="1768.60" y="26.70" width="1.31" height="28.60" fill="#000000" fill-opacity="0.039"/><rect x="2012.66" y="26.70" width="1.21" height="28.60" fill="#ffffff" fill-opacity="0.066"/><rect x="1434.46" y="26.70" width="0.96" height="28.60" fill="#000000" fill-opacity="0.036"/><rect x="1690.08" y="26.70" width="0.61" height="28.60" fill="#ffffff" fill-opacity="0.059"/><rect x="1255.49" y="26.70" width="1.34" height="28.60" fill="#000000" fill-opacity="0.022"/><rect x="1754.99" y="26.70" width="1.16" height="28.60" fill="#000000" fill-opacity="0.031"/><rect x="1820.47" y="26.70" width="1.49" height="28.60" fill="#ffffff" fill-opacity="0.033"/><rect x="1795.03" y="26.70" width="1.76" height="28.60" fill="#ffffff" fill-opacity="0.053"/><rect x="1726.47" y="26.70" width="0.98" height="28.60" fill="#ffffff" fill-opacity="0.046"/><rect x="1542.63" y="26.70" width="1.31" height="28.60" fill="#ffffff" fill-opacity="0.049"/><rect x="1874.19" y="26.70" width="0.63" height="28.60" fill="#000000" fill-opacity="0.042"/><rect x="1493.99" y="26.70" width="0.87" height="28.60" fill="#000000" fill-opacity="0.027"/><rect x="1393.13" y="26.70" width="1.12" height="28.60" fill="#000000" fill-opacity="0.023"/><rect x="1503.82" y="26.70" width="1.00" height="28.60" fill="#000000" fill-opacity="0.033"/><rect x="1942.68" y="26.70" width="0.80" height="28.60" fill="#ffffff" fill-opacity="0.063"/><rect x="1966.83" y="26.70" width="1.14" height="28.60" fill="#ffffff" fill-opacity="0.036"/><rect x="1674.62" y="26.70" width="0.83" height="28.60" fill="#000000" fill-opacity="0.045"/><rect x="1390.00" y="26.70" width="0.93" height="28.60" fill="#000000" fill-opacity="0.039"/><rect x="1902.15" y="26.70" width="1.01" height="28.60" fill="#ffffff" fill-opacity="0.045"/><rect x="1891.95" y="26.70" width="0.93" height="28.60" fill="#ffffff" fill-opacity="0.051"/><rect x="1584.26" y="26.70" width="1.09" height="28.60" fill="#000000" fill-opacity="0.025"/><rect x="1242.83" y="26.70" width="1.73" height="28.60" fill="#000000" fill-opacity="0.050"/><rect x="1596.25" y="26.70" width="1.74" height="28.60" fill="#000000" fill-opacity="0.027"/><rect x="1852.19" y="26.70" width="1.60" height="28.60" fill="#000000" fill-opacity="0.036"/><rect x="1476.74" y="26.70" width="1.01" height="28.60" fill="#ffffff" fill-opacity="0.033"/><rect x="1723.19" y="26.70" width="0.94" height="28.60" fill="#000000" fill-opacity="0.021"/><rect x="1982.22" y="26.70" width="1.43" height="28.60" fill="#000000" fill-opacity="0.047"/><rect x="1978.98" y="26.70" width="1.29" height="28.60" fill="#ffffff" fill-opacity="0.067"/><rect x="1380.32" y="26.70" width="0.96" height="28.60" fill="#000000" fill-opacity="0.036"/><rect x="1579.31" y="26.70" width="1.73" height="28.60" fill="#000000" fill-opacity="0.030"/><rect x="1446.66" y="26.70" width="1.63" height="28.60" fill="#ffffff" fill-opacity="0.069"/><rect x="1528.39" y="26.70" width="0.84" height="28.60" fill="#ffffff" fill-opacity="0.071"/><rect x="1379.90" y="26.70" width="1.55" height="28.60" fill="#000000" fill-opacity="0.044"/><rect x="1916.33" y="26.70" width="0.61" height="28.60" fill="#000000" fill-opacity="0.046"/><rect x="1280.07" y="26.70" width="0.93" height="28.60" fill="#ffffff" fill-opacity="0.056"/><rect x="1586.90" y="26.70" width="1.17" height="28.60" fill="#000000" fill-opacity="0.020"/><rect x="1284.10" y="26.70" width="0.75" height="28.60" fill="#ffffff" fill-opacity="0.033"/><rect x="2040.68" y="26.70" width="1.63" height="28.60" fill="#ffffff" fill-opacity="0.055"/><rect x="1498.82" y="26.70" width="0.98" height="28.60" fill="#ffffff" fill-opacity="0.062"/><rect x="1721.49" y="26.70" width="1.03" height="28.60" fill="#ffffff" fill-opacity="0.046"/><rect x="1340.79" y="26.70" width="1.27" height="28.60" fill="#000000" fill-opacity="0.031"/><rect x="1304.72" y="26.70" width="0.81" height="28.60" fill="#ffffff" fill-opacity="0.060"/><rect x="1882.71" y="26.70" width="1.06" height="28.60" fill="#000000" fill-opacity="0.039"/><rect x="1593.99" y="26.70" width="1.05" height="28.60" fill="#ffffff" fill-opacity="0.065"/><rect x="1584.87" y="26.70" width="1.43" height="28.60" fill="#ffffff" fill-opacity="0.042"/><rect x="1679.73" y="26.70" width="1.43" height="28.60" fill="#ffffff" fill-opacity="0.051"/><rect x="1589.27" y="26.70" width="1.66" height="28.60" fill="#000000" fill-opacity="0.031"/><rect x="1977.49" y="26.70" width="1.55" height="28.60" fill="#ffffff" fill-opacity="0.053"/><rect x="1340.29" y="26.70" width="1.58" height="28.60" fill="#000000" fill-opacity="0.047"/><rect x="1890.81" y="26.70" width="1.40" height="28.60" fill="#000000" fill-opacity="0.037"/><rect x="1323.83" y="26.70" width="1.31" height="28.60" fill="#ffffff" fill-opacity="0.037"/><rect x="1875.87" y="26.70" width="0.65" height="28.60" fill="#ffffff" fill-opacity="0.035"/><rect x="1963.18" y="26.70" width="0.81" height="28.60" fill="#ffffff" fill-opacity="0.072"/><rect x="1338.76" y="26.70" width="1.61" height="28.60" fill="#000000" fill-opacity="0.045"/><rect x="2022.36" y="26.70" width="1.29" height="28.60" fill="#000000" fill-opacity="0.021"/><rect x="1870.20" y="26.70" width="1.21" height="28.60" fill="#000000" fill-opacity="0.023"/><rect x="1855.02" y="26.70" width="1.72" height="28.60" fill="#ffffff" fill-opacity="0.046"/><rect x="1702.87" y="26.70" width="1.59" height="28.60" fill="#ffffff" fill-opacity="0.039"/><rect x="1444.60" y="26.70" width="1.34" height="28.60" fill="#000000" fill-opacity="0.032"/><rect x="1541.25" y="26.70" width="1.08" height="28.60" fill="#ffffff" fill-opacity="0.051"/><rect x="1307.48" y="26.70" width="1.20" height="28.60" fill="#000000" fill-opacity="0.032"/><rect x="1853.74" y="26.70" width="0.79" height="28.60" fill="#000000" fill-opacity="0.043"/><rect x="1793.25" y="26.70" width="1.22" height="28.60" fill="#ffffff" fill-opacity="0.062"/><rect x="1977.11" y="26.70" width="0.78" height="28.60" fill="#ffffff" fill-opacity="0.067"/><rect x="1992.92" y="26.70" width="1.22" height="28.60" fill="#ffffff" fill-opacity="0.066"/><rect x="1392.08" y="26.70" width="0.92" height="28.60" fill="#ffffff" fill-opacity="0.059"/><rect x="1497.96" y="26.70" width="0.88" height="28.60" fill="#000000" fill-opacity="0.049"/><rect x="1482.35" y="26.70" width="1.45" height="28.60" fill="#ffffff" fill-opacity="0.073"/><rect x="1719.87" y="26.70" width="0.92" height="28.60" fill="#ffffff" fill-opacity="0.031"/><rect x="1633.38" y="26.70" width="1.06" height="28.60" fill="#ffffff" fill-opacity="0.048"/><rect x="1503.88" y="26.70" width="1.53" height="28.60" fill="#ffffff" fill-opacity="0.080"/><rect x="1633.46" y="26.70" width="1.32" height="28.60" fill="#ffffff" fill-opacity="0.072"/><rect x="1914.78" y="26.70" width="1.27" height="28.60" fill="#ffffff" fill-opacity="0.066"/><rect x="1943.59" y="26.70" width="1.08" height="28.60" fill="#000000" fill-opacity="0.049"/><rect x="1623.43" y="26.70" width="0.88" height="28.60" fill="#ffffff" fill-opacity="0.066"/><rect x="1794.48" y="26.70" width="1.75" height="28.60" fill="#000000" fill-opacity="0.027"/><rect x="1394.97" y="26.70" width="0.91" height="28.60" fill="#ffffff" fill-opacity="0.065"/><rect x="1945.19" y="26.70" width="1.68" height="28.60" fill="#ffffff" fill-opacity="0.073"/><rect x="1496.79" y="26.70" width="1.11" height="28.60" fill="#000000" fill-opacity="0.023"/><rect x="1315.20" y="26.70" width="1.60" height="28.60" fill="#ffffff" fill-opacity="0.048"/><rect x="1716.30" y="26.70" width="1.41" height="28.60" fill="#ffffff" fill-opacity="0.047"/><rect x="1597.79" y="26.70" width="1.18" height="28.60" fill="#ffffff" fill-opacity="0.059"/><rect x="2024.76" y="26.70" width="1.07" height="28.60" fill="#ffffff" fill-opacity="0.036"/><rect x="1464.99" y="26.70" width="1.40" height="28.60" fill="#ffffff" fill-opacity="0.074"/><rect x="1986.46" y="26.70" width="0.72" height="28.60" fill="#000000" fill-opacity="0.031"/><rect x="1874.31" y="26.70" width="1.51" height="28.60" fill="#ffffff" fill-opacity="0.064"/><rect x="1776.98" y="26.70" width="1.57" height="28.60" fill="#ffffff" fill-opacity="0.068"/><rect x="2029.69" y="26.70" width="1.41" height="28.60" fill="#ffffff" fill-opacity="0.036"/><rect x="1645.22" y="26.70" width="1.02" height="28.60" fill="#000000" fill-opacity="0.040"/><rect x="1704.86" y="26.70" width="0.82" height="28.60" fill="#000000" fill-opacity="0.039"/><rect x="1386.31" y="26.70" width="1.67" height="28.60" fill="#000000" fill-opacity="0.024"/><rect x="2005.44" y="26.70" width="0.77" height="28.60" fill="#ffffff" fill-opacity="0.066"/><rect x="1730.39" y="26.70" width="1.27" height="28.60" fill="#000000" fill-opacity="0.034"/><rect x="1495.98" y="26.70" width="0.81" height="28.60" fill="#ffffff" fill-opacity="0.066"/><rect x="1859.56" y="26.70" width="1.25" height="28.60" fill="#000000" fill-opacity="0.031"/><rect x="1457.66" y="26.70" width="1.06" height="28.60" fill="#000000" fill-opacity="0.021"/><rect x="1654.13" y="26.70" width="0.90" height="28.60" fill="#000000" fill-opacity="0.031"/><rect x="1512.78" y="26.70" width="1.08" height="28.60" fill="#ffffff" fill-opacity="0.069"/><rect x="1529.25" y="26.70" width="1.62" height="28.60" fill="#ffffff" fill-opacity="0.044"/><rect x="1320.96" y="26.70" width="0.74" height="28.60" fill="#000000" fill-opacity="0.042"/><rect x="1391.04" y="26.70" width="0.83" height="28.60" fill="#ffffff" fill-opacity="0.067"/><rect x="1909.95" y="26.70" width="1.50" height="28.60" fill="#000000" fill-opacity="0.024"/><rect x="1566.70" y="26.70" width="0.83" height="28.60" fill="#ffffff" fill-opacity="0.058"/><rect x="1405.21" y="26.70" width="0.90" height="28.60" fill="#000000" fill-opacity="0.021"/><rect x="1899.60" y="26.70" width="1.67" height="28.60" fill="#000000" fill-opacity="0.031"/><rect x="1693.52" y="26.70" width="1.30" height="28.60" fill="#000000" fill-opacity="0.049"/><rect x="1803.75" y="26.70" width="0.96" height="28.60" fill="#000000" fill-opacity="0.035"/><rect x="1733.62" y="26.70" width="1.47" height="28.60" fill="#ffffff" fill-opacity="0.069"/><rect x="1783.44" y="26.70" width="1.19" height="28.60" fill="#ffffff" fill-opacity="0.053"/><rect x="1398.10" y="26.70" width="1.24" height="28.60" fill="#ffffff" fill-opacity="0.055"/><rect x="1770.30" y="26.70" width="1.13" height="28.60" fill="#000000" fill-opacity="0.049"/><rect x="1972.71" y="26.70" width="0.76" height="28.60" fill="#000000" fill-opacity="0.039"/><rect x="1280.62" y="26.70" width="1.03" height="28.60" fill="#ffffff" fill-opacity="0.034"/><rect x="1682.23" y="26.70" width="1.72" height="28.60" fill="#ffffff" fill-opacity="0.074"/><rect x="1810.36" y="26.70" width="0.76" height="28.60" fill="#000000" fill-opacity="0.038"/><rect x="2001.44" y="120.40" width="1.46" height="28.60" fill="#000000" fill-opacity="0.030"/><rect x="1902.49" y="120.40" width="1.72" height="28.60" fill="#000000" fill-opacity="0.033"/><rect x="1861.51" y="120.40" width="1.18" height="28.60" fill="#ffffff" fill-opacity="0.032"/><rect x="1303.11" y="120.40" width="0.84" height="28.60" fill="#ffffff" fill-opacity="0.055"/><rect x="1814.16" y="120.40" width="1.24" height="28.60" fill="#ffffff" fill-opacity="0.062"/><rect x="1489.57" y="120.40" width="1.16" height="28.60" fill="#000000" fill-opacity="0.032"/><rect x="1387.53" y="120.40" width="1.68" height="28.60" fill="#000000" fill-opacity="0.031"/><rect x="1544.13" y="120.40" width="1.24" height="28.60" fill="#000000" fill-opacity="0.027"/><rect x="1241.22" y="120.40" width="0.85" height="28.60" fill="#000000" fill-opacity="0.024"/><rect x="1617.34" y="120.40" width="0.83" height="28.60" fill="#ffffff" fill-opacity="0.039"/><rect x="1571.08" y="120.40" width="0.80" height="28.60" fill="#ffffff" fill-opacity="0.036"/><rect x="1377.37" y="120.40" width="1.19" height="28.60" fill="#ffffff" fill-opacity="0.031"/><rect x="1607.50" y="120.40" width="1.09" height="28.60" fill="#000000" fill-opacity="0.022"/><rect x="1570.72" y="120.40" width="1.08" height="28.60" fill="#ffffff" fill-opacity="0.078"/><rect x="1419.05" y="120.40" width="0.71" height="28.60" fill="#ffffff" fill-opacity="0.038"/><rect x="1750.97" y="120.40" width="1.02" height="28.60" fill="#ffffff" fill-opacity="0.033"/><rect x="1837.51" y="120.40" width="0.93" height="28.60" fill="#000000" fill-opacity="0.034"/><rect x="2006.33" y="120.40" width="0.96" height="28.60" fill="#ffffff" fill-opacity="0.043"/><rect x="1909.07" y="120.40" width="1.35" height="28.60" fill="#ffffff" fill-opacity="0.035"/><rect x="1800.27" y="120.40" width="1.76" height="28.60" fill="#000000" fill-opacity="0.020"/><rect x="1263.92" y="120.40" width="0.71" height="28.60" fill="#ffffff" fill-opacity="0.032"/><rect x="1283.37" y="120.40" width="1.39" height="28.60" fill="#000000" fill-opacity="0.026"/><rect x="2039.99" y="120.40" width="1.17" height="28.60" fill="#000000" fill-opacity="0.048"/><rect x="2012.22" y="120.40" width="0.64" height="28.60" fill="#ffffff" fill-opacity="0.060"/><rect x="2017.53" y="120.40" width="0.71" height="28.60" fill="#ffffff" fill-opacity="0.072"/><rect x="1333.32" y="120.40" width="1.07" height="28.60" fill="#ffffff" fill-opacity="0.064"/><rect x="2002.71" y="120.40" width="0.81" height="28.60" fill="#000000" fill-opacity="0.042"/><rect x="1926.33" y="120.40" width="1.26" height="28.60" fill="#000000" fill-opacity="0.031"/><rect x="1580.11" y="120.40" width="0.88" height="28.60" fill="#000000" fill-opacity="0.034"/><rect x="1460.63" y="120.40" width="0.80" height="28.60" fill="#000000" fill-opacity="0.038"/><rect x="1823.49" y="120.40" width="1.06" height="28.60" fill="#ffffff" fill-opacity="0.038"/><rect x="1823.55" y="120.40" width="0.63" height="28.60" fill="#ffffff" fill-opacity="0.068"/><rect x="1796.10" y="120.40" width="0.72" height="28.60" fill="#ffffff" fill-opacity="0.072"/><rect x="1767.36" y="120.40" width="1.65" height="28.60" fill="#000000" fill-opacity="0.033"/><rect x="1976.70" y="120.40" width="1.48" height="28.60" fill="#ffffff" fill-opacity="0.049"/><rect x="1298.27" y="120.40" width="1.08" height="28.60" fill="#000000" fill-opacity="0.023"/><rect x="1706.92" y="120.40" width="0.73" height="28.60" fill="#ffffff" fill-opacity="0.062"/><rect x="1436.97" y="120.40" width="0.66" height="28.60" fill="#ffffff" fill-opacity="0.062"/><rect x="1720.62" y="120.40" width="0.61" height="28.60" fill="#ffffff" fill-opacity="0.078"/><rect x="1420.02" y="120.40" width="1.27" height="28.60" fill="#ffffff" fill-opacity="0.069"/><rect x="1736.08" y="120.40" width="1.55" height="28.60" fill="#ffffff" fill-opacity="0.039"/><rect x="1385.08" y="120.40" width="0.69" height="28.60" fill="#000000" fill-opacity="0.023"/><rect x="1258.74" y="120.40" width="1.76" height="28.60" fill="#ffffff" fill-opacity="0.075"/><rect x="1309.55" y="120.40" width="1.16" height="28.60" fill="#ffffff" fill-opacity="0.071"/><rect x="1745.18" y="120.40" width="1.37" height="28.60" fill="#000000" fill-opacity="0.046"/><rect x="1523.62" y="120.40" width="1.32" height="28.60" fill="#ffffff" fill-opacity="0.036"/><rect x="1926.10" y="120.40" width="1.31" height="28.60" fill="#000000" fill-opacity="0.026"/><rect x="1682.48" y="120.40" width="1.16" height="28.60" fill="#000000" fill-opacity="0.022"/><rect x="1523.71" y="120.40" width="1.18" height="28.60" fill="#ffffff" fill-opacity="0.058"/><rect x="1843.80" y="120.40" width="1.11" height="28.60" fill="#000000" fill-opacity="0.038"/><rect x="1415.15" y="120.40" width="1.02" height="28.60" fill="#000000" fill-opacity="0.030"/><rect x="1593.36" y="120.40" width="0.70" height="28.60" fill="#ffffff" fill-opacity="0.038"/><rect x="2004.69" y="120.40" width="1.47" height="28.60" fill="#000000" fill-opacity="0.050"/><rect x="1742.49" y="120.40" width="1.72" height="28.60" fill="#ffffff" fill-opacity="0.051"/><rect x="2018.77" y="120.40" width="1.68" height="28.60" fill="#000000" fill-opacity="0.035"/><rect x="1875.17" y="120.40" width="1.09" height="28.60" fill="#000000" fill-opacity="0.048"/><rect x="1479.21" y="120.40" width="1.72" height="28.60" fill="#ffffff" fill-opacity="0.035"/><rect x="1833.14" y="120.40" width="0.95" height="28.60" fill="#ffffff" fill-opacity="0.062"/><rect x="1272.36" y="120.40" width="1.49" height="28.60" fill="#ffffff" fill-opacity="0.052"/><rect x="1522.59" y="120.40" width="1.49" height="28.60" fill="#000000" fill-opacity="0.029"/><rect x="1324.01" y="120.40" width="0.96" height="28.60" fill="#ffffff" fill-opacity="0.034"/><rect x="1365.02" y="120.40" width="1.52" height="28.60" fill="#000000" fill-opacity="0.049"/><rect x="2044.76" y="120.40" width="1.65" height="28.60" fill="#ffffff" fill-opacity="0.038"/><rect x="1495.57" y="120.40" width="1.16" height="28.60" fill="#ffffff" fill-opacity="0.057"/><rect x="1534.86" y="120.40" width="1.62" height="28.60" fill="#ffffff" fill-opacity="0.053"/><rect x="1968.40" y="120.40" width="1.57" height="28.60" fill="#ffffff" fill-opacity="0.042"/><rect x="1902.49" y="120.40" width="0.61" height="28.60" fill="#ffffff" fill-opacity="0.057"/><rect x="1679.73" y="120.40" width="0.80" height="28.60" fill="#ffffff" fill-opacity="0.040"/><rect x="1872.32" y="120.40" width="1.16" height="28.60" fill="#000000" fill-opacity="0.044"/><rect x="2044.42" y="120.40" width="0.64" height="28.60" fill="#ffffff" fill-opacity="0.031"/><rect x="1594.61" y="120.40" width="1.01" height="28.60" fill="#ffffff" fill-opacity="0.057"/><rect x="1316.17" y="120.40" width="0.97" height="28.60" fill="#ffffff" fill-opacity="0.070"/><rect x="1582.98" y="120.40" width="0.91" height="28.60" fill="#ffffff" fill-opacity="0.051"/><rect x="1755.11" y="120.40" width="1.41" height="28.60" fill="#000000" fill-opacity="0.044"/><rect x="1442.46" y="120.40" width="0.76" height="28.60" fill="#000000" fill-opacity="0.044"/><rect x="1657.51" y="120.40" width="1.60" height="28.60" fill="#000000" fill-opacity="0.028"/><rect x="1377.79" y="120.40" width="0.62" height="28.60" fill="#000000" fill-opacity="0.047"/><rect x="1984.32" y="120.40" width="1.16" height="28.60" fill="#000000" fill-opacity="0.048"/><rect x="1908.52" y="120.40" width="1.32" height="28.60" fill="#ffffff" fill-opacity="0.056"/><rect x="1379.48" y="120.40" width="0.82" height="28.60" fill="#000000" fill-opacity="0.050"/><rect x="1688.96" y="120.40" width="1.09" height="28.60" fill="#ffffff" fill-opacity="0.053"/><rect x="1899.42" y="120.40" width="1.14" height="28.60" fill="#000000" fill-opacity="0.025"/><rect x="1498.01" y="120.40" width="1.23" height="28.60" fill="#ffffff" fill-opacity="0.073"/><rect x="1919.70" y="120.40" width="1.72" height="28.60" fill="#000000" fill-opacity="0.021"/><rect x="1711.53" y="120.40" width="1.26" height="28.60" fill="#ffffff" fill-opacity="0.044"/><rect x="1822.48" y="120.40" width="1.69" height="28.60" fill="#ffffff" fill-opacity="0.063"/><rect x="1544.40" y="120.40" width="1.22" height="28.60" fill="#000000" fill-opacity="0.049"/><rect x="1768.32" y="120.40" width="0.83" height="28.60" fill="#000000" fill-opacity="0.025"/><rect x="1554.27" y="120.40" width="1.59" height="28.60" fill="#ffffff" fill-opacity="0.044"/><rect x="2020.30" y="120.40" width="1.73" height="28.60" fill="#ffffff" fill-opacity="0.050"/><rect x="1470.90" y="120.40" width="0.76" height="28.60" fill="#ffffff" fill-opacity="0.079"/><rect x="1304.19" y="120.40" width="0.88" height="28.60" fill="#ffffff" fill-opacity="0.034"/><rect x="1671.84" y="120.40" width="1.49" height="28.60" fill="#000000" fill-opacity="0.039"/><rect x="1911.65" y="120.40" width="0.61" height="28.60" fill="#ffffff" fill-opacity="0.078"/><rect x="1296.06" y="120.40" width="0.92" height="28.60" fill="#ffffff" fill-opacity="0.043"/><rect x="1688.19" y="120.40" width="0.66" height="28.60" fill="#ffffff" fill-opacity="0.078"/><rect x="1357.62" y="120.40" width="1.69" height="28.60" fill="#ffffff" fill-opacity="0.080"/><rect x="1793.86" y="120.40" width="1.38" height="28.60" fill="#ffffff" fill-opacity="0.033"/><rect x="1863.66" y="120.40" width="0.81" height="28.60" fill="#ffffff" fill-opacity="0.071"/><rect x="1958.54" y="120.40" width="0.66" height="28.60" fill="#000000" fill-opacity="0.036"/><rect x="1553.51" y="120.40" width="0.73" height="28.60" fill="#ffffff" fill-opacity="0.079"/><rect x="1469.93" y="120.40" width="0.76" height="28.60" fill="#ffffff" fill-opacity="0.036"/><rect x="1528.86" y="120.40" width="1.70" height="28.60" fill="#ffffff" fill-opacity="0.040"/><rect x="2011.58" y="120.40" width="1.80" height="28.60" fill="#000000" fill-opacity="0.027"/><rect x="1530.47" y="120.40" width="1.74" height="28.60" fill="#ffffff" fill-opacity="0.065"/><rect x="1496.67" y="120.40" width="0.63" height="28.60" fill="#ffffff" fill-opacity="0.067"/><rect x="1882.14" y="120.40" width="1.28" height="28.60" fill="#ffffff" fill-opacity="0.057"/><rect x="1602.78" y="120.40" width="1.24" height="28.60" fill="#000000" fill-opacity="0.026"/><rect x="1727.82" y="120.40" width="1.72" height="28.60" fill="#000000" fill-opacity="0.025"/><rect x="2031.44" y="120.40" width="1.61" height="28.60" fill="#ffffff" fill-opacity="0.043"/><rect x="1405.44" y="120.40" width="0.66" height="28.60" fill="#000000" fill-opacity="0.032"/><rect x="1956.78" y="120.40" width="0.74" height="28.60" fill="#ffffff" fill-opacity="0.073"/><rect x="1892.07" y="120.40" width="1.79" height="28.60" fill="#000000" fill-opacity="0.036"/><rect x="1869.07" y="120.40" width="0.71" height="28.60" fill="#ffffff" fill-opacity="0.052"/><rect x="1359.36" y="120.40" width="1.32" height="28.60" fill="#ffffff" fill-opacity="0.055"/><rect x="1546.21" y="120.40" width="0.98" height="28.60" fill="#ffffff" fill-opacity="0.060"/><rect x="2045.46" y="120.40" width="1.72" height="28.60" fill="#000000" fill-opacity="0.045"/><rect x="1474.89" y="120.40" width="1.77" height="28.60" fill="#ffffff" fill-opacity="0.036"/><rect x="1650.91" y="120.40" width="1.48" height="28.60" fill="#ffffff" fill-opacity="0.062"/><rect x="1471.27" y="120.40" width="1.76" height="28.60" fill="#ffffff" fill-opacity="0.054"/><rect x="1676.10" y="120.40" width="1.65" height="28.60" fill="#000000" fill-opacity="0.036"/><rect x="1602.18" y="120.40" width="1.34" height="28.60" fill="#ffffff" fill-opacity="0.051"/><rect x="1936.05" y="120.40" width="1.53" height="28.60" fill="#ffffff" fill-opacity="0.073"/><rect x="1554.86" y="120.40" width="1.78" height="28.60" fill="#ffffff" fill-opacity="0.041"/><rect x="1690.31" y="120.40" width="1.66" height="28.60" fill="#ffffff" fill-opacity="0.073"/><rect x="1824.10" y="120.40" width="1.03" height="28.60" fill="#ffffff" fill-opacity="0.055"/><rect x="1567.19" y="120.40" width="1.05" height="28.60" fill="#000000" fill-opacity="0.046"/><rect x="1719.68" y="120.40" width="0.78" height="28.60" fill="#ffffff" fill-opacity="0.049"/><rect x="1744.58" y="120.40" width="0.77" height="28.60" fill="#ffffff" fill-opacity="0.046"/><rect x="1471.75" y="120.40" width="0.64" height="28.60" fill="#ffffff" fill-opacity="0.076"/><rect x="1678.51" y="120.40" width="1.48" height="28.60" fill="#000000" fill-opacity="0.045"/><rect x="1989.98" y="120.40" width="1.13" height="28.60" fill="#000000" fill-opacity="0.024"/><rect x="1962.78" y="120.40" width="1.05" height="28.60" fill="#ffffff" fill-opacity="0.075"/><rect x="1474.86" y="120.40" width="0.83" height="28.60" fill="#000000" fill-opacity="0.038"/><rect x="1308.78" y="120.40" width="0.63" height="28.60" fill="#ffffff" fill-opacity="0.030"/><rect x="1923.67" y="120.40" width="0.82" height="28.60" fill="#ffffff" fill-opacity="0.049"/><rect x="1659.89" y="120.40" width="1.12" height="28.60" fill="#000000" fill-opacity="0.040"/><rect x="1597.78" y="120.40" width="0.72" height="28.60" fill="#000000" fill-opacity="0.041"/><rect x="1307.71" y="120.40" width="1.13" height="28.60" fill="#000000" fill-opacity="0.050"/><rect x="1293.29" y="120.40" width="0.61" height="28.60" fill="#ffffff" fill-opacity="0.051"/><rect x="1974.65" y="151.70" width="1.59" height="28.60" fill="#ffffff" fill-opacity="0.051"/><rect x="1718.40" y="151.70" width="1.66" height="28.60" fill="#ffffff" fill-opacity="0.050"/><rect x="1311.76" y="151.70" width="1.37" height="28.60" fill="#ffffff" fill-opacity="0.077"/><rect x="1669.76" y="151.70" width="1.29" height="28.60" fill="#ffffff" fill-opacity="0.042"/><rect x="1624.57" y="151.70" width="1.63" height="28.60" fill="#ffffff" fill-opacity="0.044"/><rect x="2046.76" y="151.70" width="1.39" height="28.60" fill="#ffffff" fill-opacity="0.040"/><rect x="1484.56" y="151.70" width="1.68" height="28.60" fill="#ffffff" fill-opacity="0.057"/><rect x="1748.92" y="151.70" width="1.03" height="28.60" fill="#000000" fill-opacity="0.047"/><rect x="1944.33" y="151.70" width="1.49" height="28.60" fill="#ffffff" fill-opacity="0.033"/><rect x="1595.00" y="151.70" width="0.97" height="28.60" fill="#ffffff" fill-opacity="0.074"/><rect x="1416.72" y="151.70" width="1.59" height="28.60" fill="#000000" fill-opacity="0.024"/><rect x="1990.42" y="151.70" width="1.08" height="28.60" fill="#ffffff" fill-opacity="0.039"/><rect x="1270.02" y="151.70" width="1.20" height="28.60" fill="#ffffff" fill-opacity="0.073"/><rect x="1924.15" y="151.70" width="0.67" height="28.60" fill="#ffffff" fill-opacity="0.049"/><rect x="1385.10" y="151.70" width="0.90" height="28.60" fill="#ffffff" fill-opacity="0.065"/><rect x="1518.82" y="151.70" width="0.73" height="28.60" fill="#ffffff" fill-opacity="0.052"/><rect x="1703.58" y="151.70" width="0.89" height="28.60" fill="#000000" fill-opacity="0.026"/><rect x="1790.74" y="151.70" width="1.33" height="28.60" fill="#ffffff" fill-opacity="0.068"/><rect x="1563.26" y="151.70" width="1.25" height="28.60" fill="#000000" fill-opacity="0.039"/><rect x="1602.83" y="151.70" width="0.67" height="28.60" fill="#000000" fill-opacity="0.046"/><rect x="1642.16" y="151.70" width="1.29" height="28.60" fill="#ffffff" fill-opacity="0.075"/><rect x="1802.96" y="151.70" width="0.87" height="28.60" fill="#000000" fill-opacity="0.050"/><rect x="1523.55" y="151.70" width="1.79" height="28.60" fill="#ffffff" fill-opacity="0.039"/><rect x="1828.63" y="151.70" width="1.01" height="28.60" fill="#000000" fill-opacity="0.038"/><rect x="1327.54" y="151.70" width="1.23" height="28.60" fill="#000000" fill-opacity="0.034"/><rect x="1682.59" y="151.70" width="1.64" height="28.60" fill="#ffffff" fill-opacity="0.055"/><rect x="1718.36" y="151.70" width="1.59" height="28.60" fill="#ffffff" fill-opacity="0.035"/><rect x="1865.08" y="151.70" width="1.26" height="28.60" fill="#ffffff" fill-opacity="0.075"/><rect x="1966.59" y="151.70" width="1.25" height="28.60" fill="#000000" fill-opacity="0.045"/><rect x="1854.27" y="151.70" width="0.95" height="28.60" fill="#ffffff" fill-opacity="0.064"/><rect x="1843.63" y="151.70" width="1.02" height="28.60" fill="#ffffff" fill-opacity="0.058"/><rect x="1444.49" y="151.70" width="1.44" height="28.60" fill="#000000" fill-opacity="0.032"/><rect x="1329.15" y="151.70" width="1.26" height="28.60" fill="#ffffff" fill-opacity="0.066"/><rect x="1380.91" y="151.70" width="1.07" height="28.60" fill="#ffffff" fill-opacity="0.050"/><rect x="1713.07" y="151.70" width="0.73" height="28.60" fill="#ffffff" fill-opacity="0.054"/><rect x="1404.77" y="151.70" width="1.21" height="28.60" fill="#ffffff" fill-opacity="0.035"/><rect x="1681.11" y="151.70" width="1.71" height="28.60" fill="#000000" fill-opacity="0.035"/><rect x="1565.79" y="151.70" width="0.68" height="28.60" fill="#ffffff" fill-opacity="0.046"/><rect x="2013.42" y="151.70" width="0.74" height="28.60" fill="#000000" fill-opacity="0.034"/><rect x="1596.00" y="151.70" width="0.91" height="28.60" fill="#000000" fill-opacity="0.026"/><rect x="1708.93" y="151.70" width="1.21" height="28.60" fill="#ffffff" fill-opacity="0.041"/><rect x="2049.51" y="151.70" width="1.55" height="28.60" fill="#000000" fill-opacity="0.047"/><rect x="1320.06" y="151.70" width="1.44" height="28.60" fill="#000000" fill-opacity="0.027"/><rect x="1614.93" y="151.70" width="1.77" height="28.60" fill="#ffffff" fill-opacity="0.068"/><rect x="1374.94" y="151.70" width="1.40" height="28.60" fill="#ffffff" fill-opacity="0.055"/><rect x="1545.28" y="151.70" width="1.64" height="28.60" fill="#000000" fill-opacity="0.035"/><rect x="1804.25" y="151.70" width="1.11" height="28.60" fill="#000000" fill-opacity="0.028"/><rect x="1686.56" y="151.70" width="1.30" height="28.60" fill="#ffffff" fill-opacity="0.032"/><rect x="1378.79" y="151.70" width="1.37" height="28.60" fill="#ffffff" fill-opacity="0.068"/><rect x="1654.28" y="151.70" width="1.74" height="28.60" fill="#000000" fill-opacity="0.042"/><rect x="1545.39" y="151.70" width="0.65" height="28.60" fill="#000000" fill-opacity="0.042"/><rect x="1996.58" y="151.70" width="0.84" height="28.60" fill="#ffffff" fill-opacity="0.079"/><rect x="1847.20" y="151.70" width="1.18" height="28.60" fill="#000000" fill-opacity="0.024"/><rect x="1686.48" y="151.70" width="1.40" height="28.60" fill="#000000" fill-opacity="0.025"/><rect x="1351.51" y="151.70" width="1.35" height="28.60" fill="#000000" fill-opacity="0.024"/><rect x="1244.84" y="151.70" width="0.70" height="28.60" fill="#000000" fill-opacity="0.032"/><rect x="1613.88" y="151.70" width="1.79" height="28.60" fill="#000000" fill-opacity="0.028"/><rect x="1815.54" y="151.70" width="0.60" height="28.60" fill="#ffffff" fill-opacity="0.065"/><rect x="1379.51" y="151.70" width="0.64" height="28.60" fill="#ffffff" fill-opacity="0.046"/><rect x="2037.81" y="151.70" width="0.72" height="28.60" fill="#000000" fill-opacity="0.032"/><rect x="1901.46" y="151.70" width="1.13" height="28.60" fill="#000000" fill-opacity="0.030"/><rect x="1423.72" y="151.70" width="1.14" height="28.60" fill="#000000" fill-opacity="0.030"/><rect x="1428.09" y="151.70" width="1.10" height="28.60" fill="#ffffff" fill-opacity="0.046"/><rect x="1710.16" y="151.70" width="1.25" height="28.60" fill="#000000" fill-opacity="0.029"/><rect x="1259.39" y="151.70" width="0.63" height="28.60" fill="#ffffff" fill-opacity="0.040"/><rect x="1706.98" y="151.70" width="0.92" height="28.60" fill="#000000" fill-opacity="0.038"/><rect x="1783.77" y="151.70" width="1.48" height="28.60" fill="#ffffff" fill-opacity="0.051"/><rect x="1492.68" y="151.70" width="0.68" height="28.60" fill="#000000" fill-opacity="0.035"/><rect x="1321.02" y="151.70" width="1.71" height="28.60" fill="#000000" fill-opacity="0.039"/><rect x="1599.79" y="151.70" width="0.75" height="28.60" fill="#000000" fill-opacity="0.025"/><rect x="1540.24" y="151.70" width="1.80" height="28.60" fill="#ffffff" fill-opacity="0.055"/><rect x="1633.52" y="151.70" width="0.90" height="28.60" fill="#000000" fill-opacity="0.032"/><rect x="1248.53" y="151.70" width="1.17" height="28.60" fill="#ffffff" fill-opacity="0.065"/><rect x="1953.78" y="151.70" width="1.69" height="28.60" fill="#ffffff" fill-opacity="0.064"/><rect x="1489.64" y="151.70" width="1.17" height="28.60" fill="#ffffff" fill-opacity="0.045"/><rect x="1348.18" y="151.70" width="1.35" height="28.60" fill="#ffffff" fill-opacity="0.078"/><rect x="1275.05" y="151.70" width="1.76" height="28.60" fill="#ffffff" fill-opacity="0.034"/><rect x="1851.60" y="151.70" width="1.24" height="28.60" fill="#000000" fill-opacity="0.035"/><rect x="1757.62" y="151.70" width="0.70" height="28.60" fill="#000000" fill-opacity="0.035"/><rect x="2030.43" y="151.70" width="0.61" height="28.60" fill="#ffffff" fill-opacity="0.064"/><rect x="2000.77" y="151.70" width="1.11" height="28.60" fill="#000000" fill-opacity="0.037"/><rect x="1560.52" y="151.70" width="1.16" height="28.60" fill="#000000" fill-opacity="0.021"/><rect x="1490.37" y="151.70" width="1.49" height="28.60" fill="#ffffff" fill-opacity="0.054"/><rect x="1450.16" y="151.70" width="1.03" height="28.60" fill="#000000" fill-opacity="0.042"/><rect x="2025.99" y="151.70" width="1.17" height="28.60" fill="#ffffff" fill-opacity="0.047"/><rect x="1287.11" y="151.70" width="0.89" height="28.60" fill="#000000" fill-opacity="0.038"/><rect x="1437.62" y="151.70" width="0.82" height="28.60" fill="#ffffff" fill-opacity="0.039"/><rect x="1651.41" y="151.70" width="0.91" height="28.60" fill="#000000" fill-opacity="0.037"/><rect x="1518.79" y="151.70" width="1.12" height="28.60" fill="#ffffff" fill-opacity="0.067"/><rect x="1856.77" y="151.70" width="1.04" height="28.60" fill="#000000" fill-opacity="0.028"/><rect x="1419.54" y="151.70" width="0.87" height="28.60" fill="#ffffff" fill-opacity="0.060"/><rect x="1767.14" y="151.70" width="1.47" height="28.60" fill="#ffffff" fill-opacity="0.068"/><rect x="1632.38" y="151.70" width="1.05" height="28.60" fill="#ffffff" fill-opacity="0.052"/><rect x="1403.57" y="151.70" width="1.07" height="28.60" fill="#000000" fill-opacity="0.041"/><rect x="1991.60" y="151.70" width="0.83" height="28.60" fill="#000000" fill-opacity="0.044"/><rect x="1825.42" y="151.70" width="1.78" height="28.60" fill="#ffffff" fill-opacity="0.069"/><rect x="1978.76" y="151.70" width="0.75" height="28.60" fill="#000000" fill-opacity="0.048"/><rect x="1480.01" y="151.70" width="1.63" height="28.60" fill="#000000" fill-opacity="0.033"/><rect x="1358.42" y="151.70" width="0.86" height="28.60" fill="#000000" fill-opacity="0.033"/><rect x="1498.64" y="151.70" width="1.13" height="28.60" fill="#000000" fill-opacity="0.028"/><rect x="1254.04" y="151.70" width="1.74" height="28.60" fill="#ffffff" fill-opacity="0.049"/><rect x="2041.65" y="151.70" width="0.94" height="28.60" fill="#ffffff" fill-opacity="0.074"/><rect x="1439.58" y="151.70" width="0.87" height="28.60" fill="#000000" fill-opacity="0.027"/><rect x="1980.18" y="151.70" width="1.00" height="28.60" fill="#ffffff" fill-opacity="0.041"/><rect x="1685.05" y="151.70" width="1.27" height="28.60" fill="#ffffff" fill-opacity="0.055"/><rect x="1484.19" y="151.70" width="1.61" height="28.60" fill="#000000" fill-opacity="0.043"/><rect x="1913.26" y="151.70" width="0.68" height="28.60" fill="#ffffff" fill-opacity="0.040"/><rect x="1366.35" y="151.70" width="1.76" height="28.60" fill="#000000" fill-opacity="0.047"/><rect x="1697.82" y="151.70" width="0.74" height="28.60" fill="#ffffff" fill-opacity="0.033"/><rect x="1983.07" y="151.70" width="0.92" height="28.60" fill="#ffffff" fill-opacity="0.077"/><rect x="1403.92" y="151.70" width="1.71" height="28.60" fill="#ffffff" fill-opacity="0.063"/><rect x="1326.76" y="151.70" width="1.68" height="28.60" fill="#ffffff" fill-opacity="0.047"/><rect x="1777.22" y="151.70" width="1.31" height="28.60" fill="#ffffff" fill-opacity="0.036"/><rect x="1712.33" y="151.70" width="0.63" height="28.60" fill="#000000" fill-opacity="0.030"/><rect x="1378.49" y="151.70" width="0.99" height="28.60" fill="#ffffff" fill-opacity="0.046"/><rect x="1685.80" y="151.70" width="1.09" height="28.60" fill="#ffffff" fill-opacity="0.045"/><rect x="1639.15" y="151.70" width="1.53" height="28.60" fill="#ffffff" fill-opacity="0.068"/><rect x="1636.00" y="151.70" width="0.74" height="28.60" fill="#ffffff" fill-opacity="0.072"/><rect x="1633.22" y="151.70" width="1.06" height="28.60" fill="#ffffff" fill-opacity="0.072"/><rect x="1547.71" y="151.70" width="1.03" height="28.60" fill="#ffffff" fill-opacity="0.031"/><rect x="1687.13" y="151.70" width="1.17" height="28.60" fill="#ffffff" fill-opacity="0.053"/><rect x="1627.60" y="151.70" width="1.46" height="28.60" fill="#ffffff" fill-opacity="0.079"/><rect x="1333.31" y="151.70" width="1.64" height="28.60" fill="#ffffff" fill-opacity="0.070"/><rect x="1453.28" y="151.70" width="0.69" height="28.60" fill="#ffffff" fill-opacity="0.072"/><rect x="1934.41" y="151.70" width="1.65" height="28.60" fill="#000000" fill-opacity="0.022"/><rect x="1550.76" y="151.70" width="0.73" height="28.60" fill="#000000" fill-opacity="0.034"/><rect x="1851.00" y="151.70" width="1.55" height="28.60" fill="#000000" fill-opacity="0.040"/><rect x="1958.86" y="151.70" width="1.26" height="28.60" fill="#ffffff" fill-opacity="0.075"/><rect x="1313.90" y="151.70" width="0.70" height="28.60" fill="#000000" fill-opacity="0.028"/><rect x="1783.82" y="151.70" width="0.63" height="28.60" fill="#ffffff" fill-opacity="0.066"/><rect x="1269.97" y="151.70" width="1.21" height="28.60" fill="#000000" fill-opacity="0.026"/><rect x="1818.68" y="151.70" width="1.49" height="28.60" fill="#000000" fill-opacity="0.043"/><rect x="1813.25" y="151.70" width="0.62" height="28.60" fill="#ffffff" fill-opacity="0.057"/><rect x="2036.71" y="151.70" width="0.86" height="28.60" fill="#000000" fill-opacity="0.024"/><rect x="1935.52" y="151.70" width="1.13" height="28.60" fill="#ffffff" fill-opacity="0.063"/><rect x="1351.29" y="151.70" width="1.47" height="28.60" fill="#000000" fill-opacity="0.046"/><rect x="1470.47" y="151.70" width="0.88" height="28.60" fill="#ffffff" fill-opacity="0.075"/><rect x="1599.28" y="151.70" width="1.07" height="28.60" fill="#ffffff" fill-opacity="0.065"/><rect x="1500.62" y="151.70" width="1.00" height="28.60" fill="#000000" fill-opacity="0.043"/><rect x="1482.43" y="151.70" width="0.69" height="28.60" fill="#000000" fill-opacity="0.042"/><text x="1228.40" y="50.00" font-size="24" text-anchor="end">Fraction</text><text x="1228.40" y="81.00" font-size="24" text-anchor="end">Clusters</text><text x="1228.40" y="112.20" font-size="24" text-anchor="end">Pseudotime</text><text x="1228.40" y="143.60" font-size="24" text-anchor="end">mKO2−CDT1</text><text x="1228.40" y="174.40" font-size="24" text-anchor="end">mAG−GMNN</text><g clip-path="url(#hclip)"><g filter="url(#hnoise)"><g filter="url(#hblur)"><rect x="10.00" y="180.00" width="130.00" height="70.00" fill="#ecacb8"/><rect x="140.00" y="180.00" width="60.00" height="70.00" fill="#dcb4d8"/><rect x="200.00" y="180.00" width="140.00" height="70.00" fill="#ccb6f2"/><rect x="340.00" y="180.00" width="140.00" height="70.00" fill="#d6baec"/><rect x="480.00" y="180.00" width="160.00" height="70.00" fill="#e4b4c8"/><rect x="640.00" y="180.00" width="140.00" height="70.00" fill="#e0b8d4"/><rect x="780.00" y="180.00" width="90.00" height="70.00" fill="#dcaed0"/><rect x="10.00" y="250.00" width="130.00" height="40.00" fill="#ecacb8"/><rect x="140.00" y="250.00" width="60.00" height="40.00" fill="#dcb4d8"/><rect x="200.00" y="250.00" width="155.00" height="40.00" fill="#c0aaf0"/><rect x="355.00" y="250.00" width="125.00" height="40.00" fill="#dcb8e0"/><rect x="480.00" y="250.00" width="160.00" height="40.00" fill="#e8aeb8"/><rect x="640.00" y="250.00" width="140.00" height="40.00" fill="#e6b0c0"/><rect x="780.00" y="250.00" width="90.00" height="40.00" fill="#dcaed0"/><rect x="10.00" y="290.00" width="130.00" height="40.00" fill="#ddb4d4"/><rect x="140.00" y="290.00" width="60.00" height="40.00" fill="#dcb4d8"/><rect x="200.00" y="290.00" width="155.00" height="40.00" fill="#c0aaf0"/><rect x="355.00" y="290.00" width="125.00" height="40.00" fill="#dcb8e0"/><rect x="480.00" y="290.00" width="160.00" height="40.00" fill="#e8aeb8"/><rect x="640.00" y="290.00" width="140.00" height="40.00" fill="#e6b0c0"/><rect x="780.00" y="290.00" width="90.00" height="40.00" fill="#dcaed0"/><rect x="10.00" y="330.00" width="160.00" height="18.00" fill="#eca4a8"/><rect x="170.00" y="330.00" width="30.00" height="18.00" fill="#e4aec0"/><rect x="200.00" y="330.00" width="155.00" height="18.00" fill="#c0aaf0"/><rect x="355.00" y="330.00" width="125.00" height="18.00" fill="#dcb8e0"/><rect x="480.00" y="330.00" width="160.00" height="18.00" fill="#e6b0bc"/><rect x="640.00" y="330.00" width="210.00" height="18.00" fill="#eca6ae"/><rect x="850.00" y="330.00" width="20.00" height="18.00" fill="#dcaed0"/><rect x="10.00" y="348.00" width="130.00" height="17.00" fill="#deb6d6"/><rect x="140.00" y="348.00" width="60.00" height="17.00" fill="#dcb4d8"/><rect x="200.00" y="348.00" width="140.00" height="17.00" fill="#ccb4f0"/><rect x="340.00" y="348.00" width="140.00" height="17.00" fill="#dcb8e0"/><rect x="480.00" y="348.00" width="160.00" height="17.00" fill="#dcbcdc"/><rect x="640.00" y="348.00" width="140.00" height="17.00" fill="#d0c0ee"/><rect x="780.00" y="348.00" width="90.00" height="17.00" fill="#d8bae8"/><rect x="10.00" y="365.00" width="90.00" height="50.00" fill="#eaaab2"/><rect x="100.00" y="365.00" width="100.00" height="50.00" fill="#dfb6d6"/><rect x="200.00" y="365.00" width="155.00" height="50.00" fill="#c4aef0"/><rect x="355.00" y="365.00" width="125.00" height="50.00" fill="#dcb8e0"/><rect x="480.00" y="365.00" width="160.00" height="50.00" fill="#dcbcdc"/><rect x="640.00" y="365.00" width="140.00" height="50.00" fill="#e2bcd4"/><rect x="780.00" y="365.00" width="90.00" height="50.00" fill="#dcb0d0"/><rect x="10.00" y="415.00" width="190.00" height="55.00" fill="#eca8ae"/><rect x="200.00" y="415.00" width="155.00" height="55.00" fill="#bca6f0"/><rect x="355.00" y="415.00" width="125.00" height="55.00" fill="#dcb8e0"/><rect x="480.00" y="415.00" width="160.00" height="55.00" fill="#eaa8ac"/><rect x="640.00" y="415.00" width="140.00" height="55.00" fill="#eaaab2"/><rect x="780.00" y="415.00" width="90.00" height="55.00" fill="#e4aac0"/><rect x="10.00" y="470.00" width="130.00" height="79.00" fill="#e8aab4"/><rect x="140.00" y="470.00" width="60.00" height="79.00" fill="#e0b2cc"/><rect x="200.00" y="470.00" width="140.00" height="79.00" fill="#d0b8f0"/><rect x="340.00" y="470.00" width="140.00" height="79.00" fill="#d6bce6"/><rect x="480.00" y="470.00" width="160.00" height="79.00" fill="#e2b8cc"/><rect x="640.00" y="470.00" width="140.00" height="79.00" fill="#e8acb8"/><rect x="780.00" y="470.00" width="90.00" height="79.00" fill="#e4aac0"/><rect x="10.00" y="549.00" width="25.00" height="31.00" fill="#eeaaa8"/><rect x="35.00" y="549.00" width="25.00" height="31.00" fill="#eabcd0"/><rect x="60.00" y="549.00" width="35.00" height="31.00" fill="#dcc4ec"/><rect x="95.00" y="549.00" width="415.00" height="31.00" fill="#cebaf6"/><rect x="510.00" y="549.00" width="50.00" height="31.00" fill="#e8ccdc"/><rect x="560.00" y="549.00" width="65.00" height="31.00" fill="#f0d0d0"/><rect x="625.00" y="549.00" width="15.00" height="31.00" fill="#f2b0a0"/><rect x="640.00" y="549.00" width="230.00" height="31.00" fill="#f29880"/><rect x="10.00" y="580.00" width="25.00" height="20.00" fill="#e6b8d0"/><rect x="35.00" y="580.00" width="60.00" height="20.00" fill="#d8c4ee"/><rect x="95.00" y="580.00" width="415.00" height="20.00" fill="#d0bcf6"/><rect x="510.00" y="580.00" width="50.00" height="20.00" fill="#e8ccdc"/><rect x="560.00" y="580.00" width="65.00" height="20.00" fill="#f0c8c8"/><rect x="625.00" y="580.00" width="15.00" height="20.00" fill="#f2a090"/><rect x="640.00" y="580.00" width="230.00" height="20.00" fill="#f28a74"/><rect x="10.00" y="600.00" width="60.00" height="20.00" fill="#eea8a4"/><rect x="70.00" y="600.00" width="40.00" height="20.00" fill="#e0bcdc"/><rect x="110.00" y="600.00" width="395.00" height="20.00" fill="#ccb6f4"/><rect x="505.00" y="600.00" width="135.00" height="20.00" fill="#f0c8c8"/><rect x="640.00" y="600.00" width="230.00" height="20.00" fill="#f2a090"/><rect x="10.00" y="620.00" width="30.00" height="20.00" fill="#e6b8d0"/><rect x="40.00" y="620.00" width="465.00" height="20.00" fill="#d4c0f6"/><rect x="505.00" y="620.00" width="21.00" height="20.00" fill="#e8c0c8"/><rect x="526.00" y="620.00" width="134.00" height="20.00" fill="#f08070"/><rect x="660.00" y="620.00" width="210.00" height="20.00" fill="#f0a8a8"/><rect x="10.00" y="640.00" width="50.00" height="15.00" fill="#eca8b0"/><rect x="60.00" y="640.00" width="450.00" height="15.00" fill="#e0b8d8"/><rect x="510.00" y="640.00" width="130.00" height="15.00" fill="#f29c88"/><rect x="640.00" y="640.00" width="230.00" height="15.00" fill="#eeacb0"/><rect x="10.00" y="655.00" width="50.00" height="45.00" fill="#eca8b0"/><rect x="60.00" y="655.00" width="580.00" height="45.00" fill="#e0bcda"/><rect x="640.00" y="655.00" width="140.00" height="45.00" fill="#eeaab0"/><rect x="780.00" y="655.00" width="90.00" height="45.00" fill="#e4b0c8"/><rect x="10.00" y="700.00" width="50.00" height="12.00" fill="#e4b4cc"/><rect x="60.00" y="700.00" width="440.00" height="12.00" fill="#d2c4f0"/><rect x="500.00" y="700.00" width="140.00" height="12.00" fill="#e0c0dc"/><rect x="640.00" y="700.00" width="230.00" height="12.00" fill="#eea8ac"/><rect x="10.00" y="712.00" width="100.00" height="48.00" fill="#e0b6d4"/><rect x="110.00" y="712.00" width="530.00" height="48.00" fill="#d8bee4"/><rect x="640.00" y="712.00" width="230.00" height="48.00" fill="#eea8ac"/><rect x="10.00" y="760.00" width="490.00" height="15.00" fill="#dcbcdc"/><rect x="500.00" y="760.00" width="160.00" height="15.00" fill="#f09888"/><rect x="660.00" y="760.00" width="210.00" height="15.00" fill="#eaaeb8"/><rect x="10.00" y="775.00" width="100.00" height="58.00" fill="#eaaab4"/><rect x="110.00" y="775.00" width="90.00" height="58.00" fill="#dcb8dc"/><rect x="200.00" y="775.00" width="130.00" height="58.00" fill="#d8bae8"/><rect x="330.00" y="775.00" width="310.00" height="58.00" fill="#e8bcd0"/><rect x="640.00" y="775.00" width="230.00" height="58.00" fill="#eab0c0"/><rect x="10.00" y="833.00" width="530.00" height="28.50" fill="#e8def6"/><rect x="540.00" y="833.00" width="13.00" height="28.50" fill="#f0d0d0"/><rect x="553.00" y="833.00" width="84.00" height="28.50" fill="#f0321e"/><rect x="637.00" y="833.00" width="23.00" height="28.50" fill="#ecd8e8"/><rect x="660.00" y="833.00" width="210.00" height="28.50" fill="#d0c4f8"/><rect x="10.00" y="861.50" width="80.00" height="38.50" fill="#f0a8a8"/><rect x="90.00" y="861.50" width="380.00" height="38.50" fill="#ccb8f4"/><rect x="470.00" y="861.50" width="30.00" height="38.50" fill="#f0a898"/><rect x="500.00" y="861.50" width="140.00" height="38.50" fill="#f07460"/><rect x="640.00" y="861.50" width="20.00" height="38.50" fill="#f0b0b0"/><rect x="660.00" y="861.50" width="210.00" height="38.50" fill="#ecd0dc"/><rect x="10.00" y="900.00" width="85.00" height="55.00" fill="#eeaaac"/><rect x="95.00" y="900.00" width="375.00" height="55.00" fill="#d0bcf6"/><rect x="470.00" y="900.00" width="20.00" height="55.00" fill="#f0a090"/><rect x="490.00" y="900.00" width="150.00" height="55.00" fill="#f08878"/><rect x="640.00" y="900.00" width="20.00" height="55.00" fill="#eeb8c0"/><rect x="660.00" y="900.00" width="210.00" height="55.00" fill="#e8bcd0"/><rect x="10.00" y="955.00" width="190.00" height="75.00" fill="#dcbce0"/><rect x="200.00" y="955.00" width="120.00" height="75.00" fill="#eca4ac"/><rect x="320.00" y="955.00" width="180.00" height="75.00" fill="#e8b4c4"/><rect x="500.00" y="955.00" width="140.00" height="75.00" fill="#dec0e6"/><rect x="640.00" y="955.00" width="20.00" height="75.00" fill="#e4bcd4"/><rect x="660.00" y="955.00" width="120.00" height="75.00" fill="#d4bcf0"/><rect x="780.00" y="955.00" width="90.00" height="75.00" fill="#d0baee"/><rect x="10.00" y="1030.00" width="120.00" height="82.00" fill="#d8c0e4"/><rect x="130.00" y="1030.00" width="70.00" height="82.00" fill="#e6b2c4"/><rect x="200.00" y="1030.00" width="90.00" height="82.00" fill="#eca4ac"/><rect x="290.00" y="1030.00" width="210.00" height="82.00" fill="#eaaab4"/><rect x="500.00" y="1030.00" width="140.00" height="82.00" fill="#dec0e6"/><rect x="640.00" y="1030.00" width="20.00" height="82.00" fill="#e4bcd4"/><rect x="660.00" y="1030.00" width="120.00" height="82.00" fill="#d4bcf0"/><rect x="780.00" y="1030.00" width="90.00" height="82.00" fill="#d0baee"/><rect x="10.00" y="1112.00" width="860.00" height="4.00" fill="#e4dcf6"/><rect x="10.00" y="1116.00" width="120.00" height="74.00" fill="#d4bcec"/><rect x="130.00" y="1116.00" width="70.00" height="74.00" fill="#dcbcdc"/><rect x="200.00" y="1116.00" width="90.00" height="74.00" fill="#eca2a8"/><rect x="290.00" y="1116.00" width="210.00" height="74.00" fill="#e6b4c8"/><rect x="500.00" y="1116.00" width="160.00" height="74.00" fill="#dec0e6"/><rect x="660.00" y="1116.00" width="210.00" height="74.00" fill="#d4bcf0"/><rect x="10.00" y="1190.00" width="110.00" height="60.00" fill="#c4b0f4"/><rect x="120.00" y="1190.00" width="70.00" height="60.00" fill="#dcbce0"/><rect x="190.00" y="1190.00" width="290.00" height="60.00" fill="#f0a8a0"/><rect x="480.00" y="1190.00" width="20.00" height="60.00" fill="#dcbce8"/><rect x="500.00" y="1190.00" width="160.00" height="60.00" fill="#ccb8f2"/><rect x="660.00" y="1190.00" width="210.00" height="60.00" fill="#c6aef4"/><rect x="10.00" y="1250.00" width="120.00" height="40.00" fill="#d0b8f0"/><rect x="130.00" y="1250.00" width="350.00" height="40.00" fill="#eeaaac"/><rect x="480.00" y="1250.00" width="20.00" height="40.00" fill="#dcbce8"/><rect x="500.00" y="1250.00" width="160.00" height="40.00" fill="#d0bcf0"/><rect x="660.00" y="1250.00" width="210.00" height="40.00" fill="#c6aef4"/><rect x="10.00" y="1290.00" width="120.00" height="30.00" fill="#d0b8f0"/><rect x="130.00" y="1290.00" width="130.00" height="30.00" fill="#d8bce4"/><rect x="260.00" y="1290.00" width="220.00" height="30.00" fill="#eeaaac"/><rect x="480.00" y="1290.00" width="175.00" height="30.00" fill="#dcc0e4"/><rect x="655.00" y="1290.00" width="215.00" height="30.00" fill="#ccb4f0"/><rect x="10.00" y="1320.00" width="90.00" height="80.00" fill="#e8b0bc"/><rect x="100.00" y="1320.00" width="200.00" height="80.00" fill="#ecaab4"/><rect x="300.00" y="1320.00" width="180.00" height="80.00" fill="#e8b0bc"/><rect x="480.00" y="1320.00" width="175.00" height="80.00" fill="#e6bccc"/><rect x="655.00" y="1320.00" width="215.00" height="80.00" fill="#d4b8ec"/><rect x="10.00" y="1400.00" width="470.00" height="100.00" fill="#e6b2c4"/><rect x="480.00" y="1400.00" width="175.00" height="100.00" fill="#e8bcc8"/><rect x="655.00" y="1400.00" width="215.00" height="100.00" fill="#ccb4ee"/><rect x="230.00" y="206.00" width="110.00" height="8.00" fill="#b4a8f0"/><rect x="232.00" y="262.00" width="98.00" height="10.00" fill="#a89cf0"/><rect x="230.00" y="290.00" width="90.00" height="10.00" fill="#aca0f0"/><rect x="226.00" y="308.00" width="114.00" height="18.00" fill="#a89cf0"/><rect x="230.00" y="334.00" width="60.00" height="8.00" fill="#9c90f0"/><rect x="225.00" y="420.00" width="110.00" height="10.00" fill="#aca0f0"/><rect x="225.00" y="440.00" width="115.00" height="22.00" fill="#a89af0"/><rect x="220.00" y="462.00" width="110.00" height="6.00" fill="#a094f0"/><rect x="490.00" y="270.00" width="150.00" height="12.00" fill="#eea4a4"/><rect x="480.00" y="298.00" width="160.00" height="8.00" fill="#eea4a8"/><rect x="660.00" y="288.00" width="160.00" height="12.00" fill="#eea2a4"/><rect x="480.00" y="438.00" width="140.00" height="18.00" fill="#eea29e"/><rect x="170.00" y="612.00" width="290.00" height="8.00" fill="#aea2f4"/><rect x="640.00" y="720.00" width="230.00" height="15.00" fill="#f0a0a0"/><rect x="200.00" y="785.00" width="130.00" height="15.00" fill="#c8b8ee"/><rect x="10.00" y="852.00" width="543.00" height="4.00" fill="#f0c8cc"/><rect x="640.00" y="846.00" width="230.00" height="4.00" fill="#a8a0f8"/><rect x="640.00" y="855.00" width="230.00" height="3.00" fill="#b0a8f8"/><rect x="100.00" y="866.00" width="370.00" height="14.00" fill="#beb2f4"/><rect x="230.00" y="958.00" width="40.00" height="17.00" fill="#ec8080"/><rect x="225.00" y="1030.00" width="40.00" height="20.00" fill="#ec8888"/><rect x="625.00" y="1085.00" width="35.00" height="10.00" fill="#f0a090"/><rect x="210.00" y="1116.00" width="70.00" height="19.00" fill="#ee8888"/><rect x="660.00" y="1170.00" width="210.00" height="18.00" fill="#eeaaae"/><rect x="220.00" y="1212.00" width="90.00" height="10.00" fill="#ee8a84"/><rect x="190.00" y="1285.00" width="90.00" height="5.00" fill="#c4aef0"/><rect x="660.00" y="1255.00" width="210.00" height="7.00" fill="#b0a2f4"/><rect x="380.00" y="1282.00" width="80.00" height="8.00" fill="#f09494"/><rect x="215.00" y="1312.00" width="30.00" height="5.00" fill="#a898f0"/><rect x="560.00" y="1194.00" width="300.00" height="6.00" fill="#b8a8f4"/><rect x="560.00" y="1222.00" width="300.00" height="8.00" fill="#bcacf4"/><rect x="660.00" y="1326.00" width="210.00" height="8.00" fill="#beaef2"/><rect x="10.00" y="1400.00" width="470.00" height="10.00" fill="#dcbce0"/><rect x="660.00" y="1405.00" width="210.00" height="5.00" fill="#b4aaf2"/><rect x="660.00" y="1440.00" width="210.00" height="8.00" fill="#b0a6f2"/></g><rect x="120.00" y="378.00" width="1.20" height="38.00" fill="#8a7ef0" fill-opacity="0.35"/><rect x="120.00" y="492.00" width="1.20" height="20.00" fill="#8a7ef0" fill-opacity="0.3"/><rect x="127.00" y="378.00" width="1.20" height="38.00" fill="#8a7ef0" fill-opacity="0.35"/><rect x="127.00" y="492.00" width="1.20" height="20.00" fill="#8a7ef0" fill-opacity="0.3"/><rect x="133.00" y="378.00" width="1.20" height="38.00" fill="#8a7ef0" fill-opacity="0.35"/><rect x="155.00" y="378.00" width="1.20" height="38.00" fill="#8a7ef0" fill-opacity="0.35"/><rect x="155.00" y="492.00" width="1.20" height="20.00" fill="#8a7ef0" fill-opacity="0.3"/><rect x="190.00" y="378.00" width="1.20" height="38.00" fill="#8a7ef0" fill-opacity="0.35"/><rect x="190.00" y="492.00" width="1.20" height="20.00" fill="#8a7ef0" fill-opacity="0.3"/><rect x="196.00" y="378.00" width="1.20" height="38.00" fill="#8a7ef0" fill-opacity="0.35"/><rect x="196.00" y="492.00" width="1.20" height="20.00" fill="#8a7ef0" fill-opacity="0.3"/><rect x="226.00" y="378.00" width="1.20" height="38.00" fill="#8a7ef0" fill-opacity="0.35"/><rect x="226.00" y="492.00" width="1.20" height="20.00" fill="#8a7ef0" fill-opacity="0.3"/><rect x="248.00" y="378.00" width="1.20" height="38.00" fill="#8a7ef0" fill-opacity="0.35"/><rect x="248.00" y="492.00" width="1.20" height="20.00" fill="#8a7ef0" fill-opacity="0.3"/><rect x="266.00" y="378.00" width="1.20" height="38.00" fill="#8a7ef0" fill-opacity="0.35"/><rect x="266.00" y="492.00" width="1.20" height="20.00" fill="#8a7ef0" fill-opacity="0.3"/><rect x="290.00" y="378.00" width="1.20" height="38.00" fill="#8a7ef0" fill-opacity="0.35"/><rect x="290.00" y="492.00" width="1.20" height="20.00" fill="#8a7ef0" fill-opacity="0.3"/><rect x="321.00" y="378.00" width="1.20" height="38.00" fill="#8a7ef0" fill-opacity="0.35"/><rect x="321.00" y="492.00" width="1.20" height="20.00" fill="#8a7ef0" fill-opacity="0.3"/><rect x="366.00" y="378.00" width="1.20" height="38.00" fill="#8a7ef0" fill-opacity="0.35"/><rect x="366.00" y="492.00" width="1.20" height="20.00" fill="#8a7ef0" fill-opacity="0.3"/><rect x="381.00" y="378.00" width="1.20" height="38.00" fill="#8a7ef0" fill-opacity="0.35"/><rect x="381.00" y="492.00" width="1.20" height="20.00" fill="#8a7ef0" fill-opacity="0.3"/><rect x="396.00" y="378.00" width="1.20" height="38.00" fill="#8a7ef0" fill-opacity="0.35"/><rect x="411.00" y="378.00" width="1.20" height="38.00" fill="#8a7ef0" fill-opacity="0.35"/><rect x="411.00" y="492.00" width="1.20" height="20.00" fill="#8a7ef0" fill-opacity="0.3"/><rect x="431.00" y="378.00" width="1.20" height="38.00" fill="#8a7ef0" fill-opacity="0.35"/><rect x="431.00" y="492.00" width="1.20" height="20.00" fill="#8a7ef0" fill-opacity="0.3"/><rect x="447.00" y="378.00" width="1.20" height="38.00" fill="#8a7ef0" fill-opacity="0.35"/><rect x="461.00" y="378.00" width="1.20" height="38.00" fill="#8a7ef0" fill-opacity="0.35"/><rect x="476.00" y="378.00" width="1.20" height="38.00" fill="#8a7ef0" fill-opacity="0.35"/><rect x="476.00" y="492.00" width="1.20" height="20.00" fill="#8a7ef0" fill-opacity="0.3"/><rect x="491.00" y="378.00" width="1.20" height="38.00" fill="#8a7ef0" fill-opacity="0.35"/><rect x="491.00" y="492.00" width="1.20" height="20.00" fill="#8a7ef0" fill-opacity="0.3"/><rect x="501.00" y="378.00" width="1.20" height="38.00" fill="#8a7ef0" fill-opacity="0.35"/><rect x="541.00" y="378.00" width="1.20" height="38.00" fill="#8a7ef0" fill-opacity="0.35"/><rect x="541.00" y="492.00" width="1.20" height="20.00" fill="#8a7ef0" fill-opacity="0.3"/><rect x="548.00" y="378.00" width="1.20" height="38.00" fill="#8a7ef0" fill-opacity="0.35"/><rect x="561.00" y="378.00" width="1.20" height="38.00" fill="#8a7ef0" fill-opacity="0.35"/><rect x="561.00" y="492.00" width="1.20" height="20.00" fill="#8a7ef0" fill-opacity="0.3"/><rect x="576.00" y="378.00" width="1.20" height="38.00" fill="#8a7ef0" fill-opacity="0.35"/><rect x="576.00" y="492.00" width="1.20" height="20.00" fill="#8a7ef0" fill-opacity="0.3"/><rect x="641.00" y="378.00" width="1.20" height="38.00" fill="#8a7ef0" fill-opacity="0.35"/><rect x="641.00" y="492.00" width="1.20" height="20.00" fill="#8a7ef0" fill-opacity="0.3"/><rect x="646.00" y="378.00" width="1.20" height="38.00" fill="#8a7ef0" fill-opacity="0.35"/><rect x="646.00" y="492.00" width="1.20" height="20.00" fill="#8a7ef0" fill-opacity="0.3"/></g></g><rect x="26.20" y="186.00" width="826.60" height="1298.80" fill="none" stroke="#241a30" stroke-width="1.6"/><path d="M857.20 337.70 L881.40 337.70" fill="none" stroke="#000" stroke-width="1.60"/><text x="885.00" y="346.30" font-size="24" font-style="italic">CCND1</text><path d="M857.20 424.00 L865.50 424.00 L873.60 368.27 L881.40 368.27" fill="none" stroke="#000" stroke-width="1.60"/><text x="885.00" y="376.87" font-size="24" font-style="italic">GMNN</text><path d="M857.20 556.60 L865.50 556.60 L873.60 398.84 L881.40 398.84" fill="none" stroke="#000" stroke-width="1.60"/><text x="885.00" y="407.44" font-size="24" font-style="italic">CENPE</text><path d="M857.20 556.60 L865.50 556.60 L873.60 429.41 L881.40 429.41" fill="none" stroke="#000" stroke-width="1.60"/><text x="885.00" y="438.01" font-size="24" font-style="italic">CCNB1</text><path d="M857.20 572.50 L865.50 572.50 L873.60 459.98 L881.40 459.98" fill="none" stroke="#000" stroke-width="1.60"/><text x="885.00" y="468.58" font-size="24" font-style="italic">PLK1</text><path d="M857.20 575.40 L865.50 575.40 L873.60 490.55 L881.40 490.55" fill="none" stroke="#000" stroke-width="1.60"/><text x="885.00" y="499.15" font-size="24" font-style="italic">CDC20</text><path d="M857.20 585.50 L865.50 585.50 L873.60 521.12 L881.40 521.12" fill="none" stroke="#000" stroke-width="1.60"/><text x="885.00" y="529.72" font-size="24" font-style="italic">BUB1</text><path d="M857.20 585.90 L865.50 585.90 L873.60 551.69 L881.40 551.69" fill="none" stroke="#000" stroke-width="1.60"/><text x="885.00" y="560.29" font-size="24" font-style="italic">CCNA2</text><path d="M857.20 586.50 L865.50 586.50 L873.60 582.26 L881.40 582.26" fill="none" stroke="#000" stroke-width="1.60"/><text x="885.00" y="590.86" font-size="24" font-style="italic">AURKA</text><path d="M857.20 590.40 L865.50 590.40 L873.60 612.83 L881.40 612.83" fill="none" stroke="#000" stroke-width="1.60"/><text x="885.00" y="621.43" font-size="24" font-style="italic">CDC25B</text><path d="M857.20 592.40 L865.50 592.40 L873.60 643.40 L881.40 643.40" fill="none" stroke="#000" stroke-width="1.60"/><text x="885.00" y="652.00" font-size="24" font-style="italic">CDC25C</text><path d="M857.20 623.00 L865.50 623.00 L873.60 673.97 L881.40 673.97" fill="none" stroke="#000" stroke-width="1.60"/><text x="885.00" y="682.57" font-size="24" font-style="italic">MKI67</text><path d="M857.20 770.80 L865.50 770.80 L873.60 704.54 L881.40 704.54" fill="none" stroke="#000" stroke-width="1.60"/><text x="885.00" y="713.14" font-size="24" font-style="italic">SGO1</text><path d="M857.20 834.90 L865.50 834.90 L873.60 735.11 L881.40 735.11" fill="none" stroke="#000" stroke-width="1.60"/><text x="885.00" y="743.71" font-size="24" font-style="italic">H3C2</text><path d="M857.20 858.50 L865.50 858.50 L873.60 765.68 L881.40 765.68" fill="none" stroke="#000" stroke-width="1.60"/><text x="885.00" y="774.28" font-size="24" font-style="italic">H1−4</text><path d="M857.20 863.50 L865.50 863.50 L873.60 796.25 L881.40 796.25" fill="none" stroke="#000" stroke-width="1.60"/><text x="885.00" y="804.85" font-size="24" font-style="italic">CDC6</text><path d="M857.20 865.00 L865.50 865.00 L873.60 826.82 L881.40 826.82" fill="none" stroke="#000" stroke-width="1.60"/><text x="885.00" y="835.42" font-size="24" font-style="italic">CHAF1A</text><path d="M857.20 874.70 L865.50 874.70 L873.60 857.39 L881.40 857.39" fill="none" stroke="#000" stroke-width="1.60"/><text x="885.00" y="865.99" font-size="24" font-style="italic">POLE</text><path d="M857.20 879.10 L865.50 879.10 L873.60 887.96 L881.40 887.96" fill="none" stroke="#000" stroke-width="1.60"/><text x="885.00" y="896.56" font-size="24" font-style="italic">FEN1</text><path d="M857.20 881.00 L865.50 881.00 L873.60 918.53 L881.40 918.53" fill="none" stroke="#000" stroke-width="1.60"/><text x="885.00" y="927.13" font-size="24" font-style="italic">PCNA</text><path d="M857.20 882.90 L865.50 882.90 L873.60 949.10 L881.40 949.10" fill="none" stroke="#000" stroke-width="1.60"/><text x="885.00" y="957.70" font-size="24" font-style="italic">CDC45</text><path d="M857.20 886.30 L865.50 886.30 L873.60 979.67 L881.40 979.67" fill="none" stroke="#000" stroke-width="1.60"/><text x="885.00" y="988.27" font-size="24" font-style="italic">PRIM1</text><path d="M857.20 888.20 L865.50 888.20 L873.60 1010.24 L881.40 1010.24" fill="none" stroke="#000" stroke-width="1.60"/><text x="885.00" y="1018.84" font-size="24" font-style="italic">CHAF1B</text><path d="M857.20 895.70 L865.50 895.70 L873.60 1040.81 L881.40 1040.81" fill="none" stroke="#000" stroke-width="1.60"/><text x="885.00" y="1049.41" font-size="24" font-style="italic">POLA1</text><path d="M857.20 936.40 L865.50 936.40 L873.60 1071.38 L881.40 1071.38" fill="none" stroke="#000" stroke-width="1.60"/><text x="885.00" y="1079.98" font-size="24" font-style="italic">FBXO5</text><path d="M857.20 936.40 L865.50 936.40 L873.60 1101.95 L881.40 1101.95" fill="none" stroke="#000" stroke-width="1.60"/><text x="885.00" y="1110.55" font-size="24" font-style="italic">CDC25A</text><path d="M857.20 1255.20 L881.40 1255.20" fill="none" stroke="#000" stroke-width="1.60"/><text x="885.00" y="1263.80" font-size="24" font-style="italic">PLK2</text><path d="M857.20 1318.10 L881.40 1318.10" fill="none" stroke="#000" stroke-width="1.60"/><text x="885.00" y="1326.70" font-size="24" font-style="italic">CDKN1A</text><g clip-path="url(#bclip)"><g filter="url(#bnoise)"><g filter="url(#bblur)"><rect x="1222.00" y="184.10" width="856.60" height="1308.79" fill="#ffffff"/><rect x="1225.00" y="186.10" width="850.60" height="15.60" fill="url(#g11)"/><rect x="1225.00" y="207.49" width="850.60" height="15.60" fill="url(#g12)"/><rect x="1225.00" y="228.88" width="850.60" height="15.60" fill="url(#g13)"/><rect x="1225.00" y="250.27" width="850.60" height="15.60" fill="url(#g14)"/><rect x="1225.00" y="271.66" width="850.60" height="15.60" fill="url(#g15)"/><rect x="1225.00" y="293.05" width="850.60" height="15.60" fill="url(#g16)"/><rect x="1225.00" y="314.44" width="850.60" height="15.60" fill="url(#g17)"/><rect x="1225.00" y="335.83" width="850.60" height="15.60" fill="url(#g18)"/><rect x="1225.00" y="357.22" width="850.60" height="15.60" fill="url(#g19)"/><rect x="1225.00" y="378.61" width="850.60" height="15.60" fill="url(#g20)"/><rect x="1225.00" y="400.00" width="850.60" height="15.60" fill="url(#g21)"/><rect x="1225.00" y="421.39" width="850.60" height="15.60" fill="url(#g22)"/><rect x="1225.00" y="442.78" width="850.60" height="15.60" fill="url(#g23)"/><rect x="1225.00" y="464.17" width="850.60" height="15.60" fill="url(#g24)"/><rect x="1225.00" y="485.56" width="850.60" height="15.60" fill="url(#g25)"/><rect x="1225.00" y="506.95" width="850.60" height="15.60" fill="url(#g26)"/><rect x="1225.00" y="528.34" width="850.60" height="15.60" fill="url(#g27)"/><rect x="1225.00" y="549.73" width="850.60" height="15.60" fill="url(#g28)"/><rect x="1225.00" y="571.12" width="850.60" height="15.60" fill="url(#g29)"/><rect x="1225.00" y="592.51" width="850.60" height="15.60" fill="url(#g30)"/><rect x="1225.00" y="613.90" width="850.60" height="15.60" fill="url(#g31)"/><rect x="1225.00" y="635.29" width="850.60" height="15.60" fill="url(#g32)"/><rect x="1225.00" y="656.68" width="850.60" height="15.60" fill="url(#g33)"/><rect x="1225.00" y="678.07" width="850.60" height="15.60" fill="url(#g34)"/><rect x="1225.00" y="699.46" width="850.60" height="15.60" fill="url(#g35)"/><rect x="1225.00" y="720.85" width="850.60" height="15.60" fill="url(#g36)"/><rect x="1225.00" y="742.24" width="850.60" height="15.60" fill="url(#g37)"/><rect x="1225.00" y="763.63" width="850.60" height="15.60" fill="url(#g38)"/><rect x="1225.00" y="785.02" width="850.60" height="15.60" fill="url(#g39)"/><rect x="1225.00" y="806.41" width="850.60" height="15.60" fill="url(#g40)"/><rect x="1225.00" y="827.80" width="850.60" height="15.60" fill="url(#g41)"/><rect x="1225.00" y="849.19" width="850.60" height="15.60" fill="url(#g42)"/><rect x="1225.00" y="870.58" width="850.60" height="15.60" fill="url(#g43)"/><rect x="1225.00" y="891.97" width="850.60" height="15.60" fill="url(#g44)"/><rect x="1225.00" y="913.36" width="850.60" height="15.60" fill="url(#g45)"/><rect x="1225.00" y="934.75" width="850.60" height="15.60" fill="url(#g46)"/><rect x="1225.00" y="956.14" width="850.60" height="15.60" fill="url(#g47)"/><rect x="1225.00" y="977.53" width="850.60" height="15.60" fill="url(#g48)"/><rect x="1225.00" y="998.92" width="850.60" height="15.60" fill="url(#g49)"/><rect x="1225.00" y="1020.31" width="850.60" height="15.60" fill="url(#g50)"/><rect x="1225.00" y="1041.70" width="850.60" height="15.60" fill="url(#g51)"/><rect x="1225.00" y="1063.09" width="850.60" height="15.60" fill="url(#g52)"/><rect x="1225.00" y="1084.48" width="850.60" height="15.60" fill="url(#g53)"/><rect x="1225.00" y="1105.87" width="850.60" height="15.60" fill="url(#g54)"/><rect x="1225.00" y="1127.26" width="850.60" height="15.60" fill="url(#g55)"/><rect x="1225.00" y="1148.65" width="850.60" height="15.60" fill="url(#g56)"/><rect x="1225.00" y="1170.04" width="850.60" height="15.60" fill="url(#g57)"/><rect x="1225.00" y="1191.43" width="850.60" height="15.60" fill="url(#g58)"/><rect x="1225.00" y="1212.82" width="850.60" height="15.60" fill="url(#g59)"/><rect x="1225.00" y="1234.21" width="850.60" height="15.60" fill="url(#g60)"/><rect x="1225.00" y="1255.60" width="850.60" height="15.60" fill="url(#g61)"/><rect x="1225.00" y="1276.99" width="850.60" height="15.60" fill="url(#g62)"/><rect x="1225.00" y="1298.38" width="850.60" height="15.60" fill="url(#g63)"/><rect x="1225.00" y="1319.77" width="850.60" height="15.60" fill="url(#g64)"/><rect x="1225.00" y="1341.16" width="850.60" height="15.60" fill="url(#g65)"/><rect x="1225.00" y="1362.55" width="850.60" height="15.60" fill="url(#g66)"/><rect x="1225.00" y="1383.94" width="850.60" height="15.60" fill="url(#g67)"/><rect x="1225.00" y="1405.33" width="850.60" height="15.60" fill="url(#g68)"/><rect x="1225.00" y="1426.72" width="850.60" height="15.60" fill="url(#g69)"/><rect x="1225.00" y="1448.11" width="850.60" height="15.60" fill="url(#g70)"/><rect x="1225.00" y="1469.50" width="850.60" height="15.60" fill="url(#g71)"/></g></g></g><text x="1228.60" y="201.90" font-size="20" text-anchor="end" font-weight="bold">*UGC_Cys</text><text x="1228.60" y="223.29" font-size="20" text-anchor="end" font-weight="bold">*UGU_Cys</text><text x="1228.60" y="244.68" font-size="20" text-anchor="end">CCC_Pro</text><text x="1228.60" y="266.07" font-size="20" text-anchor="end">GAC_Asp</text><text x="1228.60" y="287.46" font-size="20" text-anchor="end">UGG_Trp</text><text x="1228.60" y="308.85" font-size="20" text-anchor="end">GGC_Gly</text><text x="1228.60" y="330.24" font-size="20" text-anchor="end">GGG_Gly</text><text x="1228.60" y="351.63" font-size="20" text-anchor="end">AGC_Ser</text><text x="1228.60" y="373.02" font-size="20" text-anchor="end">GUG_Val</text><text x="1228.60" y="394.41" font-size="20" text-anchor="end">GAU_Asp</text><text x="1228.60" y="415.80" font-size="20" text-anchor="end">GGA_Gly</text><text x="1228.60" y="437.19" font-size="20" text-anchor="end">AAU_Asn</text><text x="1228.60" y="458.58" font-size="20" text-anchor="end">CCA_Pro</text><text x="1228.60" y="479.97" font-size="20" text-anchor="end">ACA_Thr</text><text x="1228.60" y="501.36" font-size="20" text-anchor="end">UUC_Phe</text><text x="1228.60" y="522.75" font-size="20" text-anchor="end">GUC_Val</text><text x="1228.60" y="544.14" font-size="20" text-anchor="end">CUC_Leu</text><text x="1228.60" y="565.53" font-size="20" text-anchor="end">UCC_Ser</text><text x="1228.60" y="586.92" font-size="20" text-anchor="end">ACC_Thr</text><text x="1228.60" y="608.31" font-size="20" text-anchor="end">ACG_Thr</text><text x="1228.60" y="629.70" font-size="20" text-anchor="end">CAC_His</text><text x="1228.60" y="651.09" font-size="20" text-anchor="end">UAC_Tyr</text><text x="1228.60" y="672.48" font-size="20" text-anchor="end">AAC_Asn</text><text x="1228.60" y="693.87" font-size="20" text-anchor="end" font-weight="bold">*UUU_Phe</text><text x="1228.60" y="715.26" font-size="20" text-anchor="end">UCU_Ser</text><text x="1228.60" y="736.65" font-size="20" text-anchor="end">UAU_Tyr</text><text x="1228.60" y="758.04" font-size="20" text-anchor="end">GUU_Val</text><text x="1228.60" y="779.43" font-size="20" text-anchor="end">GGU_Gly</text><text x="1228.60" y="800.82" font-size="20" text-anchor="end">CCU_Pro</text><text x="1228.60" y="822.21" font-size="20" text-anchor="end">ACU_Thr</text><text x="1228.60" y="843.60" font-size="20" text-anchor="end">CAU_His</text><text x="1228.60" y="864.99" font-size="20" text-anchor="end">AGU_Ser</text><text x="1228.60" y="886.38" font-size="20" text-anchor="end" font-weight="bold">*AUA_Ile</text><text x="1228.60" y="907.77" font-size="20" text-anchor="end" font-weight="bold">*AAA_Lys</text><text x="1228.60" y="929.16" font-size="20" text-anchor="end">UUA_Leu</text><text x="1228.60" y="950.55" font-size="20" text-anchor="end">UUG_Leu</text><text x="1228.60" y="971.94" font-size="20" text-anchor="end">GCU_Ala</text><text x="1228.60" y="993.33" font-size="20" text-anchor="end">CUU_Leu</text><text x="1228.60" y="1014.72" font-size="20" text-anchor="end">AUU_Ile</text><text x="1228.60" y="1036.11" font-size="20" text-anchor="end">CUA_Leu</text><text x="1228.60" y="1057.50" font-size="20" text-anchor="end">GCA_Ala</text><text x="1228.60" y="1078.89" font-size="20" text-anchor="end">CAA_Gln</text><text x="1228.60" y="1100.28" font-size="20" text-anchor="end">UCA_Ser</text><text x="1228.60" y="1121.67" font-size="20" text-anchor="end">GUA_Val</text><text x="1228.60" y="1143.06" font-size="20" text-anchor="end" font-weight="bold">*GAA_Glu</text><text x="1228.60" y="1164.45" font-size="20" text-anchor="end">GAG_Glu</text><text x="1228.60" y="1185.84" font-size="20" text-anchor="end">AUG_Met</text><text x="1228.60" y="1207.23" font-size="20" text-anchor="end">AGG_Arg</text><text x="1228.60" y="1228.62" font-size="20" text-anchor="end">CGA_Arg</text><text x="1228.60" y="1250.01" font-size="20" text-anchor="end">AGA_Arg</text><text x="1228.60" y="1271.40" font-size="20" text-anchor="end">CGG_Arg</text><text x="1228.60" y="1292.79" font-size="20" text-anchor="end">CUG_Leu</text><text x="1228.60" y="1314.18" font-size="20" text-anchor="end">CAG_Gln</text><text x="1228.60" y="1335.57" font-size="20" text-anchor="end" font-weight="bold">*GCG_Ala</text><text x="1228.60" y="1356.96" font-size="20" text-anchor="end">CCG_Pro</text><text x="1228.60" y="1378.35" font-size="20" text-anchor="end">UCG_Ser</text><text x="1228.60" y="1399.74" font-size="20" text-anchor="end">GCC_Ala</text><text x="1228.60" y="1421.13" font-size="20" text-anchor="end" font-weight="bold">*CGC_Arg</text><text x="1228.60" y="1442.52" font-size="20" text-anchor="end" font-weight="bold">*CGU_Arg</text><text x="1228.60" y="1463.91" font-size="20" text-anchor="end">AUC_Ile</text><text x="1228.60" y="1485.30" font-size="20" text-anchor="end" font-weight="bold">*AAG_Lys</text><rect x="1870.00" y="1136.26" width="193.60" height="2.00" fill="#d07060" fill-opacity="0.6"/><rect x="1237.00" y="899.97" width="826.60" height="2.00" fill="#506080" fill-opacity="0.5"/><rect x="1440.00" y="686.07" width="120.00" height="2.00" fill="#c04030" fill-opacity="0.6"/><path d="M2067.60 1128.40 L2076.00 1128.40 L2083.50 1064.10 L2091.40 1064.10" fill="none" stroke="#000" stroke-width="1.40"/><text x="2097.00" y="1072.70" font-size="24">−2</text><path d="M2067.60 1130.60 L2076.00 1130.60 L2083.50 1088.10 L2091.40 1088.10" fill="none" stroke="#000" stroke-width="1.40"/><text x="2097.00" y="1096.70" font-size="24">−1</text><path d="M2067.60 1132.90 L2076.00 1132.90 L2083.50 1111.30 L2091.40 1111.30" fill="none" stroke="#000" stroke-width="1.40"/><text x="2097.00" y="1119.90" font-size="24">E</text><path d="M2067.60 1135.10 L2076.00 1135.10 L2083.50 1134.60 L2091.40 1134.60" fill="none" stroke="#000" stroke-width="1.40"/><text x="2097.00" y="1143.20" font-size="24">P</text><path d="M2067.60 1137.30 L2076.00 1137.30 L2083.50 1158.30 L2091.40 1158.30" fill="none" stroke="#000" stroke-width="1.40"/><text x="2097.00" y="1166.90" font-size="24">A</text><path d="M2067.60 1139.60 L2076.00 1139.60 L2083.50 1182.10 L2091.40 1182.10" fill="none" stroke="#000" stroke-width="1.40"/><text x="2097.00" y="1190.70" font-size="24">+1</text><path d="M2067.60 1141.80 L2076.00 1141.80 L2083.50 1205.90 L2091.40 1205.90" fill="none" stroke="#000" stroke-width="1.40"/><text x="2097.00" y="1214.50" font-size="24">+2</text><text x="26.50" y="1537.70" font-size="24">z-score</text><text x="26.50" y="1567.00" font-size="24">expression</text><rect x="25.30" y="1578.30" width="24.60" height="94.40" fill="url(#g72)"/><rect x="25.30" y="1579.70" width="6.00" height="1.60" fill="#ffffff"/><rect x="43.90" y="1579.70" width="6.00" height="1.60" fill="#ffffff"/><rect x="25.30" y="1602.20" width="6.00" height="1.60" fill="#ffffff"/><rect x="43.90" y="1602.20" width="6.00" height="1.60" fill="#ffffff"/><rect x="25.30" y="1624.90" width="6.00" height="1.60" fill="#ffffff"/><rect x="43.90" y="1624.90" width="6.00" height="1.60" fill="#ffffff"/><rect x="25.30" y="1646.70" width="6.00" height="1.60" fill="#ffffff"/><rect x="43.90" y="1646.70" width="6.00" height="1.60" fill="#ffffff"/><rect x="25.30" y="1669.70" width="6.00" height="1.60" fill="#ffffff"/><rect x="43.90" y="1669.70" width="6.00" height="1.60" fill="#ffffff"/><text x="57.00" y="1589.70" font-size="20">4</text><text x="57.00" y="1609.80" font-size="20">2</text><text x="57.00" y="1631.80" font-size="20">0</text><text x="57.00" y="1654.20" font-size="20">−2</text><text x="57.00" y="1676.00" font-size="20">−4</text><text x="209.30" y="1568.00" font-size="24">Fraction</text><rect x="209.30" y="1580.40" width="21.40" height="20.60" fill="#f47fc2"/><text x="238.30" y="1597.80" font-size="20">G0</text><rect x="209.30" y="1603.40" width="21.40" height="21.00" fill="#4f9ed6"/><text x="238.30" y="1621.20" font-size="20">Interphase</text><rect x="209.30" y="1626.90" width="21.40" height="20.70" fill="#9a4fac"/><text x="238.30" y="1644.40" font-size="20">Mitotic</text><text x="397.40" y="1567.40" font-size="24">Clusters</text><rect x="397.40" y="1580.10" width="21.50" height="20.50" fill="#f8766d"/><text x="426.20" y="1597.40" font-size="20">1: G1</text><rect x="397.40" y="1603.40" width="21.50" height="20.90" fill="#cd9600"/><text x="426.20" y="1621.10" font-size="20">2: G1</text><rect x="397.40" y="1627.10" width="21.50" height="20.40" fill="#7cae00"/><text x="426.20" y="1644.30" font-size="20">3: G1</text><rect x="397.40" y="1650.30" width="21.50" height="20.90" fill="#00be67"/><text x="426.20" y="1668.00" font-size="20">4: G1/S</text><rect x="531.50" y="1580.10" width="21.50" height="20.50" fill="#00bfc4"/><text x="560.00" y="1597.40" font-size="20">5: S/G2</text><rect x="531.50" y="1603.40" width="21.50" height="20.90" fill="#00a9ff"/><text x="560.00" y="1621.10" font-size="20">6: G2</text><rect x="531.50" y="1627.10" width="21.50" height="20.40" fill="#c77cff"/><text x="560.00" y="1644.30" font-size="20">7: M</text><rect x="531.50" y="1650.30" width="21.50" height="20.90" fill="#ff61cc"/><text x="560.00" y="1668.00" font-size="20">8: G0</text><text x="703.60" y="1567.40" font-size="24">Pseudotime</text><rect x="701.70" y="1578.10" width="25.00" height="94.70" fill="url(#g73)"/><rect x="701.70" y="1581.10" width="6.00" height="1.60" fill="#ffffff"/><rect x="720.70" y="1581.10" width="6.00" height="1.60" fill="#ffffff"/><rect x="701.70" y="1666.40" width="6.00" height="1.60" fill="#ffffff"/><rect x="720.70" y="1666.40" width="6.00" height="1.60" fill="#ffffff"/><text x="732.40" y="1589.70" font-size="20">1</text><text x="732.40" y="1630.40" font-size="20">0.5</text><text x="732.40" y="1674.20" font-size="20">0</text><text x="885.80" y="1538.20" font-size="24">log</text><text x="918.70" y="1545.80" font-size="14">10</text><text x="885.80" y="1567.40" font-size="24">mKO2−CDT1</text><rect x="883.90" y="1578.00" width="24.80" height="95.00" fill="url(#g74)"/><rect x="883.90" y="1579.20" width="6.00" height="1.60" fill="#ffffff"/><rect x="902.70" y="1579.20" width="6.00" height="1.60" fill="#ffffff"/><rect x="883.90" y="1601.80" width="6.00" height="1.60" fill="#ffffff"/><rect x="902.70" y="1601.80" width="6.00" height="1.60" fill="#ffffff"/><rect x="883.90" y="1624.00" width="6.00" height="1.60" fill="#ffffff"/><rect x="902.70" y="1624.00" width="6.00" height="1.60" fill="#ffffff"/><rect x="883.90" y="1646.10" width="6.00" height="1.60" fill="#ffffff"/><rect x="902.70" y="1646.10" width="6.00" height="1.60" fill="#ffffff"/><rect x="883.90" y="1668.20" width="6.00" height="1.60" fill="#ffffff"/><rect x="902.70" y="1668.20" width="6.00" height="1.60" fill="#ffffff"/><text x="914.40" y="1587.70" font-size="20">4</text><text x="914.40" y="1609.80" font-size="20">3</text><text x="914.40" y="1632.00" font-size="20">2</text><text x="914.40" y="1654.10" font-size="20">1</text><text x="914.40" y="1676.70" font-size="20">0</text><text x="1093.60" y="1538.20" font-size="24">log</text><text x="1126.50" y="1545.80" font-size="14">10</text><text x="1093.60" y="1567.40" font-size="24">mAG−GMNN</text><rect x="1091.70" y="1578.00" width="25.00" height="95.00" fill="url(#g75)"/><rect x="1091.70" y="1579.20" width="6.00" height="1.60" fill="#ffffff"/><rect x="1110.70" y="1579.20" width="6.00" height="1.60" fill="#ffffff"/><rect x="1091.70" y="1601.80" width="6.00" height="1.60" fill="#ffffff"/><rect x="1110.70" y="1601.80" width="6.00" height="1.60" fill="#ffffff"/><rect x="1091.70" y="1624.00" width="6.00" height="1.60" fill="#ffffff"/><rect x="1110.70" y="1624.00" width="6.00" height="1.60" fill="#ffffff"/><rect x="1091.70" y="1646.10" width="6.00" height="1.60" fill="#ffffff"/><rect x="1110.70" y="1646.10" width="6.00" height="1.60" fill="#ffffff"/><rect x="1091.70" y="1668.20" width="6.00" height="1.60" fill="#ffffff"/><rect x="1110.70" y="1668.20" width="6.00" height="1.60" fill="#ffffff"/><text x="1122.40" y="1587.70" font-size="20">4</text><text x="1122.40" y="1609.80" font-size="20">3</text><text x="1122.40" y="1632.00" font-size="20">2</text><text x="1122.40" y="1654.10" font-size="20">1</text><text x="1122.40" y="1676.70" font-size="20">0</text><text x="1303.00" y="1538.20" font-size="24">log</text><text x="1336.00" y="1545.80" font-size="14">2</text><text x="1347.30" y="1538.20" font-size="24">f.c.</text><text x="1303.00" y="1567.40" font-size="24">site occupancy</text><rect x="1301.20" y="1578.00" width="24.80" height="95.00" fill="url(#g76)"/><rect x="1301.20" y="1579.70" width="6.00" height="1.60" fill="#ffffff"/><rect x="1320.00" y="1579.70" width="6.00" height="1.60" fill="#ffffff"/><rect x="1301.20" y="1601.40" width="6.00" height="1.60" fill="#ffffff"/><rect x="1320.00" y="1601.40" width="6.00" height="1.60" fill="#ffffff"/><rect x="1301.20" y="1623.20" width="6.00" height="1.60" fill="#ffffff"/><rect x="1320.00" y="1623.20" width="6.00" height="1.60" fill="#ffffff"/><rect x="1301.20" y="1646.60" width="6.00" height="1.60" fill="#ffffff"/><rect x="1320.00" y="1646.60" width="6.00" height="1.60" fill="#ffffff"/><rect x="1301.20" y="1668.70" width="6.00" height="1.60" fill="#ffffff"/><rect x="1320.00" y="1668.70" width="6.00" height="1.60" fill="#ffffff"/><text x="1337.00" y="1588.70" font-size="20">1.0</text><text x="1337.00" y="1609.40" font-size="20">0.5</text><text x="1337.00" y="1631.10" font-size="20">0.0</text><text x="1330.40" y="1654.60" font-size="20">−0.5</text><text x="1330.40" y="1677.20" font-size="20">−1.0</text></svg></body></html>
